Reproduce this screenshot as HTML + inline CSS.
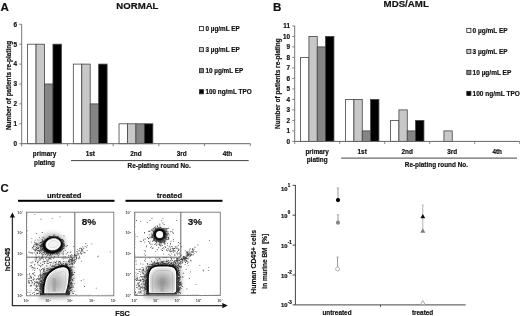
<!DOCTYPE html><html><head><meta charset="utf-8"><style>html,body{margin:0;padding:0;background:#fff;width:520px;height:316px;overflow:hidden;}svg{display:block;will-change:transform;}</style></head><body>
<svg width="520" height="316" viewBox="0 0 520 316" font-family='"Liberation Sans", sans-serif'>
<rect width="520" height="316" fill="#fff"/>
<text x="0.50" y="10.60" font-size="11.6" text-anchor="start" font-weight="bold" fill="#111" stroke="#111" stroke-width="0.18" >A</text>
<text x="137.40" y="9.40" font-size="9.6" text-anchor="middle" font-weight="bold" fill="#111" stroke="#111" stroke-width="0.18" >NORMAL</text>
<rect x="27.60" y="44.20" width="8.45" height="99.50" fill="#ffffff" stroke="#444" stroke-width="0.8"/>
<rect x="36.05" y="44.20" width="8.45" height="99.50" fill="#c8c8c8" stroke="#444" stroke-width="0.8"/>
<rect x="44.50" y="84.00" width="8.45" height="59.70" fill="#858585" stroke="#444" stroke-width="0.8"/>
<rect x="52.95" y="44.20" width="8.45" height="99.50" fill="#000000" stroke="#444" stroke-width="0.8"/>
<rect x="73.32" y="64.10" width="8.45" height="79.60" fill="#ffffff" stroke="#444" stroke-width="0.8"/>
<rect x="81.77" y="64.10" width="8.45" height="79.60" fill="#c8c8c8" stroke="#444" stroke-width="0.8"/>
<rect x="90.22" y="103.90" width="8.45" height="39.80" fill="#858585" stroke="#444" stroke-width="0.8"/>
<rect x="98.67" y="64.10" width="8.45" height="79.60" fill="#000000" stroke="#444" stroke-width="0.8"/>
<rect x="119.04" y="123.80" width="8.45" height="19.90" fill="#ffffff" stroke="#444" stroke-width="0.8"/>
<rect x="127.49" y="123.80" width="8.45" height="19.90" fill="#c8c8c8" stroke="#444" stroke-width="0.8"/>
<rect x="135.94" y="123.80" width="8.45" height="19.90" fill="#858585" stroke="#444" stroke-width="0.8"/>
<rect x="144.39" y="123.80" width="8.45" height="19.90" fill="#000000" stroke="#444" stroke-width="0.8"/>
<line x1="21.70" y1="24.30" x2="21.70" y2="146.20" stroke="#777" stroke-width="1"/>
<line x1="19.20" y1="143.70" x2="21.70" y2="143.70" stroke="#777" stroke-width="0.9"/>
<text x="17.00" y="146.00" font-size="6.4" text-anchor="end" font-weight="bold" fill="#111" stroke="#111" stroke-width="0.18" >0</text>
<line x1="19.20" y1="123.80" x2="21.70" y2="123.80" stroke="#777" stroke-width="0.9"/>
<text x="17.00" y="126.10" font-size="6.4" text-anchor="end" font-weight="bold" fill="#111" stroke="#111" stroke-width="0.18" >1</text>
<line x1="19.20" y1="103.90" x2="21.70" y2="103.90" stroke="#777" stroke-width="0.9"/>
<text x="17.00" y="106.20" font-size="6.4" text-anchor="end" font-weight="bold" fill="#111" stroke="#111" stroke-width="0.18" >2</text>
<line x1="19.20" y1="84.00" x2="21.70" y2="84.00" stroke="#777" stroke-width="0.9"/>
<text x="17.00" y="86.30" font-size="6.4" text-anchor="end" font-weight="bold" fill="#111" stroke="#111" stroke-width="0.18" >3</text>
<line x1="19.20" y1="64.10" x2="21.70" y2="64.10" stroke="#777" stroke-width="0.9"/>
<text x="17.00" y="66.40" font-size="6.4" text-anchor="end" font-weight="bold" fill="#111" stroke="#111" stroke-width="0.18" >4</text>
<line x1="19.20" y1="44.20" x2="21.70" y2="44.20" stroke="#777" stroke-width="0.9"/>
<text x="17.00" y="46.50" font-size="6.4" text-anchor="end" font-weight="bold" fill="#111" stroke="#111" stroke-width="0.18" >5</text>
<line x1="19.20" y1="24.30" x2="21.70" y2="24.30" stroke="#777" stroke-width="0.9"/>
<text x="17.00" y="26.60" font-size="6.4" text-anchor="end" font-weight="bold" fill="#111" stroke="#111" stroke-width="0.18" >6</text>
<line x1="21.70" y1="143.70" x2="250.30" y2="143.70" stroke="#666" stroke-width="1"/>
<line x1="67.42" y1="143.70" x2="67.42" y2="146.20" stroke="#777" stroke-width="0.9"/>
<line x1="113.14" y1="143.70" x2="113.14" y2="146.20" stroke="#777" stroke-width="0.9"/>
<line x1="158.86" y1="143.70" x2="158.86" y2="146.20" stroke="#777" stroke-width="0.9"/>
<line x1="204.58" y1="143.70" x2="204.58" y2="146.20" stroke="#777" stroke-width="0.9"/>
<line x1="250.30" y1="143.70" x2="250.30" y2="146.20" stroke="#777" stroke-width="0.9"/>
<text x="0.00" y="0.00" font-size="6.4" text-anchor="middle" font-weight="bold" fill="#111" stroke="#111" stroke-width="0.18" transform="translate(10.6,85.5) rotate(-90)">Number of patients re-plating</text>
<text x="44.56" y="155.90" font-size="6.4" text-anchor="middle" font-weight="bold" fill="#111" stroke="#111" stroke-width="0.18" >primary</text>
<text x="90.28" y="155.90" font-size="6.4" text-anchor="middle" font-weight="bold" fill="#111" stroke="#111" stroke-width="0.18" >1st</text>
<text x="136.00" y="155.90" font-size="6.4" text-anchor="middle" font-weight="bold" fill="#111" stroke="#111" stroke-width="0.18" >2nd</text>
<text x="181.72" y="155.90" font-size="6.4" text-anchor="middle" font-weight="bold" fill="#111" stroke="#111" stroke-width="0.18" >3rd</text>
<text x="227.44" y="155.90" font-size="6.4" text-anchor="middle" font-weight="bold" fill="#111" stroke="#111" stroke-width="0.18" >4th</text>
<text x="44.56" y="164.80" font-size="6.4" text-anchor="middle" font-weight="bold" fill="#111" stroke="#111" stroke-width="0.18" >plating</text>
<line x1="71.00" y1="160.60" x2="248.70" y2="160.60" stroke="#444" stroke-width="1"/>
<text x="127.60" y="168.10" font-size="6.4" text-anchor="start" font-weight="bold" fill="#111" stroke="#111" stroke-width="0.18" >Re-plating round No.</text>
<rect x="199.40" y="26.55" width="4.10" height="4.10" fill="#ffffff" stroke="#222" stroke-width="0.8"/>
<text x="205.50" y="30.90" font-size="6.35" text-anchor="start" font-weight="bold" fill="#111" stroke="#111" stroke-width="0.18" >0 µg/mL EP</text>
<rect x="199.40" y="47.60" width="4.10" height="4.10" fill="#c8c8c8" stroke="#222" stroke-width="0.8"/>
<text x="205.50" y="51.95" font-size="6.35" text-anchor="start" font-weight="bold" fill="#111" stroke="#111" stroke-width="0.18" >3 µg/mL EP</text>
<rect x="199.40" y="68.65" width="4.10" height="4.10" fill="#858585" stroke="#222" stroke-width="0.8"/>
<text x="205.50" y="73.00" font-size="6.35" text-anchor="start" font-weight="bold" fill="#111" stroke="#111" stroke-width="0.18" >10 µg/mL EP</text>
<rect x="199.40" y="89.70" width="4.10" height="4.10" fill="#000000" stroke="#222" stroke-width="0.8"/>
<text x="205.50" y="94.05" font-size="6.35" text-anchor="start" font-weight="bold" fill="#111" stroke="#111" stroke-width="0.18" >100 ng/mL TPO</text>
<text x="272.90" y="10.60" font-size="11.6" text-anchor="start" font-weight="bold" fill="#111" stroke="#111" stroke-width="0.18" >B</text>
<text x="406.20" y="7.20" font-size="9.7" text-anchor="middle" font-weight="bold" fill="#111" stroke="#111" stroke-width="0.18" >MDS/AML</text>
<rect x="300.60" y="57.40" width="8.33" height="84.00" fill="#ffffff" stroke="#444" stroke-width="0.8"/>
<rect x="308.93" y="36.40" width="8.33" height="105.00" fill="#c8c8c8" stroke="#444" stroke-width="0.8"/>
<rect x="317.26" y="46.90" width="8.33" height="94.50" fill="#858585" stroke="#444" stroke-width="0.8"/>
<rect x="325.59" y="36.40" width="8.33" height="105.00" fill="#000000" stroke="#444" stroke-width="0.8"/>
<rect x="345.60" y="99.40" width="8.33" height="42.00" fill="#ffffff" stroke="#444" stroke-width="0.8"/>
<rect x="353.93" y="99.40" width="8.33" height="42.00" fill="#c8c8c8" stroke="#444" stroke-width="0.8"/>
<rect x="362.26" y="130.90" width="8.33" height="10.50" fill="#858585" stroke="#444" stroke-width="0.8"/>
<rect x="370.59" y="99.40" width="8.33" height="42.00" fill="#000000" stroke="#444" stroke-width="0.8"/>
<rect x="390.60" y="120.40" width="8.33" height="21.00" fill="#ffffff" stroke="#444" stroke-width="0.8"/>
<rect x="398.93" y="109.90" width="8.33" height="31.50" fill="#c8c8c8" stroke="#444" stroke-width="0.8"/>
<rect x="407.26" y="130.90" width="8.33" height="10.50" fill="#858585" stroke="#444" stroke-width="0.8"/>
<rect x="415.59" y="120.40" width="8.33" height="21.00" fill="#000000" stroke="#444" stroke-width="0.8"/>
<rect x="443.93" y="130.90" width="8.33" height="10.50" fill="#c8c8c8" stroke="#444" stroke-width="0.8"/>
<line x1="294.70" y1="25.90" x2="294.70" y2="143.90" stroke="#777" stroke-width="1"/>
<line x1="292.20" y1="141.40" x2="294.70" y2="141.40" stroke="#777" stroke-width="0.9"/>
<text x="290.00" y="143.70" font-size="6.4" text-anchor="end" font-weight="bold" fill="#111" stroke="#111" stroke-width="0.18" >0</text>
<line x1="292.20" y1="130.90" x2="294.70" y2="130.90" stroke="#777" stroke-width="0.9"/>
<text x="290.00" y="133.20" font-size="6.4" text-anchor="end" font-weight="bold" fill="#111" stroke="#111" stroke-width="0.18" >1</text>
<line x1="292.20" y1="120.40" x2="294.70" y2="120.40" stroke="#777" stroke-width="0.9"/>
<text x="290.00" y="122.70" font-size="6.4" text-anchor="end" font-weight="bold" fill="#111" stroke="#111" stroke-width="0.18" >2</text>
<line x1="292.20" y1="109.90" x2="294.70" y2="109.90" stroke="#777" stroke-width="0.9"/>
<text x="290.00" y="112.20" font-size="6.4" text-anchor="end" font-weight="bold" fill="#111" stroke="#111" stroke-width="0.18" >3</text>
<line x1="292.20" y1="99.40" x2="294.70" y2="99.40" stroke="#777" stroke-width="0.9"/>
<text x="290.00" y="101.70" font-size="6.4" text-anchor="end" font-weight="bold" fill="#111" stroke="#111" stroke-width="0.18" >4</text>
<line x1="292.20" y1="88.90" x2="294.70" y2="88.90" stroke="#777" stroke-width="0.9"/>
<text x="290.00" y="91.20" font-size="6.4" text-anchor="end" font-weight="bold" fill="#111" stroke="#111" stroke-width="0.18" >5</text>
<line x1="292.20" y1="78.40" x2="294.70" y2="78.40" stroke="#777" stroke-width="0.9"/>
<text x="290.00" y="80.70" font-size="6.4" text-anchor="end" font-weight="bold" fill="#111" stroke="#111" stroke-width="0.18" >6</text>
<line x1="292.20" y1="67.90" x2="294.70" y2="67.90" stroke="#777" stroke-width="0.9"/>
<text x="290.00" y="70.20" font-size="6.4" text-anchor="end" font-weight="bold" fill="#111" stroke="#111" stroke-width="0.18" >7</text>
<line x1="292.20" y1="57.40" x2="294.70" y2="57.40" stroke="#777" stroke-width="0.9"/>
<text x="290.00" y="59.70" font-size="6.4" text-anchor="end" font-weight="bold" fill="#111" stroke="#111" stroke-width="0.18" >8</text>
<line x1="292.20" y1="46.90" x2="294.70" y2="46.90" stroke="#777" stroke-width="0.9"/>
<text x="290.00" y="49.20" font-size="6.4" text-anchor="end" font-weight="bold" fill="#111" stroke="#111" stroke-width="0.18" >9</text>
<line x1="292.20" y1="36.40" x2="294.70" y2="36.40" stroke="#777" stroke-width="0.9"/>
<text x="290.00" y="38.70" font-size="6.4" text-anchor="end" font-weight="bold" fill="#111" stroke="#111" stroke-width="0.18" >10</text>
<line x1="292.20" y1="25.90" x2="294.70" y2="25.90" stroke="#777" stroke-width="0.9"/>
<text x="290.00" y="28.20" font-size="6.4" text-anchor="end" font-weight="bold" fill="#111" stroke="#111" stroke-width="0.18" >11</text>
<line x1="294.70" y1="141.40" x2="519.70" y2="141.40" stroke="#666" stroke-width="1"/>
<line x1="339.70" y1="141.40" x2="339.70" y2="143.90" stroke="#777" stroke-width="0.9"/>
<line x1="384.70" y1="141.40" x2="384.70" y2="143.90" stroke="#777" stroke-width="0.9"/>
<line x1="429.70" y1="141.40" x2="429.70" y2="143.90" stroke="#777" stroke-width="0.9"/>
<line x1="474.70" y1="141.40" x2="474.70" y2="143.90" stroke="#777" stroke-width="0.9"/>
<line x1="519.70" y1="141.40" x2="519.70" y2="143.90" stroke="#777" stroke-width="0.9"/>
<text x="0.00" y="0.00" font-size="6.5" text-anchor="middle" font-weight="bold" fill="#111" stroke="#111" stroke-width="0.18" transform="translate(279.8,83.6) rotate(-90)">Number of patients re-plating</text>
<text x="317.20" y="154.30" font-size="6.4" text-anchor="middle" font-weight="bold" fill="#111" stroke="#111" stroke-width="0.18" >primary</text>
<text x="362.20" y="154.30" font-size="6.4" text-anchor="middle" font-weight="bold" fill="#111" stroke="#111" stroke-width="0.18" >1st</text>
<text x="407.20" y="154.30" font-size="6.4" text-anchor="middle" font-weight="bold" fill="#111" stroke="#111" stroke-width="0.18" >2nd</text>
<text x="452.20" y="154.30" font-size="6.4" text-anchor="middle" font-weight="bold" fill="#111" stroke="#111" stroke-width="0.18" >3rd</text>
<text x="497.20" y="154.30" font-size="6.4" text-anchor="middle" font-weight="bold" fill="#111" stroke="#111" stroke-width="0.18" >4th</text>
<text x="317.20" y="162.40" font-size="6.4" text-anchor="middle" font-weight="bold" fill="#111" stroke="#111" stroke-width="0.18" >plating</text>
<line x1="341.20" y1="158.10" x2="517.00" y2="158.10" stroke="#444" stroke-width="1"/>
<text x="468.00" y="167.00" font-size="6.4" text-anchor="end" font-weight="bold" fill="#111" stroke="#111" stroke-width="0.18" >Re-plating round No.</text>
<rect x="466.80" y="28.35" width="4.10" height="4.10" fill="#ffffff" stroke="#222" stroke-width="0.8"/>
<text x="472.60" y="32.75" font-size="6.5" text-anchor="start" font-weight="bold" fill="#111" stroke="#111" stroke-width="0.18" >0 µg/mL EP</text>
<rect x="466.80" y="49.35" width="4.10" height="4.10" fill="#c8c8c8" stroke="#222" stroke-width="0.8"/>
<text x="472.60" y="53.75" font-size="6.5" text-anchor="start" font-weight="bold" fill="#111" stroke="#111" stroke-width="0.18" >3 µg/mL EP</text>
<rect x="466.80" y="70.35" width="4.10" height="4.10" fill="#858585" stroke="#222" stroke-width="0.8"/>
<text x="472.60" y="74.75" font-size="6.5" text-anchor="start" font-weight="bold" fill="#111" stroke="#111" stroke-width="0.18" >10 µg/mL EP</text>
<rect x="466.80" y="91.35" width="4.10" height="4.10" fill="#000000" stroke="#222" stroke-width="0.8"/>
<text x="472.60" y="95.75" font-size="6.5" text-anchor="start" font-weight="bold" fill="#111" stroke="#111" stroke-width="0.18" >100 ng/mL TPO</text>
<defs><filter id="b1" x="-30%" y="-30%" width="160%" height="160%"><feGaussianBlur stdDeviation="0.7"/></filter><filter id="b2" x="-50%" y="-50%" width="200%" height="200%"><feGaussianBlur stdDeviation="2.2"/></filter><radialGradient id="g1" cx="0.45" cy="0.62" r="0.6"><stop offset="0" stop-color="#a8a8a8"/><stop offset="0.55" stop-color="#cdcdcd"/><stop offset="1" stop-color="#ececec"/></radialGradient><radialGradient id="g2" cx="0.5" cy="0.6" r="0.6"><stop offset="0" stop-color="#8e8e8e"/><stop offset="0.5" stop-color="#bcbcbc"/><stop offset="0.85" stop-color="#dcdcdc"/><stop offset="1" stop-color="#eaeaea"/></radialGradient></defs>
<text x="0.60" y="191.50" font-size="11.3" text-anchor="start" font-weight="bold" fill="#111" stroke="#111" stroke-width="0.18" >C</text>
<text x="64.20" y="197.50" font-size="7.6" text-anchor="middle" font-weight="bold" fill="#111" stroke="#111" stroke-width="0.18" >untreated</text>
<text x="169.50" y="198.30" font-size="7.6" text-anchor="middle" font-weight="bold" fill="#111" stroke="#111" stroke-width="0.18" >treated</text>
<rect x="18.00" y="199.80" width="96.50" height="2.00" fill="#000" stroke="none" stroke-width="0.8"/>
<rect x="125.50" y="199.80" width="97.00" height="2.00" fill="#000" stroke="none" stroke-width="0.8"/>
<line x1="12.40" y1="217.00" x2="12.40" y2="305.60" stroke="#333" stroke-width="1.3"/>
<line x1="11.80" y1="305.60" x2="222.50" y2="305.60" stroke="#333" stroke-width="1.3"/>
<path d="M12.4 212.6 L15 217.6 L9.8 217.6 Z" fill="#111"/>
<path d="M227.8 305.6 L222.3 303 L222.3 308.2 Z" fill="#111"/>
<text x="0.00" y="0.00" font-size="7.4" text-anchor="middle" font-weight="bold" fill="#111" stroke="#111" stroke-width="0.18" transform="translate(9.8,259.5) rotate(-90)">hCD45</text>
<text x="122.60" y="316.40" font-size="7.3" text-anchor="middle" font-weight="bold" fill="#111" stroke="#111" stroke-width="0.18" >FSC</text>
<path d="M44.8 293.3 C44.8 286 46.5 277.5 50 274 C53 271 58 268 63 267.7 C66.5 267.5 68.4 270 68.2 274 C68 279 67.4 286 64.8 292.8 Z" fill="none" stroke="#555" stroke-width="11" stroke-opacity="0.45" filter="url(#b2)"/>
<ellipse cx="52" cy="245" rx="11" ry="9" fill="none" stroke="#555" stroke-width="6" stroke-opacity="0.35" filter="url(#b2)" transform="rotate(-12 52 245)"/>
<path d="M48.3 259.5h0.85v0.85h-0.85zM70.4 251.6h0.85v0.85h-0.85zM50.9 261.8h0.85v0.85h-0.85zM35.7 255.5h0.85v0.85h-0.85zM56.6 278.8h0.85v0.85h-0.85zM31.4 238.2h0.85v0.85h-0.85zM31.3 280.2h0.85v0.85h-0.85zM59.6 216.5h0.85v0.85h-0.85zM73.2 293.1h0.85v0.85h-0.85zM57.7 264.1h0.85v0.85h-0.85zM34.4 214.2h0.85v0.85h-0.85zM51.8 217.9h0.85v0.85h-0.85zM35.9 233.1h0.85v0.85h-0.85zM28.4 251.5h0.85v0.85h-0.85zM47.7 282.9h0.85v0.85h-0.85zM51.4 266.1h0.85v0.85h-0.85zM50.5 268.0h0.85v0.85h-0.85zM48.5 236.1h0.85v0.85h-0.85zM66.5 271.7h0.85v0.85h-0.85zM41.8 232.1h0.85v0.85h-0.85zM40.6 218.8h0.85v0.85h-0.85zM63.0 246.2h0.85v0.85h-0.85zM66.8 245.1h0.85v0.85h-0.85zM72.0 283.3h0.85v0.85h-0.85zM27.0 230.4h0.85v0.85h-0.85zM69.8 252.0h0.85v0.85h-0.85zM73.1 246.0h0.85v0.85h-0.85zM30.4 265.2h0.85v0.85h-0.85zM63.6 235.4h0.85v0.85h-0.85zM31.1 265.3h0.85v0.85h-0.85zM72.3 284.9h0.85v0.85h-0.85zM32.5 261.3h0.85v0.85h-0.85zM31.7 252.8h0.85v0.85h-0.85zM64.5 258.2h0.85v0.85h-0.85zM53.3 270.6h0.85v0.85h-0.85zM36.0 283.7h0.85v0.85h-0.85zM33.2 279.6h0.85v0.85h-0.85zM32.5 269.4h0.85v0.85h-0.85zM37.0 262.4h0.85v0.85h-0.85zM72.6 287.0h0.85v0.85h-0.85zM41.3 290.7h0.85v0.85h-0.85zM36.9 268.1h0.85v0.85h-0.85zM67.2 279.5h0.85v0.85h-0.85zM37.0 261.9h0.85v0.85h-0.85zM63.3 265.1h0.85v0.85h-0.85zM40.9 253.4h0.85v0.85h-0.85zM31.2 276.8h0.85v0.85h-0.85zM38.4 277.7h0.85v0.85h-0.85zM44.5 270.8h0.85v0.85h-0.85zM72.1 272.3h0.85v0.85h-0.85zM54.0 289.9h0.85v0.85h-0.85zM35.6 257.1h0.85v0.85h-0.85zM69.7 287.6h0.85v0.85h-0.85zM38.7 258.7h0.85v0.85h-0.85zM61.8 293.3h0.85v0.85h-0.85zM36.2 293.7h0.85v0.85h-0.85zM68.5 277.8h0.85v0.85h-0.85zM46.8 254.8h0.85v0.85h-0.85zM75.5 293.9h0.85v0.85h-0.85zM83.3 279.5h0.85v0.85h-0.85zM84.0 286.1h0.85v0.85h-0.85zM97.3 256.4h0.85v0.85h-0.85zM80.8 280.3h0.85v0.85h-0.85zM76.7 252.8h0.85v0.85h-0.85zM95.8 287.7h0.85v0.85h-0.85zM98.0 255.7h0.85v0.85h-0.85zM109.8 251.4h0.85v0.85h-0.85zM74.6 255.1h0.85v0.85h-0.85zM91.4 243.4h0.85v0.85h-0.85zM80.9 260.7h0.85v0.85h-0.85zM32.1 281.9h0.85v0.85h-0.85zM43.7 282.4h0.85v0.85h-0.85zM32.1 272.9h0.85v0.85h-0.85zM36.0 285.9h0.85v0.85h-0.85zM48.1 286.2h0.85v0.85h-0.85zM30.3 262.0h0.85v0.85h-0.85zM43.5 285.7h0.85v0.85h-0.85zM41.7 289.2h0.85v0.85h-0.85zM33.9 264.7h0.85v0.85h-0.85zM34.2 270.0h0.85v0.85h-0.85zM38.6 264.8h0.85v0.85h-0.85zM44.9 273.4h0.85v0.85h-0.85zM40.1 275.1h0.85v0.85h-0.85zM30.8 277.8h0.85v0.85h-0.85zM27.9 277.9h0.85v0.85h-0.85zM42.5 290.2h0.85v0.85h-0.85zM47.3 283.2h0.85v0.85h-0.85zM34.2 275.2h0.85v0.85h-0.85zM34.3 272.2h0.85v0.85h-0.85zM43.6 291.5h0.85v0.85h-0.85zM43.0 286.3h0.85v0.85h-0.85zM30.7 284.8h0.85v0.85h-0.85zM32.8 274.0h0.85v0.85h-0.85zM35.0 285.4h0.85v0.85h-0.85zM36.1 289.2h0.85v0.85h-0.85zM42.3 276.6h0.85v0.85h-0.85zM37.0 293.1h0.85v0.85h-0.85zM39.6 265.3h0.85v0.85h-0.85zM39.3 277.9h0.85v0.85h-0.85zM30.5 280.1h0.85v0.85h-0.85zM39.6 292.0h0.85v0.85h-0.85zM41.1 269.1h0.85v0.85h-0.85zM31.5 262.6h0.85v0.85h-0.85zM34.4 289.4h0.85v0.85h-0.85zM30.4 286.2h0.85v0.85h-0.85zM36.4 293.1h0.85v0.85h-0.85zM30.1 276.5h0.85v0.85h-0.85zM41.5 282.9h0.85v0.85h-0.85zM36.4 285.0h0.85v0.85h-0.85zM36.2 282.1h0.85v0.85h-0.85zM33.0 272.7h0.85v0.85h-0.85zM38.2 284.6h0.85v0.85h-0.85zM33.7 284.6h0.85v0.85h-0.85zM37.1 278.2h0.85v0.85h-0.85zM36.2 286.2h0.85v0.85h-0.85zM30.5 276.9h0.85v0.85h-0.85zM29.0 274.4h0.85v0.85h-0.85zM40.3 262.8h0.85v0.85h-0.85zM33.4 278.5h0.85v0.85h-0.85zM31.3 284.9h0.85v0.85h-0.85zM41.8 284.7h0.85v0.85h-0.85zM34.2 278.5h0.85v0.85h-0.85zM34.2 292.2h0.85v0.85h-0.85zM32.6 273.7h0.85v0.85h-0.85zM27.4 274.0h0.85v0.85h-0.85zM37.1 281.9h0.85v0.85h-0.85zM43.8 278.1h0.85v0.85h-0.85zM39.5 291.2h0.85v0.85h-0.85zM29.4 292.2h0.85v0.85h-0.85zM42.8 273.0h0.85v0.85h-0.85zM41.3 280.6h0.85v0.85h-0.85zM32.6 279.0h0.85v0.85h-0.85zM33.1 267.6h0.85v0.85h-0.85zM29.0 272.9h0.85v0.85h-0.85zM51.4 281.0h0.85v0.85h-0.85zM38.4 277.4h0.85v0.85h-0.85zM40.6 288.8h0.85v0.85h-0.85zM33.6 284.2h0.85v0.85h-0.85zM35.8 280.9h0.85v0.85h-0.85zM36.1 278.7h0.85v0.85h-0.85zM37.2 287.9h0.85v0.85h-0.85zM39.9 272.4h0.85v0.85h-0.85zM41.6 280.5h0.85v0.85h-0.85zM37.4 282.8h0.85v0.85h-0.85zM30.3 275.6h0.85v0.85h-0.85zM39.3 274.4h0.85v0.85h-0.85zM32.8 292.2h0.85v0.85h-0.85zM42.3 268.0h0.85v0.85h-0.85zM42.2 281.8h0.85v0.85h-0.85zM31.4 281.3h0.85v0.85h-0.85zM28.1 281.6h0.85v0.85h-0.85zM33.9 282.7h0.85v0.85h-0.85zM42.1 281.9h0.85v0.85h-0.85zM28.6 280.0h0.85v0.85h-0.85zM34.2 280.9h0.85v0.85h-0.85zM29.0 281.8h0.85v0.85h-0.85zM48.1 278.5h0.85v0.85h-0.85zM34.2 294.1h0.85v0.85h-0.85zM39.5 290.9h0.85v0.85h-0.85zM40.2 266.3h0.85v0.85h-0.85zM29.8 285.2h0.85v0.85h-0.85zM37.8 281.9h0.85v0.85h-0.85zM35.2 282.1h0.85v0.85h-0.85zM36.5 290.1h0.85v0.85h-0.85zM33.0 276.7h0.85v0.85h-0.85zM29.9 293.9h0.85v0.85h-0.85zM42.7 292.9h0.85v0.85h-0.85zM40.1 291.5h0.85v0.85h-0.85zM35.0 290.0h0.85v0.85h-0.85zM28.7 282.2h0.85v0.85h-0.85zM30.6 290.5h0.85v0.85h-0.85zM31.5 283.0h0.85v0.85h-0.85zM30.2 275.6h0.85v0.85h-0.85zM39.9 274.0h0.85v0.85h-0.85zM37.7 278.9h0.85v0.85h-0.85zM34.4 267.6h0.85v0.85h-0.85zM39.3 279.5h0.85v0.85h-0.85zM37.4 280.9h0.85v0.85h-0.85zM34.8 288.1h0.85v0.85h-0.85zM38.1 275.8h0.85v0.85h-0.85zM35.8 279.5h0.85v0.85h-0.85zM27.5 291.8h0.85v0.85h-0.85zM39.0 284.7h0.85v0.85h-0.85zM29.6 265.9h0.85v0.85h-0.85zM37.9 283.1h0.85v0.85h-0.85zM35.9 287.2h0.85v0.85h-0.85zM36.3 285.5h0.85v0.85h-0.85zM28.2 280.5h0.85v0.85h-0.85zM31.9 281.9h0.85v0.85h-0.85zM36.6 289.6h0.85v0.85h-0.85zM44.8 260.9h0.85v0.85h-0.85zM37.4 282.2h0.85v0.85h-0.85zM48.7 292.4h0.85v0.85h-0.85zM31.9 292.9h0.85v0.85h-0.85zM28.7 283.1h0.85v0.85h-0.85zM34.2 283.1h0.85v0.85h-0.85zM31.5 267.5h0.85v0.85h-0.85zM37.8 293.0h0.85v0.85h-0.85zM34.6 274.8h0.85v0.85h-0.85zM36.2 289.1h0.85v0.85h-0.85zM33.9 283.9h0.85v0.85h-0.85zM43.5 273.9h0.85v0.85h-0.85zM31.7 266.8h0.85v0.85h-0.85zM30.8 277.3h0.85v0.85h-0.85zM29.2 277.8h0.85v0.85h-0.85zM45.8 282.2h0.85v0.85h-0.85zM34.6 268.4h0.85v0.85h-0.85zM50.6 258.7h0.85v0.85h-0.85zM61.7 257.6h0.85v0.85h-0.85zM41.8 256.4h0.85v0.85h-0.85zM47.9 258.4h0.85v0.85h-0.85zM46.4 260.7h0.85v0.85h-0.85zM41.5 265.3h0.85v0.85h-0.85zM55.4 262.2h0.85v0.85h-0.85zM38.9 258.3h0.85v0.85h-0.85zM49.4 270.4h0.85v0.85h-0.85zM42.9 259.3h0.85v0.85h-0.85zM40.7 258.2h0.85v0.85h-0.85zM38.2 261.3h0.85v0.85h-0.85zM59.9 262.0h0.85v0.85h-0.85zM42.4 256.3h0.85v0.85h-0.85zM48.9 261.9h0.85v0.85h-0.85zM36.0 258.2h0.85v0.85h-0.85zM46.6 265.5h0.85v0.85h-0.85zM52.6 262.7h0.85v0.85h-0.85zM44.1 263.1h0.85v0.85h-0.85zM46.9 269.6h0.85v0.85h-0.85zM36.8 260.7h0.85v0.85h-0.85zM58.4 261.1h0.85v0.85h-0.85zM59.8 261.8h0.85v0.85h-0.85zM48.3 260.7h0.85v0.85h-0.85zM34.6 258.6h0.85v0.85h-0.85zM66.9 264.3h0.85v0.85h-0.85zM52.5 265.3h0.85v0.85h-0.85zM52.1 265.6h0.85v0.85h-0.85zM44.6 261.2h0.85v0.85h-0.85zM55.9 260.8h0.85v0.85h-0.85zM35.0 261.2h0.85v0.85h-0.85zM42.1 264.1h0.85v0.85h-0.85zM40.5 258.3h0.85v0.85h-0.85zM44.0 267.4h0.85v0.85h-0.85zM46.6 262.6h0.85v0.85h-0.85zM47.1 263.0h0.85v0.85h-0.85zM55.4 266.9h0.85v0.85h-0.85zM32.2 266.8h0.85v0.85h-0.85zM47.0 260.9h0.85v0.85h-0.85zM68.6 261.4h0.85v0.85h-0.85zM64.5 265.4h0.85v0.85h-0.85zM37.7 263.7h0.85v0.85h-0.85zM53.6 261.6h0.85v0.85h-0.85zM45.3 258.1h0.85v0.85h-0.85zM63.4 261.1h0.85v0.85h-0.85zM43.5 261.0h0.85v0.85h-0.85zM39.9 259.3h0.85v0.85h-0.85zM47.8 263.1h0.85v0.85h-0.85zM42.4 261.7h0.85v0.85h-0.85zM34.5 263.8h0.85v0.85h-0.85zM40.3 262.8h0.85v0.85h-0.85zM38.8 260.2h0.85v0.85h-0.85zM48.9 257.8h0.85v0.85h-0.85zM69.2 261.9h0.85v0.85h-0.85zM46.3 259.4h0.85v0.85h-0.85zM61.4 266.9h0.85v0.85h-0.85zM49.7 257.2h0.85v0.85h-0.85zM42.5 264.2h0.85v0.85h-0.85zM42.4 257.9h0.85v0.85h-0.85zM36.3 259.3h0.85v0.85h-0.85zM47.1 259.7h0.85v0.85h-0.85zM47.2 271.8h0.85v0.85h-0.85zM63.0 258.4h0.85v0.85h-0.85zM50.1 262.3h0.85v0.85h-0.85zM45.8 265.7h0.85v0.85h-0.85zM44.0 260.9h0.85v0.85h-0.85zM43.6 261.6h0.85v0.85h-0.85zM58.6 264.7h0.85v0.85h-0.85zM34.9 260.5h0.85v0.85h-0.85zM52.1 270.6h0.85v0.85h-0.85zM70.7 276.0h0.85v0.85h-0.85zM43.5 289.7h0.85v0.85h-0.85zM71.5 277.7h0.85v0.85h-0.85zM55.3 268.5h0.85v0.85h-0.85zM70.0 269.4h0.85v0.85h-0.85zM49.7 273.0h0.85v0.85h-0.85zM55.3 264.2h0.85v0.85h-0.85zM43.8 287.9h0.85v0.85h-0.85zM64.5 266.6h0.85v0.85h-0.85zM69.0 272.6h0.85v0.85h-0.85zM45.1 279.7h0.85v0.85h-0.85zM44.0 288.8h0.85v0.85h-0.85zM45.2 273.5h0.85v0.85h-0.85zM51.1 271.0h0.85v0.85h-0.85zM69.6 273.9h0.85v0.85h-0.85zM68.7 289.4h0.85v0.85h-0.85zM69.7 280.5h0.85v0.85h-0.85zM46.6 270.3h0.85v0.85h-0.85zM45.1 276.9h0.85v0.85h-0.85zM51.2 269.8h0.85v0.85h-0.85zM44.3 281.0h0.85v0.85h-0.85zM70.0 280.1h0.85v0.85h-0.85zM42.9 282.5h0.85v0.85h-0.85zM70.1 286.8h0.85v0.85h-0.85zM63.1 266.7h0.85v0.85h-0.85zM66.3 291.5h0.85v0.85h-0.85zM63.4 266.3h0.85v0.85h-0.85zM44.1 288.6h0.85v0.85h-0.85zM40.5 290.9h0.85v0.85h-0.85zM44.0 284.7h0.85v0.85h-0.85zM44.8 279.1h0.85v0.85h-0.85zM62.0 265.7h0.85v0.85h-0.85zM66.9 292.4h0.85v0.85h-0.85zM59.8 267.0h0.85v0.85h-0.85zM70.0 289.9h0.85v0.85h-0.85zM70.7 282.4h0.85v0.85h-0.85zM71.4 283.1h0.85v0.85h-0.85zM68.7 293.2h0.85v0.85h-0.85zM69.0 280.5h0.85v0.85h-0.85zM55.0 269.0h0.85v0.85h-0.85zM50.2 264.6h0.85v0.85h-0.85zM44.3 280.3h0.85v0.85h-0.85zM39.9 293.4h0.85v0.85h-0.85zM44.4 286.4h0.85v0.85h-0.85zM43.2 290.6h0.85v0.85h-0.85zM66.1 266.5h0.85v0.85h-0.85zM45.2 281.7h0.85v0.85h-0.85zM45.2 278.0h0.85v0.85h-0.85zM44.6 281.7h0.85v0.85h-0.85zM44.2 282.7h0.85v0.85h-0.85zM70.9 281.6h0.85v0.85h-0.85zM45.6 276.0h0.85v0.85h-0.85zM63.6 266.1h0.85v0.85h-0.85zM60.0 262.8h0.85v0.85h-0.85zM70.1 280.4h0.85v0.85h-0.85zM62.2 266.2h0.85v0.85h-0.85zM73.8 266.7h0.85v0.85h-0.85zM71.4 273.3h0.85v0.85h-0.85zM44.3 283.7h0.85v0.85h-0.85zM69.2 285.5h0.85v0.85h-0.85zM68.3 269.4h0.85v0.85h-0.85zM42.4 284.7h0.85v0.85h-0.85zM41.6 290.3h0.85v0.85h-0.85zM71.1 273.7h0.85v0.85h-0.85zM66.5 290.9h0.85v0.85h-0.85zM68.5 284.4h0.85v0.85h-0.85zM68.9 289.4h0.85v0.85h-0.85zM70.9 282.4h0.85v0.85h-0.85zM44.4 283.7h0.85v0.85h-0.85zM47.9 272.6h0.85v0.85h-0.85zM58.1 267.3h0.85v0.85h-0.85zM50.8 270.0h0.85v0.85h-0.85zM57.8 266.9h0.85v0.85h-0.85zM70.4 282.6h0.85v0.85h-0.85zM69.0 274.3h0.85v0.85h-0.85zM67.7 261.2h0.85v0.85h-0.85zM69.0 280.3h0.85v0.85h-0.85zM68.6 267.0h0.85v0.85h-0.85zM47.1 273.3h0.85v0.85h-0.85zM53.4 270.3h0.85v0.85h-0.85zM70.2 275.2h0.85v0.85h-0.85zM66.8 290.2h0.85v0.85h-0.85zM70.2 282.4h0.85v0.85h-0.85zM43.4 285.1h0.85v0.85h-0.85zM42.3 282.3h0.85v0.85h-0.85zM69.5 283.1h0.85v0.85h-0.85zM44.2 283.7h0.85v0.85h-0.85zM53.9 267.8h0.85v0.85h-0.85zM61.2 266.3h0.85v0.85h-0.85zM70.2 277.8h0.85v0.85h-0.85zM54.4 268.4h0.85v0.85h-0.85zM53.2 266.2h0.85v0.85h-0.85zM69.0 270.8h0.85v0.85h-0.85zM43.0 293.9h0.85v0.85h-0.85zM42.2 288.1h0.85v0.85h-0.85zM61.1 266.0h0.85v0.85h-0.85zM42.4 284.0h0.85v0.85h-0.85zM68.6 288.0h0.85v0.85h-0.85zM42.9 285.2h0.85v0.85h-0.85zM66.2 293.3h0.85v0.85h-0.85zM41.6 280.8h0.85v0.85h-0.85zM68.8 268.0h0.85v0.85h-0.85zM65.5 266.5h0.85v0.85h-0.85zM49.0 271.7h0.85v0.85h-0.85zM43.0 286.5h0.85v0.85h-0.85zM42.3 285.9h0.85v0.85h-0.85zM64.4 266.3h0.85v0.85h-0.85zM68.2 288.3h0.85v0.85h-0.85zM42.2 286.9h0.85v0.85h-0.85zM48.0 275.0h0.85v0.85h-0.85zM71.1 282.8h0.85v0.85h-0.85zM63.8 265.8h0.85v0.85h-0.85zM65.8 292.9h0.85v0.85h-0.85zM70.0 269.9h0.85v0.85h-0.85zM51.9 267.7h0.85v0.85h-0.85zM69.3 280.6h0.85v0.85h-0.85zM42.6 285.2h0.85v0.85h-0.85zM65.5 265.6h0.85v0.85h-0.85zM64.6 266.9h0.85v0.85h-0.85zM68.7 269.5h0.85v0.85h-0.85zM67.0 291.7h0.85v0.85h-0.85zM58.5 265.7h0.85v0.85h-0.85zM71.0 276.9h0.85v0.85h-0.85zM59.6 265.5h0.85v0.85h-0.85zM53.9 266.1h0.85v0.85h-0.85zM65.7 264.8h0.85v0.85h-0.85zM55.8 268.6h0.85v0.85h-0.85zM49.1 272.8h0.85v0.85h-0.85zM73.2 274.1h0.85v0.85h-0.85zM69.4 276.9h0.85v0.85h-0.85zM44.3 285.9h0.85v0.85h-0.85zM61.2 264.4h0.85v0.85h-0.85zM62.2 266.1h0.85v0.85h-0.85zM48.8 274.0h0.85v0.85h-0.85zM67.9 288.2h0.85v0.85h-0.85zM71.5 269.3h0.85v0.85h-0.85zM44.3 278.9h0.85v0.85h-0.85zM66.1 264.3h0.85v0.85h-0.85zM42.6 286.6h0.85v0.85h-0.85zM66.4 290.4h0.85v0.85h-0.85zM48.6 271.7h0.85v0.85h-0.85zM68.9 287.5h0.85v0.85h-0.85zM66.4 266.3h0.85v0.85h-0.85zM43.6 292.5h0.85v0.85h-0.85zM68.6 290.8h0.85v0.85h-0.85zM58.5 266.6h0.85v0.85h-0.85zM71.6 289.1h0.85v0.85h-0.85zM69.5 283.2h0.85v0.85h-0.85zM67.9 285.8h0.85v0.85h-0.85zM44.1 280.5h0.85v0.85h-0.85zM41.0 293.3h0.85v0.85h-0.85zM72.1 273.9h0.85v0.85h-0.85zM71.2 273.4h0.85v0.85h-0.85zM69.6 273.0h0.85v0.85h-0.85zM45.9 279.1h0.85v0.85h-0.85zM69.5 274.1h0.85v0.85h-0.85zM69.9 270.4h0.85v0.85h-0.85zM51.5 269.0h0.85v0.85h-0.85zM44.4 278.3h0.85v0.85h-0.85zM67.3 289.1h0.85v0.85h-0.85zM41.8 289.6h0.85v0.85h-0.85zM56.3 268.1h0.85v0.85h-0.85zM66.6 267.7h0.85v0.85h-0.85zM45.5 276.8h0.85v0.85h-0.85zM69.7 277.1h0.85v0.85h-0.85zM46.2 274.6h0.85v0.85h-0.85zM58.1 264.5h0.85v0.85h-0.85zM61.0 264.3h0.85v0.85h-0.85zM64.7 265.2h0.85v0.85h-0.85zM71.1 278.9h0.85v0.85h-0.85zM60.7 266.4h0.85v0.85h-0.85zM68.2 292.1h0.85v0.85h-0.85zM69.9 278.8h0.85v0.85h-0.85zM56.3 267.8h0.85v0.85h-0.85zM68.8 279.4h0.85v0.85h-0.85zM43.6 278.8h0.85v0.85h-0.85zM60.8 264.8h0.85v0.85h-0.85zM65.9 265.4h0.85v0.85h-0.85zM42.8 282.3h0.85v0.85h-0.85zM55.9 268.7h0.85v0.85h-0.85zM43.4 274.7h0.85v0.85h-0.85zM65.7 265.3h0.85v0.85h-0.85zM69.7 279.7h0.85v0.85h-0.85zM43.1 292.1h0.85v0.85h-0.85zM67.7 268.5h0.85v0.85h-0.85zM42.0 289.6h0.85v0.85h-0.85zM43.5 282.8h0.85v0.85h-0.85zM71.1 282.8h0.85v0.85h-0.85zM43.5 290.5h0.85v0.85h-0.85zM66.8 292.5h0.85v0.85h-0.85zM59.7 266.5h0.85v0.85h-0.85zM57.2 268.3h0.85v0.85h-0.85zM43.6 291.9h0.85v0.85h-0.85zM53.3 269.5h0.85v0.85h-0.85zM54.9 262.1h0.85v0.85h-0.85zM70.2 277.5h0.85v0.85h-0.85zM44.8 278.4h0.85v0.85h-0.85zM57.7 267.7h0.85v0.85h-0.85zM50.6 268.7h0.85v0.85h-0.85zM44.0 291.5h0.85v0.85h-0.85zM69.9 269.2h0.85v0.85h-0.85zM70.6 285.6h0.85v0.85h-0.85zM70.6 287.5h0.85v0.85h-0.85zM52.0 268.2h0.85v0.85h-0.85zM44.9 279.5h0.85v0.85h-0.85zM42.6 283.6h0.85v0.85h-0.85zM45.1 279.6h0.85v0.85h-0.85zM66.8 294.8h0.85v0.85h-0.85zM68.5 284.8h0.85v0.85h-0.85zM69.4 272.8h0.85v0.85h-0.85zM47.0 275.5h0.85v0.85h-0.85zM53.1 268.8h0.85v0.85h-0.85zM69.6 274.3h0.85v0.85h-0.85zM67.4 290.1h0.85v0.85h-0.85zM69.1 278.0h0.85v0.85h-0.85zM49.4 273.1h0.85v0.85h-0.85zM43.0 289.4h0.85v0.85h-0.85zM62.5 264.1h0.85v0.85h-0.85zM53.2 269.1h0.85v0.85h-0.85zM66.4 267.4h0.85v0.85h-0.85zM48.4 273.0h0.85v0.85h-0.85zM69.2 274.0h0.85v0.85h-0.85zM69.7 275.0h0.85v0.85h-0.85zM46.8 274.9h0.85v0.85h-0.85zM54.0 268.8h0.85v0.85h-0.85zM47.4 274.1h0.85v0.85h-0.85zM43.0 279.2h0.85v0.85h-0.85zM64.6 266.6h0.85v0.85h-0.85zM67.4 293.7h0.85v0.85h-0.85zM41.7 279.0h0.85v0.85h-0.85zM69.6 270.8h0.85v0.85h-0.85zM68.8 268.5h0.85v0.85h-0.85zM55.4 267.1h0.85v0.85h-0.85zM49.4 272.4h0.85v0.85h-0.85zM46.1 274.5h0.85v0.85h-0.85zM43.8 283.1h0.85v0.85h-0.85zM45.4 277.7h0.85v0.85h-0.85zM43.1 284.5h0.85v0.85h-0.85zM69.0 273.7h0.85v0.85h-0.85zM53.2 269.9h0.85v0.85h-0.85zM42.4 291.2h0.85v0.85h-0.85zM66.2 266.6h0.85v0.85h-0.85zM48.5 271.5h0.85v0.85h-0.85zM67.7 286.7h0.85v0.85h-0.85zM46.3 276.3h0.85v0.85h-0.85zM68.8 266.7h0.85v0.85h-0.85zM50.3 268.2h0.85v0.85h-0.85zM68.7 268.1h0.85v0.85h-0.85zM54.4 269.0h0.85v0.85h-0.85zM71.4 287.3h0.85v0.85h-0.85zM68.7 288.6h0.85v0.85h-0.85zM47.6 272.6h0.85v0.85h-0.85zM66.2 292.4h0.85v0.85h-0.85zM70.1 271.5h0.85v0.85h-0.85zM43.4 294.8h0.85v0.85h-0.85zM59.9 266.6h0.85v0.85h-0.85zM65.0 263.6h0.85v0.85h-0.85zM67.1 292.6h0.85v0.85h-0.85zM50.2 271.0h0.85v0.85h-0.85zM71.7 271.7h0.85v0.85h-0.85zM67.3 292.4h0.85v0.85h-0.85zM60.1 265.1h0.85v0.85h-0.85zM52.1 271.2h0.85v0.85h-0.85zM43.9 277.5h0.85v0.85h-0.85zM49.0 272.3h0.85v0.85h-0.85zM44.3 289.8h0.85v0.85h-0.85zM42.9 288.1h0.85v0.85h-0.85zM70.2 278.2h0.85v0.85h-0.85zM44.6 283.3h0.85v0.85h-0.85zM46.5 277.0h0.85v0.85h-0.85zM68.9 280.1h0.85v0.85h-0.85zM70.3 274.0h0.85v0.85h-0.85zM48.9 270.9h0.85v0.85h-0.85zM66.3 264.1h0.85v0.85h-0.85zM70.6 273.2h0.85v0.85h-0.85zM41.5 287.0h0.85v0.85h-0.85zM68.9 271.6h0.85v0.85h-0.85zM65.8 267.1h0.85v0.85h-0.85zM66.6 292.2h0.85v0.85h-0.85zM69.5 267.8h0.85v0.85h-0.85zM69.4 291.3h0.85v0.85h-0.85zM43.7 286.5h0.85v0.85h-0.85zM47.1 274.6h0.85v0.85h-0.85zM50.0 272.9h0.85v0.85h-0.85zM63.4 265.8h0.85v0.85h-0.85zM69.9 280.3h0.85v0.85h-0.85zM45.7 273.8h0.85v0.85h-0.85zM67.4 294.2h0.85v0.85h-0.85zM69.2 273.1h0.85v0.85h-0.85zM44.1 282.5h0.85v0.85h-0.85zM67.6 289.9h0.85v0.85h-0.85zM49.6 273.1h0.85v0.85h-0.85zM65.0 266.0h0.85v0.85h-0.85zM45.1 278.6h0.85v0.85h-0.85zM51.6 270.6h0.85v0.85h-0.85zM67.7 286.7h0.85v0.85h-0.85zM38.2 292.9h0.85v0.85h-0.85zM45.0 280.5h0.85v0.85h-0.85zM59.2 267.0h0.85v0.85h-0.85zM42.7 291.4h0.85v0.85h-0.85zM69.3 270.3h0.85v0.85h-0.85zM72.7 286.3h0.85v0.85h-0.85zM56.5 268.5h0.85v0.85h-0.85zM43.3 293.1h0.85v0.85h-0.85zM42.5 287.0h0.85v0.85h-0.85zM47.0 271.9h0.85v0.85h-0.85zM44.0 293.4h0.85v0.85h-0.85zM61.8 267.1h0.85v0.85h-0.85zM71.7 279.6h0.85v0.85h-0.85zM70.6 282.5h0.85v0.85h-0.85zM67.0 294.2h0.85v0.85h-0.85zM69.5 273.7h0.85v0.85h-0.85zM68.4 288.4h0.85v0.85h-0.85zM53.0 269.8h0.85v0.85h-0.85zM70.2 269.5h0.85v0.85h-0.85zM50.2 269.7h0.85v0.85h-0.85zM68.7 288.2h0.85v0.85h-0.85zM69.9 276.1h0.85v0.85h-0.85zM69.4 276.4h0.85v0.85h-0.85zM43.5 287.5h0.85v0.85h-0.85zM49.8 269.7h0.85v0.85h-0.85zM54.0 269.8h0.85v0.85h-0.85zM63.0 265.9h0.85v0.85h-0.85zM46.7 270.0h0.85v0.85h-0.85zM40.0 289.1h0.85v0.85h-0.85zM43.7 279.0h0.85v0.85h-0.85zM69.3 273.8h0.85v0.85h-0.85zM68.9 292.3h0.85v0.85h-0.85zM44.2 281.9h0.85v0.85h-0.85zM68.1 269.4h0.85v0.85h-0.85zM70.9 267.7h0.85v0.85h-0.85zM70.9 285.0h0.85v0.85h-0.85zM61.3 264.4h0.85v0.85h-0.85zM71.2 271.5h0.85v0.85h-0.85zM69.7 270.7h0.85v0.85h-0.85zM67.2 267.0h0.85v0.85h-0.85zM61.6 265.7h0.85v0.85h-0.85zM67.1 266.2h0.85v0.85h-0.85zM72.2 293.2h0.85v0.85h-0.85zM70.1 275.7h0.85v0.85h-0.85zM72.2 274.8h0.85v0.85h-0.85zM42.4 286.5h0.85v0.85h-0.85zM59.9 266.0h0.85v0.85h-0.85zM68.8 291.2h0.85v0.85h-0.85zM69.3 280.2h0.85v0.85h-0.85zM67.8 285.1h0.85v0.85h-0.85zM44.4 276.4h0.85v0.85h-0.85zM68.6 285.0h0.85v0.85h-0.85zM45.7 274.2h0.85v0.85h-0.85zM69.8 279.4h0.85v0.85h-0.85zM44.4 277.2h0.85v0.85h-0.85zM64.6 264.4h0.85v0.85h-0.85zM69.2 280.1h0.85v0.85h-0.85zM43.7 292.0h0.85v0.85h-0.85zM68.8 285.1h0.85v0.85h-0.85zM53.0 269.6h0.85v0.85h-0.85zM71.3 264.2h0.85v0.85h-0.85zM43.0 280.0h0.85v0.85h-0.85zM68.7 285.9h0.85v0.85h-0.85zM55.6 266.0h0.85v0.85h-0.85zM49.8 271.4h0.85v0.85h-0.85zM67.5 266.9h0.85v0.85h-0.85zM44.5 282.0h0.85v0.85h-0.85zM42.6 286.2h0.85v0.85h-0.85zM67.3 290.3h0.85v0.85h-0.85zM66.1 294.0h0.85v0.85h-0.85zM69.6 275.8h0.85v0.85h-0.85zM42.9 284.8h0.85v0.85h-0.85zM55.2 267.2h0.85v0.85h-0.85zM60.9 266.1h0.85v0.85h-0.85zM50.7 271.9h0.85v0.85h-0.85zM45.7 273.6h0.85v0.85h-0.85zM47.2 274.6h0.85v0.85h-0.85zM68.5 290.6h0.85v0.85h-0.85zM69.5 276.3h0.85v0.85h-0.85zM55.0 269.2h0.85v0.85h-0.85zM56.3 267.9h0.85v0.85h-0.85zM71.4 269.9h0.85v0.85h-0.85zM54.4 268.3h0.85v0.85h-0.85zM55.0 268.4h0.85v0.85h-0.85zM70.7 281.9h0.85v0.85h-0.85zM43.2 288.1h0.85v0.85h-0.85zM42.3 289.4h0.85v0.85h-0.85zM70.8 270.2h0.85v0.85h-0.85zM70.1 288.4h0.85v0.85h-0.85zM58.1 267.6h0.85v0.85h-0.85zM58.0 266.8h0.85v0.85h-0.85zM67.8 293.5h0.85v0.85h-0.85zM66.4 294.2h0.85v0.85h-0.85zM71.3 272.4h0.85v0.85h-0.85zM42.2 291.1h0.85v0.85h-0.85zM44.2 279.2h0.85v0.85h-0.85zM44.5 279.9h0.85v0.85h-0.85zM70.4 275.9h0.85v0.85h-0.85zM42.6 283.3h0.85v0.85h-0.85zM44.6 276.2h0.85v0.85h-0.85zM70.5 275.0h0.85v0.85h-0.85zM43.1 294.1h0.85v0.85h-0.85zM68.1 291.3h0.85v0.85h-0.85zM62.5 266.8h0.85v0.85h-0.85zM43.8 287.0h0.85v0.85h-0.85zM42.4 286.7h0.85v0.85h-0.85zM43.1 286.0h0.85v0.85h-0.85zM68.8 278.8h0.85v0.85h-0.85zM54.6 269.1h0.85v0.85h-0.85zM65.0 264.9h0.85v0.85h-0.85zM68.8 284.0h0.85v0.85h-0.85zM66.7 292.4h0.85v0.85h-0.85zM53.7 266.2h0.85v0.85h-0.85zM54.1 265.4h0.85v0.85h-0.85zM44.7 283.8h0.85v0.85h-0.85zM41.7 284.4h0.85v0.85h-0.85zM42.9 293.3h0.85v0.85h-0.85zM72.3 266.3h0.85v0.85h-0.85zM43.1 291.9h0.85v0.85h-0.85zM43.9 286.9h0.85v0.85h-0.85zM48.4 270.9h0.85v0.85h-0.85zM69.4 292.6h0.85v0.85h-0.85zM60.5 266.1h0.85v0.85h-0.85zM69.9 275.9h0.85v0.85h-0.85zM51.2 269.4h0.85v0.85h-0.85zM55.7 268.8h0.85v0.85h-0.85zM42.4 292.2h0.85v0.85h-0.85zM63.6 266.1h0.85v0.85h-0.85zM44.9 279.0h0.85v0.85h-0.85zM59.3 266.4h0.85v0.85h-0.85zM70.9 276.3h0.85v0.85h-0.85zM66.2 291.4h0.85v0.85h-0.85zM67.3 266.0h0.85v0.85h-0.85zM51.3 269.2h0.85v0.85h-0.85zM67.7 267.4h0.85v0.85h-0.85zM61.9 265.0h0.85v0.85h-0.85zM44.3 290.4h0.85v0.85h-0.85zM70.3 280.0h0.85v0.85h-0.85zM68.6 284.6h0.85v0.85h-0.85zM41.7 290.0h0.85v0.85h-0.85zM69.9 282.7h0.85v0.85h-0.85zM72.3 279.2h0.85v0.85h-0.85zM42.0 292.0h0.85v0.85h-0.85zM63.9 266.2h0.85v0.85h-0.85zM70.6 267.4h0.85v0.85h-0.85zM66.1 266.0h0.85v0.85h-0.85zM71.3 275.2h0.85v0.85h-0.85zM71.8 291.3h0.85v0.85h-0.85zM68.7 279.1h0.85v0.85h-0.85zM56.9 266.5h0.85v0.85h-0.85zM44.6 286.2h0.85v0.85h-0.85zM43.9 286.6h0.85v0.85h-0.85zM69.4 270.9h0.85v0.85h-0.85zM48.5 273.4h0.85v0.85h-0.85zM64.3 266.5h0.85v0.85h-0.85zM63.3 265.1h0.85v0.85h-0.85zM44.2 286.0h0.85v0.85h-0.85zM55.8 268.9h0.85v0.85h-0.85zM71.6 270.0h0.85v0.85h-0.85zM53.1 270.4h0.85v0.85h-0.85zM43.3 287.7h0.85v0.85h-0.85zM43.2 280.4h0.85v0.85h-0.85zM42.9 283.5h0.85v0.85h-0.85zM52.8 269.1h0.85v0.85h-0.85zM70.3 283.6h0.85v0.85h-0.85zM66.6 293.2h0.85v0.85h-0.85zM69.1 273.4h0.85v0.85h-0.85zM66.9 264.2h0.85v0.85h-0.85zM42.3 291.2h0.85v0.85h-0.85zM55.8 266.6h0.85v0.85h-0.85zM65.0 265.2h0.85v0.85h-0.85zM59.5 266.4h0.85v0.85h-0.85zM70.2 276.8h0.85v0.85h-0.85zM41.3 294.3h0.85v0.85h-0.85zM64.8 266.5h0.85v0.85h-0.85zM67.2 291.1h0.85v0.85h-0.85zM68.8 280.8h0.85v0.85h-0.85zM44.2 280.7h0.85v0.85h-0.85zM67.2 268.0h0.85v0.85h-0.85zM69.9 288.4h0.85v0.85h-0.85zM71.7 271.2h0.85v0.85h-0.85zM47.4 274.3h0.85v0.85h-0.85zM68.8 275.5h0.85v0.85h-0.85zM62.7 266.7h0.85v0.85h-0.85zM47.0 273.7h0.85v0.85h-0.85zM46.0 275.1h0.85v0.85h-0.85zM47.0 275.2h0.85v0.85h-0.85zM68.8 284.7h0.85v0.85h-0.85zM67.2 267.9h0.85v0.85h-0.85zM70.8 269.4h0.85v0.85h-0.85zM73.5 277.8h0.85v0.85h-0.85zM51.0 269.9h0.85v0.85h-0.85zM44.1 277.9h0.85v0.85h-0.85zM68.5 291.6h0.85v0.85h-0.85zM64.7 266.5h0.85v0.85h-0.85zM39.8 289.0h0.85v0.85h-0.85zM69.2 270.3h0.85v0.85h-0.85zM64.6 266.5h0.85v0.85h-0.85zM65.9 293.2h0.85v0.85h-0.85zM69.2 271.1h0.85v0.85h-0.85zM41.8 294.2h0.85v0.85h-0.85zM68.3 284.2h0.85v0.85h-0.85zM61.9 265.9h0.85v0.85h-0.85zM61.9 266.9h0.85v0.85h-0.85zM60.2 266.9h0.85v0.85h-0.85zM59.6 265.6h0.85v0.85h-0.85zM59.8 265.0h0.85v0.85h-0.85zM44.4 285.2h0.85v0.85h-0.85zM47.1 268.0h0.85v0.85h-0.85zM68.1 291.8h0.85v0.85h-0.85zM70.4 285.0h0.85v0.85h-0.85zM66.1 267.2h0.85v0.85h-0.85zM67.7 267.7h0.85v0.85h-0.85zM61.4 266.9h0.85v0.85h-0.85zM41.5 294.4h0.85v0.85h-0.85zM71.1 282.7h0.85v0.85h-0.85zM69.1 277.4h0.85v0.85h-0.85zM73.9 283.4h0.85v0.85h-0.85zM48.2 269.5h0.85v0.85h-0.85zM46.9 276.5h0.85v0.85h-0.85zM62.2 266.1h0.85v0.85h-0.85zM44.4 277.9h0.85v0.85h-0.85zM45.2 282.3h0.85v0.85h-0.85zM71.1 278.9h0.85v0.85h-0.85zM46.4 278.1h0.85v0.85h-0.85zM44.5 276.1h0.85v0.85h-0.85zM44.8 281.8h0.85v0.85h-0.85zM70.6 274.7h0.85v0.85h-0.85zM71.9 279.4h0.85v0.85h-0.85zM45.0 277.2h0.85v0.85h-0.85zM54.5 268.2h0.85v0.85h-0.85zM68.4 288.6h0.85v0.85h-0.85zM52.9 269.6h0.85v0.85h-0.85zM48.4 269.4h0.85v0.85h-0.85zM51.7 267.9h0.85v0.85h-0.85zM58.9 266.0h0.85v0.85h-0.85zM43.8 293.4h0.85v0.85h-0.85zM67.6 288.3h0.85v0.85h-0.85zM40.9 280.0h0.85v0.85h-0.85zM50.0 271.3h0.85v0.85h-0.85zM43.6 285.0h0.85v0.85h-0.85zM44.4 285.1h0.85v0.85h-0.85zM69.7 286.8h0.85v0.85h-0.85zM52.0 270.4h0.85v0.85h-0.85zM46.5 275.4h0.85v0.85h-0.85zM50.6 271.6h0.85v0.85h-0.85zM47.5 272.7h0.85v0.85h-0.85zM63.5 265.4h0.85v0.85h-0.85zM69.6 277.6h0.85v0.85h-0.85zM45.9 279.1h0.85v0.85h-0.85zM47.4 272.3h0.85v0.85h-0.85zM43.9 283.6h0.85v0.85h-0.85zM65.4 265.7h0.85v0.85h-0.85zM58.1 262.6h0.85v0.85h-0.85zM70.0 283.9h0.85v0.85h-0.85zM69.9 277.6h0.85v0.85h-0.85zM44.8 282.5h0.85v0.85h-0.85zM45.2 279.8h0.85v0.85h-0.85zM61.1 263.8h0.85v0.85h-0.85zM58.1 266.3h0.85v0.85h-0.85zM44.1 291.3h0.85v0.85h-0.85zM69.5 266.4h0.85v0.85h-0.85zM49.0 273.1h0.85v0.85h-0.85zM69.8 287.0h0.85v0.85h-0.85zM57.7 266.9h0.85v0.85h-0.85zM70.5 290.1h0.85v0.85h-0.85zM69.2 286.5h0.85v0.85h-0.85zM60.7 267.0h0.85v0.85h-0.85zM70.0 274.7h0.85v0.85h-0.85zM66.5 265.9h0.85v0.85h-0.85zM44.0 287.8h0.85v0.85h-0.85zM48.4 267.8h0.85v0.85h-0.85zM61.0 267.2h0.85v0.85h-0.85zM44.0 294.0h0.85v0.85h-0.85zM70.0 267.3h0.85v0.85h-0.85zM41.8 289.6h0.85v0.85h-0.85zM66.2 291.8h0.85v0.85h-0.85zM56.4 268.2h0.85v0.85h-0.85zM69.8 282.5h0.85v0.85h-0.85zM44.9 276.2h0.85v0.85h-0.85zM63.7 266.9h0.85v0.85h-0.85zM59.6 266.6h0.85v0.85h-0.85zM61.5 263.5h0.85v0.85h-0.85zM43.6 280.9h0.85v0.85h-0.85zM68.1 294.7h0.85v0.85h-0.85zM69.7 272.2h0.85v0.85h-0.85zM72.4 280.3h0.85v0.85h-0.85zM68.6 281.4h0.85v0.85h-0.85zM48.7 269.1h0.85v0.85h-0.85zM69.2 291.1h0.85v0.85h-0.85zM40.5 292.6h0.85v0.85h-0.85zM71.5 286.5h0.85v0.85h-0.85zM45.1 281.6h0.85v0.85h-0.85zM72.0 264.2h0.85v0.85h-0.85zM71.2 274.4h0.85v0.85h-0.85zM71.4 279.0h0.85v0.85h-0.85zM65.4 265.7h0.85v0.85h-0.85zM52.4 268.7h0.85v0.85h-0.85zM43.9 292.7h0.85v0.85h-0.85zM69.7 269.7h0.85v0.85h-0.85zM69.5 272.9h0.85v0.85h-0.85zM43.9 281.6h0.85v0.85h-0.85zM70.9 271.4h0.85v0.85h-0.85zM70.9 290.1h0.85v0.85h-0.85zM69.1 292.9h0.85v0.85h-0.85zM49.7 272.0h0.85v0.85h-0.85zM63.1 263.2h0.85v0.85h-0.85zM62.8 266.2h0.85v0.85h-0.85zM69.7 276.4h0.85v0.85h-0.85zM44.0 277.1h0.85v0.85h-0.85zM43.0 290.3h0.85v0.85h-0.85zM68.0 291.7h0.85v0.85h-0.85zM54.7 269.3h0.85v0.85h-0.85zM68.0 292.6h0.85v0.85h-0.85zM55.8 268.8h0.85v0.85h-0.85zM70.3 268.0h0.85v0.85h-0.85zM73.7 290.8h0.85v0.85h-0.85zM62.6 265.3h0.85v0.85h-0.85zM70.3 277.7h0.85v0.85h-0.85zM45.6 274.9h0.85v0.85h-0.85zM69.2 275.3h0.85v0.85h-0.85zM71.7 272.6h0.85v0.85h-0.85zM55.7 263.6h0.85v0.85h-0.85zM68.3 286.7h0.85v0.85h-0.85zM43.7 289.7h0.85v0.85h-0.85zM42.7 286.3h0.85v0.85h-0.85zM66.2 264.9h0.85v0.85h-0.85zM70.4 271.4h0.85v0.85h-0.85zM43.9 291.2h0.85v0.85h-0.85zM58.4 267.4h0.85v0.85h-0.85zM43.5 289.7h0.85v0.85h-0.85zM66.5 290.7h0.85v0.85h-0.85zM59.8 265.3h0.85v0.85h-0.85zM39.4 288.3h0.85v0.85h-0.85zM43.9 278.9h0.85v0.85h-0.85zM53.8 270.0h0.85v0.85h-0.85zM46.5 276.7h0.85v0.85h-0.85zM51.0 269.2h0.85v0.85h-0.85zM57.2 266.8h0.85v0.85h-0.85zM47.6 273.1h0.85v0.85h-0.85zM57.4 266.6h0.85v0.85h-0.85zM51.9 269.4h0.85v0.85h-0.85zM67.6 294.0h0.85v0.85h-0.85zM70.6 275.8h0.85v0.85h-0.85zM70.5 274.5h0.85v0.85h-0.85zM55.9 266.2h0.85v0.85h-0.85zM40.4 277.8h0.85v0.85h-0.85zM49.8 271.1h0.85v0.85h-0.85zM44.1 292.9h0.85v0.85h-0.85zM68.3 267.1h0.85v0.85h-0.85zM53.4 268.5h0.85v0.85h-0.85zM40.7 292.8h0.85v0.85h-0.85zM70.6 282.0h0.85v0.85h-0.85zM70.5 273.6h0.85v0.85h-0.85zM68.8 276.8h0.85v0.85h-0.85zM65.8 264.0h0.85v0.85h-0.85zM65.8 292.9h0.85v0.85h-0.85zM70.6 274.7h0.85v0.85h-0.85zM45.5 274.6h0.85v0.85h-0.85zM44.7 283.0h0.85v0.85h-0.85zM68.3 287.1h0.85v0.85h-0.85zM54.7 265.5h0.85v0.85h-0.85zM71.1 262.9h0.85v0.85h-0.85zM65.3 266.0h0.85v0.85h-0.85zM50.4 270.4h0.85v0.85h-0.85zM69.6 272.7h0.85v0.85h-0.85zM68.6 282.3h0.85v0.85h-0.85zM63.3 265.2h0.85v0.85h-0.85zM52.0 269.9h0.85v0.85h-0.85zM69.2 285.8h0.85v0.85h-0.85zM46.2 277.2h0.85v0.85h-0.85zM69.2 279.9h0.85v0.85h-0.85zM47.1 276.4h0.85v0.85h-0.85zM68.9 281.7h0.85v0.85h-0.85zM45.3 279.9h0.85v0.85h-0.85zM69.4 286.4h0.85v0.85h-0.85zM59.0 264.3h0.85v0.85h-0.85zM65.4 265.9h0.85v0.85h-0.85zM65.9 293.0h0.85v0.85h-0.85zM42.1 284.8h0.85v0.85h-0.85zM48.6 269.2h0.85v0.85h-0.85zM68.5 289.0h0.85v0.85h-0.85zM44.8 282.6h0.85v0.85h-0.85zM69.0 286.5h0.85v0.85h-0.85zM45.8 278.8h0.85v0.85h-0.85zM41.6 293.0h0.85v0.85h-0.85zM42.1 291.5h0.85v0.85h-0.85zM43.8 288.0h0.85v0.85h-0.85zM49.6 268.7h0.85v0.85h-0.85zM42.3 291.3h0.85v0.85h-0.85zM43.7 293.1h0.85v0.85h-0.85zM70.0 270.6h0.85v0.85h-0.85zM49.2 272.7h0.85v0.85h-0.85zM50.1 269.3h0.85v0.85h-0.85zM46.8 277.5h0.85v0.85h-0.85zM48.8 273.6h0.85v0.85h-0.85zM46.2 275.6h0.85v0.85h-0.85zM61.5 265.4h0.85v0.85h-0.85zM69.7 287.2h0.85v0.85h-0.85zM70.8 272.0h0.85v0.85h-0.85zM54.3 267.2h0.85v0.85h-0.85zM61.9 267.1h0.85v0.85h-0.85zM68.7 279.6h0.85v0.85h-0.85zM48.3 274.1h0.85v0.85h-0.85zM68.9 280.1h0.85v0.85h-0.85zM69.1 285.4h0.85v0.85h-0.85zM68.9 272.5h0.85v0.85h-0.85zM53.2 267.8h0.85v0.85h-0.85zM71.0 287.2h0.85v0.85h-0.85zM42.7 290.2h0.85v0.85h-0.85zM67.3 293.0h0.85v0.85h-0.85zM68.1 284.6h0.85v0.85h-0.85zM65.7 293.1h0.85v0.85h-0.85zM44.9 284.1h0.85v0.85h-0.85zM71.7 266.5h0.85v0.85h-0.85zM56.0 266.9h0.85v0.85h-0.85zM66.7 266.6h0.85v0.85h-0.85zM69.2 288.1h0.85v0.85h-0.85zM44.1 279.3h0.85v0.85h-0.85zM65.4 266.7h0.85v0.85h-0.85zM43.7 293.3h0.85v0.85h-0.85zM43.3 289.9h0.85v0.85h-0.85zM49.7 271.9h0.85v0.85h-0.85zM68.4 269.3h0.85v0.85h-0.85zM68.4 281.4h0.85v0.85h-0.85zM43.7 292.2h0.85v0.85h-0.85zM43.6 285.0h0.85v0.85h-0.85zM58.4 267.7h0.85v0.85h-0.85zM49.1 272.8h0.85v0.85h-0.85zM69.0 268.6h0.85v0.85h-0.85zM68.3 290.6h0.85v0.85h-0.85zM69.1 282.0h0.85v0.85h-0.85zM74.1 272.1h0.85v0.85h-0.85zM46.4 278.0h0.85v0.85h-0.85zM68.1 288.9h0.85v0.85h-0.85zM46.0 278.1h0.85v0.85h-0.85zM71.3 284.0h0.85v0.85h-0.85zM68.1 268.8h0.85v0.85h-0.85zM71.0 273.8h0.85v0.85h-0.85zM52.7 269.7h0.85v0.85h-0.85zM42.7 292.0h0.85v0.85h-0.85zM49.9 272.7h0.85v0.85h-0.85zM66.7 266.6h0.85v0.85h-0.85zM60.7 265.2h0.85v0.85h-0.85zM65.0 265.9h0.85v0.85h-0.85zM41.7 290.6h0.85v0.85h-0.85zM61.4 245.2h0.85v0.85h-0.85zM57.0 237.5h0.85v0.85h-0.85zM45.6 241.4h0.85v0.85h-0.85zM49.2 236.6h0.85v0.85h-0.85zM61.0 246.0h0.85v0.85h-0.85zM58.1 250.5h0.85v0.85h-0.85zM64.1 245.5h0.85v0.85h-0.85zM46.6 250.8h0.85v0.85h-0.85zM62.9 248.2h0.85v0.85h-0.85zM44.3 241.7h0.85v0.85h-0.85zM59.7 240.2h0.85v0.85h-0.85zM51.5 251.9h0.85v0.85h-0.85zM56.7 251.3h0.85v0.85h-0.85zM45.8 240.3h0.85v0.85h-0.85zM58.0 250.8h0.85v0.85h-0.85zM46.1 251.8h0.85v0.85h-0.85zM59.3 250.6h0.85v0.85h-0.85zM46.2 250.8h0.85v0.85h-0.85zM42.2 247.9h0.85v0.85h-0.85zM56.5 251.2h0.85v0.85h-0.85zM47.6 254.0h0.85v0.85h-0.85zM44.6 242.5h0.85v0.85h-0.85zM43.9 252.5h0.85v0.85h-0.85zM59.5 249.5h0.85v0.85h-0.85zM46.6 250.6h0.85v0.85h-0.85zM48.6 237.8h0.85v0.85h-0.85zM59.8 239.6h0.85v0.85h-0.85zM51.1 252.0h0.85v0.85h-0.85zM51.3 237.9h0.85v0.85h-0.85zM61.4 239.6h0.85v0.85h-0.85zM57.9 252.3h0.85v0.85h-0.85zM52.2 236.7h0.85v0.85h-0.85zM61.6 249.4h0.85v0.85h-0.85zM57.4 239.0h0.85v0.85h-0.85zM45.9 253.2h0.85v0.85h-0.85zM60.3 238.5h0.85v0.85h-0.85zM40.1 241.9h0.85v0.85h-0.85zM57.7 235.7h0.85v0.85h-0.85zM46.3 239.7h0.85v0.85h-0.85zM46.0 249.9h0.85v0.85h-0.85zM42.5 243.2h0.85v0.85h-0.85zM62.5 246.7h0.85v0.85h-0.85zM45.7 240.9h0.85v0.85h-0.85zM44.0 241.3h0.85v0.85h-0.85zM57.8 252.9h0.85v0.85h-0.85zM61.6 243.0h0.85v0.85h-0.85zM52.8 253.1h0.85v0.85h-0.85zM57.3 252.0h0.85v0.85h-0.85zM56.8 238.4h0.85v0.85h-0.85zM48.0 252.8h0.85v0.85h-0.85zM60.8 243.8h0.85v0.85h-0.85zM49.4 251.4h0.85v0.85h-0.85zM52.0 253.7h0.85v0.85h-0.85zM60.5 246.5h0.85v0.85h-0.85zM49.6 238.6h0.85v0.85h-0.85zM49.4 237.2h0.85v0.85h-0.85zM57.6 237.9h0.85v0.85h-0.85zM49.7 252.1h0.85v0.85h-0.85zM45.6 250.6h0.85v0.85h-0.85zM42.2 248.6h0.85v0.85h-0.85zM47.4 238.3h0.85v0.85h-0.85zM62.6 241.7h0.85v0.85h-0.85zM56.1 251.5h0.85v0.85h-0.85zM61.4 245.3h0.85v0.85h-0.85zM44.9 250.1h0.85v0.85h-0.85zM42.2 242.7h0.85v0.85h-0.85zM47.4 239.3h0.85v0.85h-0.85zM59.9 247.9h0.85v0.85h-0.85zM63.7 245.3h0.85v0.85h-0.85zM47.7 238.9h0.85v0.85h-0.85zM43.2 244.1h0.85v0.85h-0.85zM60.4 248.9h0.85v0.85h-0.85zM45.5 240.0h0.85v0.85h-0.85zM60.9 245.0h0.85v0.85h-0.85zM58.8 251.1h0.85v0.85h-0.85zM59.5 249.3h0.85v0.85h-0.85zM44.6 241.7h0.85v0.85h-0.85zM60.2 249.2h0.85v0.85h-0.85zM47.3 239.5h0.85v0.85h-0.85zM40.9 243.6h0.85v0.85h-0.85zM43.2 242.4h0.85v0.85h-0.85zM62.3 242.2h0.85v0.85h-0.85zM51.4 252.0h0.85v0.85h-0.85zM42.2 248.2h0.85v0.85h-0.85zM62.0 244.1h0.85v0.85h-0.85zM45.0 242.0h0.85v0.85h-0.85zM43.5 245.9h0.85v0.85h-0.85zM58.8 249.0h0.85v0.85h-0.85zM43.5 241.1h0.85v0.85h-0.85zM54.3 234.5h0.85v0.85h-0.85zM51.0 253.3h0.85v0.85h-0.85zM54.3 237.9h0.85v0.85h-0.85zM45.3 251.1h0.85v0.85h-0.85zM45.7 250.5h0.85v0.85h-0.85zM40.3 248.1h0.85v0.85h-0.85zM65.8 246.1h0.85v0.85h-0.85zM44.7 251.2h0.85v0.85h-0.85zM58.9 250.3h0.85v0.85h-0.85zM59.5 250.7h0.85v0.85h-0.85zM52.1 237.4h0.85v0.85h-0.85zM44.5 248.6h0.85v0.85h-0.85zM59.1 238.8h0.85v0.85h-0.85zM56.5 253.7h0.85v0.85h-0.85zM44.0 247.0h0.85v0.85h-0.85zM60.5 250.2h0.85v0.85h-0.85zM51.0 236.3h0.85v0.85h-0.85zM60.9 246.5h0.85v0.85h-0.85zM44.0 248.8h0.85v0.85h-0.85zM42.0 240.6h0.85v0.85h-0.85zM48.5 252.3h0.85v0.85h-0.85zM58.4 249.5h0.85v0.85h-0.85zM61.5 245.3h0.85v0.85h-0.85zM44.4 238.3h0.85v0.85h-0.85zM53.6 237.7h0.85v0.85h-0.85zM56.4 252.6h0.85v0.85h-0.85zM43.8 247.6h0.85v0.85h-0.85zM50.5 252.5h0.85v0.85h-0.85zM46.0 240.3h0.85v0.85h-0.85zM63.7 247.6h0.85v0.85h-0.85zM44.1 240.7h0.85v0.85h-0.85zM49.6 252.0h0.85v0.85h-0.85zM54.3 235.4h0.85v0.85h-0.85zM61.6 245.5h0.85v0.85h-0.85zM44.1 244.3h0.85v0.85h-0.85zM60.7 241.4h0.85v0.85h-0.85zM43.3 244.0h0.85v0.85h-0.85zM49.5 252.6h0.85v0.85h-0.85zM51.7 236.4h0.85v0.85h-0.85zM48.0 253.0h0.85v0.85h-0.85zM49.9 237.7h0.85v0.85h-0.85zM44.0 247.9h0.85v0.85h-0.85zM57.6 250.5h0.85v0.85h-0.85zM56.2 236.7h0.85v0.85h-0.85zM47.6 250.8h0.85v0.85h-0.85zM46.3 252.1h0.85v0.85h-0.85zM41.8 240.4h0.85v0.85h-0.85zM59.4 249.2h0.85v0.85h-0.85zM43.7 240.8h0.85v0.85h-0.85zM52.5 236.1h0.85v0.85h-0.85zM62.4 241.9h0.85v0.85h-0.85zM45.3 250.3h0.85v0.85h-0.85zM44.9 250.3h0.85v0.85h-0.85zM47.1 251.4h0.85v0.85h-0.85zM47.6 252.0h0.85v0.85h-0.85zM56.7 238.3h0.85v0.85h-0.85zM57.3 237.0h0.85v0.85h-0.85zM46.3 250.8h0.85v0.85h-0.85zM49.7 252.4h0.85v0.85h-0.85zM60.7 248.3h0.85v0.85h-0.85zM49.9 254.5h0.85v0.85h-0.85zM46.7 250.9h0.85v0.85h-0.85zM45.8 240.4h0.85v0.85h-0.85zM59.0 239.2h0.85v0.85h-0.85zM51.8 237.8h0.85v0.85h-0.85zM54.9 252.2h0.85v0.85h-0.85zM43.3 247.6h0.85v0.85h-0.85zM56.0 251.3h0.85v0.85h-0.85zM51.8 253.1h0.85v0.85h-0.85zM49.7 236.8h0.85v0.85h-0.85zM54.2 238.0h0.85v0.85h-0.85zM49.4 251.7h0.85v0.85h-0.85zM60.9 247.2h0.85v0.85h-0.85zM53.6 238.1h0.85v0.85h-0.85zM44.6 248.2h0.85v0.85h-0.85zM44.9 242.1h0.85v0.85h-0.85zM45.2 249.5h0.85v0.85h-0.85zM47.4 252.2h0.85v0.85h-0.85zM59.5 240.7h0.85v0.85h-0.85zM57.7 238.7h0.85v0.85h-0.85zM54.5 238.1h0.85v0.85h-0.85zM60.6 247.7h0.85v0.85h-0.85zM60.1 247.7h0.85v0.85h-0.85zM43.7 251.2h0.85v0.85h-0.85zM40.6 242.0h0.85v0.85h-0.85zM60.4 238.4h0.85v0.85h-0.85zM46.0 240.1h0.85v0.85h-0.85zM44.0 247.5h0.85v0.85h-0.85zM59.4 251.3h0.85v0.85h-0.85zM42.3 245.0h0.85v0.85h-0.85zM49.2 238.1h0.85v0.85h-0.85zM47.1 237.5h0.85v0.85h-0.85zM55.7 237.6h0.85v0.85h-0.85zM60.2 247.7h0.85v0.85h-0.85zM57.9 250.2h0.85v0.85h-0.85zM60.8 241.9h0.85v0.85h-0.85zM42.9 248.2h0.85v0.85h-0.85zM43.9 243.5h0.85v0.85h-0.85zM48.1 253.6h0.85v0.85h-0.85zM56.3 238.8h0.85v0.85h-0.85zM44.1 244.2h0.85v0.85h-0.85zM60.3 247.8h0.85v0.85h-0.85zM52.5 252.1h0.85v0.85h-0.85zM52.4 236.6h0.85v0.85h-0.85zM44.8 250.2h0.85v0.85h-0.85zM43.5 245.4h0.85v0.85h-0.85zM53.2 253.1h0.85v0.85h-0.85zM47.4 239.2h0.85v0.85h-0.85zM56.3 251.3h0.85v0.85h-0.85zM44.0 244.9h0.85v0.85h-0.85zM60.7 243.2h0.85v0.85h-0.85zM56.1 238.1h0.85v0.85h-0.85zM55.6 238.0h0.85v0.85h-0.85zM61.7 242.5h0.85v0.85h-0.85zM55.7 236.5h0.85v0.85h-0.85zM59.9 241.2h0.85v0.85h-0.85zM58.0 250.5h0.85v0.85h-0.85zM55.1 253.7h0.85v0.85h-0.85zM42.3 247.9h0.85v0.85h-0.85zM59.5 249.2h0.85v0.85h-0.85zM46.0 239.9h0.85v0.85h-0.85zM49.8 238.5h0.85v0.85h-0.85zM43.0 248.6h0.85v0.85h-0.85zM43.3 247.9h0.85v0.85h-0.85zM47.5 238.5h0.85v0.85h-0.85zM49.1 238.1h0.85v0.85h-0.85zM59.6 250.5h0.85v0.85h-0.85zM61.8 245.7h0.85v0.85h-0.85zM61.8 245.1h0.85v0.85h-0.85zM63.5 248.0h0.85v0.85h-0.85zM56.6 237.3h0.85v0.85h-0.85zM61.4 245.0h0.85v0.85h-0.85zM49.8 252.8h0.85v0.85h-0.85zM60.6 250.6h0.85v0.85h-0.85zM45.8 251.5h0.85v0.85h-0.85zM57.1 250.5h0.85v0.85h-0.85zM52.2 238.1h0.85v0.85h-0.85zM54.5 251.8h0.85v0.85h-0.85zM62.8 248.0h0.85v0.85h-0.85zM57.0 251.4h0.85v0.85h-0.85zM50.2 236.5h0.85v0.85h-0.85zM50.3 252.9h0.85v0.85h-0.85zM44.0 247.5h0.85v0.85h-0.85zM53.7 238.1h0.85v0.85h-0.85zM61.7 239.1h0.85v0.85h-0.85zM41.8 240.8h0.85v0.85h-0.85zM57.8 250.9h0.85v0.85h-0.85zM61.6 243.2h0.85v0.85h-0.85zM61.4 249.9h0.85v0.85h-0.85zM50.0 254.1h0.85v0.85h-0.85zM47.4 238.8h0.85v0.85h-0.85zM56.8 252.9h0.85v0.85h-0.85zM42.0 246.0h0.85v0.85h-0.85zM60.9 245.9h0.85v0.85h-0.85zM44.5 250.0h0.85v0.85h-0.85zM62.1 240.4h0.85v0.85h-0.85zM62.0 247.1h0.85v0.85h-0.85zM53.7 251.7h0.85v0.85h-0.85zM55.0 252.5h0.85v0.85h-0.85zM62.0 246.7h0.85v0.85h-0.85zM43.6 244.3h0.85v0.85h-0.85zM45.3 250.7h0.85v0.85h-0.85zM61.3 244.4h0.85v0.85h-0.85zM47.2 239.0h0.85v0.85h-0.85zM46.1 251.6h0.85v0.85h-0.85zM52.3 252.8h0.85v0.85h-0.85zM50.8 252.1h0.85v0.85h-0.85zM60.8 249.2h0.85v0.85h-0.85zM61.1 244.5h0.85v0.85h-0.85zM58.5 238.8h0.85v0.85h-0.85zM42.6 245.2h0.85v0.85h-0.85zM63.1 244.7h0.85v0.85h-0.85zM42.6 243.6h0.85v0.85h-0.85zM42.6 246.8h0.85v0.85h-0.85zM41.8 246.4h0.85v0.85h-0.85zM53.9 236.8h0.85v0.85h-0.85zM49.3 236.3h0.85v0.85h-0.85zM46.6 238.4h0.85v0.85h-0.85zM44.2 242.8h0.85v0.85h-0.85zM42.7 245.2h0.85v0.85h-0.85zM63.5 246.3h0.85v0.85h-0.85zM51.3 237.0h0.85v0.85h-0.85zM60.0 239.5h0.85v0.85h-0.85zM62.2 246.0h0.85v0.85h-0.85zM60.2 241.6h0.85v0.85h-0.85zM58.0 250.6h0.85v0.85h-0.85zM51.6 238.1h0.85v0.85h-0.85zM44.1 246.7h0.85v0.85h-0.85zM58.8 238.7h0.85v0.85h-0.85zM61.2 244.0h0.85v0.85h-0.85zM59.4 237.8h0.85v0.85h-0.85zM52.8 238.2h0.85v0.85h-0.85zM49.1 238.4h0.85v0.85h-0.85zM49.6 235.8h0.85v0.85h-0.85zM42.6 245.1h0.85v0.85h-0.85zM62.2 245.2h0.85v0.85h-0.85zM59.8 248.1h0.85v0.85h-0.85zM58.5 239.2h0.85v0.85h-0.85zM44.6 248.5h0.85v0.85h-0.85zM52.2 252.0h0.85v0.85h-0.85zM48.8 251.9h0.85v0.85h-0.85zM44.5 250.6h0.85v0.85h-0.85zM44.7 242.2h0.85v0.85h-0.85zM62.7 240.0h0.85v0.85h-0.85zM56.0 237.4h0.85v0.85h-0.85zM54.5 251.4h0.85v0.85h-0.85zM45.1 239.6h0.85v0.85h-0.85zM42.7 240.8h0.85v0.85h-0.85zM49.0 254.9h0.85v0.85h-0.85zM61.7 244.5h0.85v0.85h-0.85zM50.3 238.1h0.85v0.85h-0.85zM56.6 237.9h0.85v0.85h-0.85zM53.9 251.8h0.85v0.85h-0.85zM53.4 237.4h0.85v0.85h-0.85zM60.3 248.2h0.85v0.85h-0.85zM62.8 241.6h0.85v0.85h-0.85zM43.9 247.5h0.85v0.85h-0.85zM51.2 238.2h0.85v0.85h-0.85zM52.3 253.3h0.85v0.85h-0.85zM43.3 245.2h0.85v0.85h-0.85zM45.4 240.1h0.85v0.85h-0.85zM59.0 250.1h0.85v0.85h-0.85zM54.7 251.5h0.85v0.85h-0.85zM63.6 240.9h0.85v0.85h-0.85zM56.6 237.9h0.85v0.85h-0.85zM56.9 238.2h0.85v0.85h-0.85zM62.1 247.3h0.85v0.85h-0.85zM50.1 237.3h0.85v0.85h-0.85zM63.4 245.8h0.85v0.85h-0.85zM60.7 246.4h0.85v0.85h-0.85zM59.7 238.7h0.85v0.85h-0.85zM63.0 242.9h0.85v0.85h-0.85zM46.8 239.4h0.85v0.85h-0.85zM47.8 238.1h0.85v0.85h-0.85zM62.1 246.9h0.85v0.85h-0.85zM58.9 239.8h0.85v0.85h-0.85zM41.8 248.8h0.85v0.85h-0.85zM56.6 252.7h0.85v0.85h-0.85zM43.4 244.2h0.85v0.85h-0.85zM60.9 248.9h0.85v0.85h-0.85zM53.7 251.6h0.85v0.85h-0.85zM54.7 251.6h0.85v0.85h-0.85zM47.9 238.0h0.85v0.85h-0.85zM59.1 240.4h0.85v0.85h-0.85zM57.4 239.0h0.85v0.85h-0.85zM45.1 241.7h0.85v0.85h-0.85zM47.0 252.7h0.85v0.85h-0.85zM47.9 252.9h0.85v0.85h-0.85zM61.6 246.2h0.85v0.85h-0.85zM46.9 238.1h0.85v0.85h-0.85zM44.1 241.4h0.85v0.85h-0.85zM55.1 236.0h0.85v0.85h-0.85zM61.4 243.2h0.85v0.85h-0.85zM42.5 248.7h0.85v0.85h-0.85zM46.1 240.6h0.85v0.85h-0.85zM57.7 238.3h0.85v0.85h-0.85zM61.8 243.8h0.85v0.85h-0.85zM56.9 236.0h0.85v0.85h-0.85zM41.9 241.3h0.85v0.85h-0.85zM57.0 238.4h0.85v0.85h-0.85zM39.8 249.5h0.85v0.85h-0.85zM58.6 239.9h0.85v0.85h-0.85zM49.4 251.6h0.85v0.85h-0.85zM47.4 252.3h0.85v0.85h-0.85zM52.1 251.8h0.85v0.85h-0.85zM47.9 238.5h0.85v0.85h-0.85zM45.9 250.5h0.85v0.85h-0.85zM60.1 249.4h0.85v0.85h-0.85zM54.3 237.5h0.85v0.85h-0.85zM48.4 252.1h0.85v0.85h-0.85zM43.9 245.0h0.85v0.85h-0.85zM55.0 252.4h0.85v0.85h-0.85zM58.5 239.9h0.85v0.85h-0.85zM50.9 253.4h0.85v0.85h-0.85zM52.6 251.8h0.85v0.85h-0.85zM42.7 244.8h0.85v0.85h-0.85zM51.5 252.2h0.85v0.85h-0.85zM54.9 238.2h0.85v0.85h-0.85zM42.7 241.5h0.85v0.85h-0.85zM57.2 239.2h0.85v0.85h-0.85zM59.2 249.3h0.85v0.85h-0.85zM50.9 236.3h0.85v0.85h-0.85zM52.9 234.8h0.85v0.85h-0.85zM59.2 251.1h0.85v0.85h-0.85zM44.4 241.6h0.85v0.85h-0.85zM60.1 250.1h0.85v0.85h-0.85zM52.4 252.0h0.85v0.85h-0.85zM61.0 242.8h0.85v0.85h-0.85zM47.2 239.6h0.85v0.85h-0.85zM52.9 251.9h0.85v0.85h-0.85zM44.1 241.3h0.85v0.85h-0.85zM49.2 253.0h0.85v0.85h-0.85zM63.7 242.8h0.85v0.85h-0.85zM58.9 239.1h0.85v0.85h-0.85zM55.4 238.0h0.85v0.85h-0.85zM60.5 247.7h0.85v0.85h-0.85zM60.0 248.0h0.85v0.85h-0.85zM61.6 241.0h0.85v0.85h-0.85zM42.1 245.1h0.85v0.85h-0.85zM60.9 243.8h0.85v0.85h-0.85zM58.4 239.4h0.85v0.85h-0.85zM55.5 237.0h0.85v0.85h-0.85zM60.8 244.9h0.85v0.85h-0.85zM48.0 237.7h0.85v0.85h-0.85zM59.8 240.6h0.85v0.85h-0.85zM46.8 238.3h0.85v0.85h-0.85zM48.2 237.8h0.85v0.85h-0.85zM49.2 251.6h0.85v0.85h-0.85zM44.1 250.7h0.85v0.85h-0.85zM43.8 245.2h0.85v0.85h-0.85zM59.0 238.9h0.85v0.85h-0.85zM48.2 251.3h0.85v0.85h-0.85zM57.1 251.8h0.85v0.85h-0.85zM63.4 243.4h0.85v0.85h-0.85zM61.2 242.8h0.85v0.85h-0.85zM44.0 242.3h0.85v0.85h-0.85zM61.0 245.9h0.85v0.85h-0.85zM42.9 240.5h0.85v0.85h-0.85zM50.5 254.0h0.85v0.85h-0.85zM54.3 251.6h0.85v0.85h-0.85zM61.7 244.9h0.85v0.85h-0.85zM42.8 246.8h0.85v0.85h-0.85zM60.7 241.5h0.85v0.85h-0.85zM49.8 252.3h0.85v0.85h-0.85zM61.2 248.6h0.85v0.85h-0.85zM63.4 245.0h0.85v0.85h-0.85zM62.7 246.1h0.85v0.85h-0.85zM48.9 238.8h0.85v0.85h-0.85zM56.7 236.7h0.85v0.85h-0.85zM50.2 238.6h0.85v0.85h-0.85zM61.2 242.1h0.85v0.85h-0.85zM60.5 239.6h0.85v0.85h-0.85zM61.5 246.0h0.85v0.85h-0.85zM47.2 251.1h0.85v0.85h-0.85zM51.0 252.0h0.85v0.85h-0.85zM61.8 245.6h0.85v0.85h-0.85zM61.1 247.5h0.85v0.85h-0.85zM47.8 251.3h0.85v0.85h-0.85zM44.1 240.8h0.85v0.85h-0.85zM45.9 239.1h0.85v0.85h-0.85zM61.7 246.3h0.85v0.85h-0.85zM44.6 248.7h0.85v0.85h-0.85zM55.6 237.6h0.85v0.85h-0.85zM54.1 253.4h0.85v0.85h-0.85zM62.6 243.7h0.85v0.85h-0.85zM41.7 243.7h0.85v0.85h-0.85zM60.5 241.4h0.85v0.85h-0.85zM48.5 239.1h0.85v0.85h-0.85zM43.2 247.3h0.85v0.85h-0.85zM51.7 252.3h0.85v0.85h-0.85zM48.5 239.1h0.85v0.85h-0.85zM45.1 249.8h0.85v0.85h-0.85zM59.9 241.1h0.85v0.85h-0.85zM57.0 238.0h0.85v0.85h-0.85zM61.7 242.8h0.85v0.85h-0.85zM57.6 250.6h0.85v0.85h-0.85zM57.0 253.9h0.85v0.85h-0.85zM61.2 243.9h0.85v0.85h-0.85zM54.3 237.9h0.85v0.85h-0.85zM44.6 241.6h0.85v0.85h-0.85zM46.3 240.6h0.85v0.85h-0.85zM59.7 250.0h0.85v0.85h-0.85zM45.3 239.7h0.85v0.85h-0.85zM54.1 238.0h0.85v0.85h-0.85zM50.4 252.3h0.85v0.85h-0.85zM58.6 249.6h0.85v0.85h-0.85zM57.3 239.2h0.85v0.85h-0.85zM47.7 239.0h0.85v0.85h-0.85zM60.4 239.5h0.85v0.85h-0.85zM56.3 237.6h0.85v0.85h-0.85zM56.0 253.2h0.85v0.85h-0.85zM47.3 253.1h0.85v0.85h-0.85zM43.4 247.6h0.85v0.85h-0.85zM61.0 243.1h0.85v0.85h-0.85zM58.2 238.0h0.85v0.85h-0.85zM60.5 242.4h0.85v0.85h-0.85zM62.2 239.1h0.85v0.85h-0.85zM52.3 252.1h0.85v0.85h-0.85zM47.6 239.4h0.85v0.85h-0.85zM60.9 241.5h0.85v0.85h-0.85zM44.4 243.3h0.85v0.85h-0.85zM61.0 246.6h0.85v0.85h-0.85zM45.6 249.5h0.85v0.85h-0.85zM55.0 238.3h0.85v0.85h-0.85zM41.6 249.1h0.85v0.85h-0.85zM42.6 249.8h0.85v0.85h-0.85zM43.5 243.1h0.85v0.85h-0.85zM45.1 250.3h0.85v0.85h-0.85zM61.9 246.6h0.85v0.85h-0.85zM60.4 249.3h0.85v0.85h-0.85zM59.2 249.6h0.85v0.85h-0.85zM56.3 236.6h0.85v0.85h-0.85zM42.1 243.7h0.85v0.85h-0.85zM58.0 250.2h0.85v0.85h-0.85zM41.8 241.8h0.85v0.85h-0.85zM46.3 240.3h0.85v0.85h-0.85zM56.1 251.2h0.85v0.85h-0.85zM43.4 249.9h0.85v0.85h-0.85zM41.9 241.5h0.85v0.85h-0.85zM53.0 253.3h0.85v0.85h-0.85zM45.5 250.0h0.85v0.85h-0.85zM59.8 240.9h0.85v0.85h-0.85zM61.9 244.3h0.85v0.85h-0.85zM61.9 244.9h0.85v0.85h-0.85zM60.0 251.5h0.85v0.85h-0.85zM61.9 244.3h0.85v0.85h-0.85zM45.0 241.3h0.85v0.85h-0.85zM59.0 240.4h0.85v0.85h-0.85zM44.1 241.4h0.85v0.85h-0.85zM51.3 251.8h0.85v0.85h-0.85zM58.1 238.4h0.85v0.85h-0.85zM47.2 238.8h0.85v0.85h-0.85zM61.0 241.6h0.85v0.85h-0.85zM44.6 242.8h0.85v0.85h-0.85zM49.6 253.5h0.85v0.85h-0.85zM61.2 249.3h0.85v0.85h-0.85zM53.9 252.0h0.85v0.85h-0.85zM59.8 247.9h0.85v0.85h-0.85zM51.6 237.6h0.85v0.85h-0.85zM52.1 253.8h0.85v0.85h-0.85zM56.5 236.3h0.85v0.85h-0.85zM56.7 236.9h0.85v0.85h-0.85zM59.9 241.1h0.85v0.85h-0.85zM44.7 240.7h0.85v0.85h-0.85zM46.6 250.9h0.85v0.85h-0.85zM44.4 243.3h0.85v0.85h-0.85zM58.4 237.5h0.85v0.85h-0.85zM49.9 238.7h0.85v0.85h-0.85zM47.3 251.0h0.85v0.85h-0.85zM44.2 249.4h0.85v0.85h-0.85zM42.3 245.6h0.85v0.85h-0.85zM43.2 241.0h0.85v0.85h-0.85zM43.5 243.7h0.85v0.85h-0.85zM44.1 244.0h0.85v0.85h-0.85zM44.3 249.0h0.85v0.85h-0.85zM58.9 238.9h0.85v0.85h-0.85zM44.1 243.0h0.85v0.85h-0.85zM43.0 245.5h0.85v0.85h-0.85zM53.5 238.0h0.85v0.85h-0.85zM60.2 247.4h0.85v0.85h-0.85zM56.3 251.9h0.85v0.85h-0.85zM57.0 252.0h0.85v0.85h-0.85zM57.8 250.9h0.85v0.85h-0.85zM45.1 239.6h0.85v0.85h-0.85zM42.9 247.4h0.85v0.85h-0.85zM45.0 241.4h0.85v0.85h-0.85zM47.5 238.1h0.85v0.85h-0.85zM55.2 251.4h0.85v0.85h-0.85zM62.6 242.1h0.85v0.85h-0.85zM43.3 240.4h0.85v0.85h-0.85zM51.3 252.4h0.85v0.85h-0.85zM45.8 252.3h0.85v0.85h-0.85zM49.5 237.9h0.85v0.85h-0.85zM58.9 253.6h0.85v0.85h-0.85zM42.8 246.7h0.85v0.85h-0.85zM61.9 243.4h0.85v0.85h-0.85zM61.1 247.7h0.85v0.85h-0.85zM63.0 244.3h0.85v0.85h-0.85zM44.3 240.9h0.85v0.85h-0.85zM53.3 236.2h0.85v0.85h-0.85zM44.3 241.6h0.85v0.85h-0.85zM44.4 239.7h0.85v0.85h-0.85zM43.6 243.6h0.85v0.85h-0.85zM61.0 247.9h0.85v0.85h-0.85zM43.4 250.1h0.85v0.85h-0.85zM61.3 242.2h0.85v0.85h-0.85zM43.9 245.8h0.85v0.85h-0.85zM47.0 252.2h0.85v0.85h-0.85zM58.6 252.3h0.85v0.85h-0.85zM49.1 238.1h0.85v0.85h-0.85zM62.4 243.3h0.85v0.85h-0.85zM60.1 247.5h0.85v0.85h-0.85zM60.6 242.8h0.85v0.85h-0.85zM60.6 239.1h0.85v0.85h-0.85zM43.9 248.1h0.85v0.85h-0.85zM58.2 250.7h0.85v0.85h-0.85zM58.2 238.3h0.85v0.85h-0.85zM60.8 249.2h0.85v0.85h-0.85zM43.8 244.0h0.85v0.85h-0.85zM53.8 237.3h0.85v0.85h-0.85zM60.9 241.6h0.85v0.85h-0.85zM44.8 242.1h0.85v0.85h-0.85zM58.5 237.8h0.85v0.85h-0.85zM61.8 245.8h0.85v0.85h-0.85zM51.2 253.0h0.85v0.85h-0.85zM57.9 250.0h0.85v0.85h-0.85zM44.1 250.1h0.85v0.85h-0.85zM44.9 242.0h0.85v0.85h-0.85zM42.2 248.0h0.85v0.85h-0.85zM53.9 238.0h0.85v0.85h-0.85zM61.6 242.5h0.85v0.85h-0.85zM43.5 244.2h0.85v0.85h-0.85zM49.1 238.0h0.85v0.85h-0.85zM44.7 249.0h0.85v0.85h-0.85zM57.6 238.3h0.85v0.85h-0.85zM52.7 252.7h0.85v0.85h-0.85zM45.3 250.6h0.85v0.85h-0.85zM42.6 242.5h0.85v0.85h-0.85zM44.0 243.7h0.85v0.85h-0.85zM60.0 241.7h0.85v0.85h-0.85zM61.3 243.1h0.85v0.85h-0.85zM63.7 244.2h0.85v0.85h-0.85zM52.0 252.6h0.85v0.85h-0.85zM61.6 245.0h0.85v0.85h-0.85zM57.0 237.5h0.85v0.85h-0.85zM60.9 244.6h0.85v0.85h-0.85zM60.8 246.0h0.85v0.85h-0.85zM48.8 255.0h0.85v0.85h-0.85zM46.5 240.3h0.85v0.85h-0.85zM58.3 236.8h0.85v0.85h-0.85zM46.5 238.5h0.85v0.85h-0.85zM54.2 252.6h0.85v0.85h-0.85zM60.6 248.8h0.85v0.85h-0.85zM60.2 240.3h0.85v0.85h-0.85zM44.0 246.6h0.85v0.85h-0.85zM54.4 238.1h0.85v0.85h-0.85zM61.9 248.2h0.85v0.85h-0.85zM54.0 252.1h0.85v0.85h-0.85zM47.4 238.1h0.85v0.85h-0.85zM54.8 252.0h0.85v0.85h-0.85zM51.2 236.7h0.85v0.85h-0.85zM63.5 243.1h0.85v0.85h-0.85zM40.2 249.8h0.85v0.85h-0.85zM43.7 245.9h0.85v0.85h-0.85zM46.1 240.2h0.85v0.85h-0.85zM60.2 248.2h0.85v0.85h-0.85zM44.0 244.5h0.85v0.85h-0.85zM56.2 251.0h0.85v0.85h-0.85zM42.3 249.5h0.85v0.85h-0.85zM59.8 250.8h0.85v0.85h-0.85zM41.8 239.1h0.85v0.85h-0.85zM42.7 249.5h0.85v0.85h-0.85zM56.2 238.2h0.85v0.85h-0.85zM53.3 238.2h0.85v0.85h-0.85zM62.1 249.1h0.85v0.85h-0.85zM59.7 249.4h0.85v0.85h-0.85zM44.3 243.7h0.85v0.85h-0.85zM51.5 253.1h0.85v0.85h-0.85zM55.0 237.9h0.85v0.85h-0.85zM62.3 240.4h0.85v0.85h-0.85zM43.3 246.7h0.85v0.85h-0.85zM45.0 251.0h0.85v0.85h-0.85zM60.7 239.9h0.85v0.85h-0.85zM47.9 238.8h0.85v0.85h-0.85zM47.1 252.3h0.85v0.85h-0.85zM46.6 250.2h0.85v0.85h-0.85zM44.1 247.1h0.85v0.85h-0.85zM42.4 245.9h0.85v0.85h-0.85zM53.4 253.4h0.85v0.85h-0.85zM46.1 249.8h0.85v0.85h-0.85zM43.4 250.0h0.85v0.85h-0.85zM46.8 237.7h0.85v0.85h-0.85zM42.9 244.0h0.85v0.85h-0.85zM60.7 248.5h0.85v0.85h-0.85zM50.9 251.7h0.85v0.85h-0.85zM62.4 240.6h0.85v0.85h-0.85zM58.1 250.0h0.85v0.85h-0.85zM45.3 240.6h0.85v0.85h-0.85zM59.5 249.3h0.85v0.85h-0.85zM64.4 244.7h0.85v0.85h-0.85zM46.2 252.4h0.85v0.85h-0.85zM49.1 248.0h0.85v0.85h-0.85zM40.2 246.5h0.85v0.85h-0.85zM41.2 246.0h0.85v0.85h-0.85zM41.9 254.4h0.85v0.85h-0.85zM41.4 244.6h0.85v0.85h-0.85zM32.0 247.1h0.85v0.85h-0.85zM36.1 244.5h0.85v0.85h-0.85zM41.7 248.9h0.85v0.85h-0.85zM43.3 252.0h0.85v0.85h-0.85zM36.4 245.0h0.85v0.85h-0.85zM36.8 243.6h0.85v0.85h-0.85zM37.9 244.2h0.85v0.85h-0.85zM44.4 243.4h0.85v0.85h-0.85zM51.7 239.5h0.85v0.85h-0.85zM45.0 241.4h0.85v0.85h-0.85zM38.7 242.8h0.85v0.85h-0.85zM41.0 249.4h0.85v0.85h-0.85zM39.0 244.9h0.85v0.85h-0.85zM36.2 244.2h0.85v0.85h-0.85zM36.9 244.9h0.85v0.85h-0.85zM41.3 250.9h0.85v0.85h-0.85zM37.6 239.6h0.85v0.85h-0.85zM39.2 250.7h0.85v0.85h-0.85zM36.0 248.9h0.85v0.85h-0.85zM35.3 242.5h0.85v0.85h-0.85zM42.0 240.3h0.85v0.85h-0.85zM38.9 236.9h0.85v0.85h-0.85zM35.8 248.9h0.85v0.85h-0.85zM38.5 244.7h0.85v0.85h-0.85zM43.5 243.8h0.85v0.85h-0.85zM35.3 245.8h0.85v0.85h-0.85zM40.5 247.9h0.85v0.85h-0.85zM40.0 252.0h0.85v0.85h-0.85zM43.6 246.8h0.85v0.85h-0.85zM52.0 241.3h0.85v0.85h-0.85zM42.0 244.4h0.85v0.85h-0.85zM51.2 248.5h0.85v0.85h-0.85zM44.8 248.9h0.85v0.85h-0.85zM47.9 245.3h0.85v0.85h-0.85zM45.2 240.7h0.85v0.85h-0.85zM43.6 251.8h0.85v0.85h-0.85zM45.0 249.7h0.85v0.85h-0.85zM31.8 247.7h0.85v0.85h-0.85zM39.2 253.2h0.85v0.85h-0.85zM43.4 249.9h0.85v0.85h-0.85zM47.2 249.4h0.85v0.85h-0.85zM34.2 244.2h0.85v0.85h-0.85zM30.7 252.0h0.85v0.85h-0.85zM39.9 242.4h0.85v0.85h-0.85zM43.2 245.7h0.85v0.85h-0.85zM39.3 252.4h0.85v0.85h-0.85zM30.9 241.7h0.85v0.85h-0.85zM40.3 246.4h0.85v0.85h-0.85zM46.3 246.0h0.85v0.85h-0.85zM43.3 254.0h0.85v0.85h-0.85zM34.2 241.8h0.85v0.85h-0.85zM37.4 246.5h0.85v0.85h-0.85zM35.5 248.3h0.85v0.85h-0.85zM37.1 251.7h0.85v0.85h-0.85zM43.3 250.0h0.85v0.85h-0.85zM41.9 248.1h0.85v0.85h-0.85zM32.9 246.5h0.85v0.85h-0.85zM32.2 252.5h0.85v0.85h-0.85zM35.3 243.8h0.85v0.85h-0.85zM38.6 255.8h0.85v0.85h-0.85zM35.4 253.8h0.85v0.85h-0.85zM41.5 257.3h0.85v0.85h-0.85zM39.7 245.2h0.85v0.85h-0.85zM40.7 245.2h0.85v0.85h-0.85zM37.3 250.1h0.85v0.85h-0.85zM38.6 250.8h0.85v0.85h-0.85zM43.7 250.9h0.85v0.85h-0.85zM48.4 251.4h0.85v0.85h-0.85zM36.2 252.5h0.85v0.85h-0.85zM28.8 252.2h0.85v0.85h-0.85zM46.7 243.2h0.85v0.85h-0.85zM47.0 240.1h0.85v0.85h-0.85zM45.7 245.7h0.85v0.85h-0.85zM39.4 246.7h0.85v0.85h-0.85zM38.1 250.2h0.85v0.85h-0.85zM40.6 247.2h0.85v0.85h-0.85zM41.1 245.9h0.85v0.85h-0.85zM35.9 249.6h0.85v0.85h-0.85zM44.9 242.8h0.85v0.85h-0.85zM45.4 252.2h0.85v0.85h-0.85zM41.6 253.0h0.85v0.85h-0.85zM30.3 252.7h0.85v0.85h-0.85zM37.2 248.5h0.85v0.85h-0.85zM36.4 256.8h0.85v0.85h-0.85zM38.8 249.9h0.85v0.85h-0.85zM33.7 246.2h0.85v0.85h-0.85zM42.9 246.9h0.85v0.85h-0.85zM37.2 253.1h0.85v0.85h-0.85zM33.3 247.7h0.85v0.85h-0.85zM40.0 245.9h0.85v0.85h-0.85zM44.0 248.3h0.85v0.85h-0.85zM39.9 249.9h0.85v0.85h-0.85zM40.4 249.4h0.85v0.85h-0.85zM47.0 248.3h0.85v0.85h-0.85zM41.1 245.1h0.85v0.85h-0.85zM47.7 251.1h0.85v0.85h-0.85zM43.4 248.6h0.85v0.85h-0.85zM36.8 247.7h0.85v0.85h-0.85zM42.3 242.9h0.85v0.85h-0.85zM36.2 246.9h0.85v0.85h-0.85zM50.1 248.8h0.85v0.85h-0.85zM33.8 252.3h0.85v0.85h-0.85zM45.2 250.1h0.85v0.85h-0.85zM38.2 246.9h0.85v0.85h-0.85zM51.5 251.7h0.85v0.85h-0.85zM63.1 240.3h0.85v0.85h-0.85zM33.2 245.7h0.85v0.85h-0.85zM36.4 244.8h0.85v0.85h-0.85zM44.4 252.6h0.85v0.85h-0.85zM33.9 249.6h0.85v0.85h-0.85zM45.0 248.4h0.85v0.85h-0.85zM47.4 251.9h0.85v0.85h-0.85zM36.9 247.9h0.85v0.85h-0.85zM42.2 242.7h0.85v0.85h-0.85zM39.7 251.4h0.85v0.85h-0.85zM42.8 247.5h0.85v0.85h-0.85zM53.4 249.8h0.85v0.85h-0.85zM45.5 244.0h0.85v0.85h-0.85zM46.8 245.7h0.85v0.85h-0.85zM40.0 245.8h0.85v0.85h-0.85zM34.7 249.6h0.85v0.85h-0.85zM34.9 250.6h0.85v0.85h-0.85zM37.0 252.4h0.85v0.85h-0.85zM42.5 252.0h0.85v0.85h-0.85zM35.5 249.6h0.85v0.85h-0.85zM44.5 248.5h0.85v0.85h-0.85zM40.4 245.1h0.85v0.85h-0.85zM34.7 243.4h0.85v0.85h-0.85zM42.7 237.1h0.85v0.85h-0.85zM37.2 250.1h0.85v0.85h-0.85zM41.0 246.6h0.85v0.85h-0.85zM37.1 248.1h0.85v0.85h-0.85zM33.4 245.2h0.85v0.85h-0.85zM44.8 243.9h0.85v0.85h-0.85zM40.3 246.0h0.85v0.85h-0.85zM34.8 239.7h0.85v0.85h-0.85zM36.7 244.4h0.85v0.85h-0.85zM35.9 247.2h0.85v0.85h-0.85zM42.4 249.9h0.85v0.85h-0.85zM42.7 242.9h0.85v0.85h-0.85zM47.7 248.8h0.85v0.85h-0.85zM44.5 242.4h0.85v0.85h-0.85zM46.2 256.4h0.85v0.85h-0.85zM43.5 251.8h0.85v0.85h-0.85zM38.1 248.1h0.85v0.85h-0.85zM40.7 250.1h0.85v0.85h-0.85zM41.7 248.5h0.85v0.85h-0.85zM36.5 242.8h0.85v0.85h-0.85zM40.9 257.3h0.85v0.85h-0.85zM36.1 249.5h0.85v0.85h-0.85zM47.5 244.9h0.85v0.85h-0.85zM32.9 248.9h0.85v0.85h-0.85zM40.7 244.1h0.85v0.85h-0.85zM48.3 250.3h0.85v0.85h-0.85zM40.9 242.1h0.85v0.85h-0.85zM47.1 251.9h0.85v0.85h-0.85zM45.0 253.9h0.85v0.85h-0.85zM35.9 243.6h0.85v0.85h-0.85zM45.2 249.2h0.85v0.85h-0.85zM40.7 245.6h0.85v0.85h-0.85zM46.0 248.5h0.85v0.85h-0.85zM45.2 243.0h0.85v0.85h-0.85zM41.3 249.1h0.85v0.85h-0.85zM46.0 240.9h0.85v0.85h-0.85zM41.2 282.1h0.85v0.85h-0.85zM41.5 285.2h0.85v0.85h-0.85zM42.2 290.7h0.85v0.85h-0.85zM41.9 285.6h0.85v0.85h-0.85zM42.9 294.3h0.85v0.85h-0.85zM41.6 281.3h0.85v0.85h-0.85zM44.3 291.4h0.85v0.85h-0.85zM44.9 283.6h0.85v0.85h-0.85zM40.9 285.0h0.85v0.85h-0.85zM41.4 277.3h0.85v0.85h-0.85zM42.8 277.2h0.85v0.85h-0.85zM37.1 285.7h0.85v0.85h-0.85zM39.8 287.5h0.85v0.85h-0.85zM39.7 278.0h0.85v0.85h-0.85zM38.3 278.5h0.85v0.85h-0.85zM42.6 282.2h0.85v0.85h-0.85zM43.6 287.5h0.85v0.85h-0.85zM38.5 275.6h0.85v0.85h-0.85zM39.1 282.6h0.85v0.85h-0.85zM41.6 282.4h0.85v0.85h-0.85zM40.6 280.4h0.85v0.85h-0.85zM41.8 290.7h0.85v0.85h-0.85zM39.8 293.4h0.85v0.85h-0.85zM40.2 284.3h0.85v0.85h-0.85zM44.1 289.6h0.85v0.85h-0.85zM41.6 274.6h0.85v0.85h-0.85zM41.6 283.9h0.85v0.85h-0.85zM41.2 292.6h0.85v0.85h-0.85zM41.6 287.0h0.85v0.85h-0.85zM41.0 286.6h0.85v0.85h-0.85zM43.6 287.5h0.85v0.85h-0.85zM39.9 281.4h0.85v0.85h-0.85zM43.4 289.3h0.85v0.85h-0.85zM40.2 285.3h0.85v0.85h-0.85zM41.7 289.4h0.85v0.85h-0.85zM40.0 286.6h0.85v0.85h-0.85zM39.4 281.4h0.85v0.85h-0.85zM41.1 294.1h0.85v0.85h-0.85zM42.1 293.7h0.85v0.85h-0.85zM41.3 275.3h0.85v0.85h-0.85zM38.0 283.5h0.85v0.85h-0.85zM44.3 285.1h0.85v0.85h-0.85zM40.7 289.7h0.85v0.85h-0.85zM40.9 283.8h0.85v0.85h-0.85zM41.8 288.4h0.85v0.85h-0.85zM40.6 281.2h0.85v0.85h-0.85zM44.1 280.9h0.85v0.85h-0.85zM40.1 284.9h0.85v0.85h-0.85zM41.3 287.8h0.85v0.85h-0.85zM44.0 293.8h0.85v0.85h-0.85zM41.4 286.7h0.85v0.85h-0.85zM43.1 285.3h0.85v0.85h-0.85zM41.8 279.5h0.85v0.85h-0.85zM42.1 285.5h0.85v0.85h-0.85zM39.2 287.4h0.85v0.85h-0.85zM45.0 288.0h0.85v0.85h-0.85zM40.2 293.7h0.85v0.85h-0.85zM42.1 287.2h0.85v0.85h-0.85zM43.9 291.5h0.85v0.85h-0.85zM44.8 281.3h0.85v0.85h-0.85zM40.8 285.5h0.85v0.85h-0.85zM41.8 279.0h0.85v0.85h-0.85zM42.0 277.7h0.85v0.85h-0.85zM40.6 284.5h0.85v0.85h-0.85zM41.9 287.9h0.85v0.85h-0.85zM40.3 288.0h0.85v0.85h-0.85zM42.0 285.5h0.85v0.85h-0.85zM41.5 283.0h0.85v0.85h-0.85zM44.4 294.2h0.85v0.85h-0.85zM41.9 293.9h0.85v0.85h-0.85zM40.1 282.9h0.85v0.85h-0.85zM41.0 288.7h0.85v0.85h-0.85zM41.0 280.5h0.85v0.85h-0.85zM39.1 279.4h0.85v0.85h-0.85zM43.0 288.9h0.85v0.85h-0.85zM40.7 283.3h0.85v0.85h-0.85zM41.2 286.3h0.85v0.85h-0.85zM40.9 285.8h0.85v0.85h-0.85zM42.7 291.5h0.85v0.85h-0.85zM40.4 285.0h0.85v0.85h-0.85zM40.3 283.4h0.85v0.85h-0.85zM41.3 284.1h0.85v0.85h-0.85zM42.4 280.5h0.85v0.85h-0.85zM42.1 290.4h0.85v0.85h-0.85zM41.0 284.1h0.85v0.85h-0.85zM42.5 283.8h0.85v0.85h-0.85zM41.0 287.2h0.85v0.85h-0.85zM37.6 290.2h0.85v0.85h-0.85zM41.9 289.5h0.85v0.85h-0.85zM39.3 283.5h0.85v0.85h-0.85zM42.2 289.3h0.85v0.85h-0.85zM40.6 283.3h0.85v0.85h-0.85zM43.9 287.6h0.85v0.85h-0.85zM43.5 278.0h0.85v0.85h-0.85zM42.2 282.7h0.85v0.85h-0.85zM40.7 293.6h0.85v0.85h-0.85zM39.8 280.4h0.85v0.85h-0.85zM40.4 284.6h0.85v0.85h-0.85zM41.5 288.5h0.85v0.85h-0.85zM43.5 288.8h0.85v0.85h-0.85zM44.3 292.3h0.85v0.85h-0.85zM42.4 285.1h0.85v0.85h-0.85zM43.7 284.2h0.85v0.85h-0.85zM43.1 286.2h0.85v0.85h-0.85zM40.6 290.0h0.85v0.85h-0.85zM42.6 287.8h0.85v0.85h-0.85zM43.2 286.7h0.85v0.85h-0.85zM40.3 286.5h0.85v0.85h-0.85zM44.5 280.3h0.85v0.85h-0.85zM38.6 286.0h0.85v0.85h-0.85zM39.9 294.0h0.85v0.85h-0.85zM41.8 280.5h0.85v0.85h-0.85zM41.4 280.4h0.85v0.85h-0.85zM42.3 291.5h0.85v0.85h-0.85zM43.4 292.3h0.85v0.85h-0.85zM41.5 293.0h0.85v0.85h-0.85zM42.3 278.4h0.85v0.85h-0.85zM43.7 280.8h0.85v0.85h-0.85zM40.6 276.8h0.85v0.85h-0.85zM40.2 273.5h0.85v0.85h-0.85zM39.6 281.1h0.85v0.85h-0.85zM39.6 283.7h0.85v0.85h-0.85zM42.8 284.2h0.85v0.85h-0.85zM42.2 292.6h0.85v0.85h-0.85zM40.5 294.8h0.85v0.85h-0.85zM41.4 285.7h0.85v0.85h-0.85zM42.1 294.1h0.85v0.85h-0.85zM39.6 291.5h0.85v0.85h-0.85zM40.7 286.6h0.85v0.85h-0.85zM39.9 271.0h0.85v0.85h-0.85zM43.4 290.5h0.85v0.85h-0.85zM39.8 280.6h0.85v0.85h-0.85zM39.6 285.8h0.85v0.85h-0.85zM44.7 285.2h0.85v0.85h-0.85zM38.8 290.4h0.85v0.85h-0.85zM40.1 276.6h0.85v0.85h-0.85zM42.1 286.0h0.85v0.85h-0.85zM41.8 290.2h0.85v0.85h-0.85zM43.0 273.6h0.85v0.85h-0.85zM41.8 292.8h0.85v0.85h-0.85zM43.5 279.9h0.85v0.85h-0.85zM38.6 279.4h0.85v0.85h-0.85zM42.1 284.8h0.85v0.85h-0.85zM42.8 284.9h0.85v0.85h-0.85zM39.5 279.4h0.85v0.85h-0.85zM41.1 290.9h0.85v0.85h-0.85zM43.8 280.1h0.85v0.85h-0.85zM42.2 285.6h0.85v0.85h-0.85zM39.7 279.0h0.85v0.85h-0.85zM44.0 283.4h0.85v0.85h-0.85zM41.4 288.7h0.85v0.85h-0.85zM42.1 290.1h0.85v0.85h-0.85zM40.2 283.7h0.85v0.85h-0.85zM41.9 288.1h0.85v0.85h-0.85zM40.3 275.9h0.85v0.85h-0.85zM42.9 291.0h0.85v0.85h-0.85zM46.3 272.8h0.85v0.85h-0.85zM41.5 274.3h0.85v0.85h-0.85zM48.7 273.2h0.85v0.85h-0.85zM42.7 268.8h0.85v0.85h-0.85zM45.6 277.5h0.85v0.85h-0.85zM45.3 273.3h0.85v0.85h-0.85zM48.1 275.1h0.85v0.85h-0.85zM45.6 273.0h0.85v0.85h-0.85zM47.4 276.8h0.85v0.85h-0.85zM43.4 269.9h0.85v0.85h-0.85zM44.3 273.3h0.85v0.85h-0.85zM47.8 277.5h0.85v0.85h-0.85zM44.2 272.7h0.85v0.85h-0.85zM46.9 274.8h0.85v0.85h-0.85zM44.6 276.1h0.85v0.85h-0.85zM45.9 274.9h0.85v0.85h-0.85zM39.3 269.3h0.85v0.85h-0.85zM39.8 270.1h0.85v0.85h-0.85zM48.2 276.2h0.85v0.85h-0.85zM45.4 279.6h0.85v0.85h-0.85zM41.9 272.5h0.85v0.85h-0.85zM46.2 268.2h0.85v0.85h-0.85zM47.5 275.9h0.85v0.85h-0.85zM47.8 275.1h0.85v0.85h-0.85zM48.0 278.5h0.85v0.85h-0.85zM45.0 274.4h0.85v0.85h-0.85zM45.1 272.6h0.85v0.85h-0.85zM46.8 277.8h0.85v0.85h-0.85zM48.6 274.5h0.85v0.85h-0.85zM44.0 272.6h0.85v0.85h-0.85zM43.8 273.2h0.85v0.85h-0.85zM44.2 274.1h0.85v0.85h-0.85zM46.5 277.5h0.85v0.85h-0.85zM42.1 274.0h0.85v0.85h-0.85zM45.6 272.1h0.85v0.85h-0.85zM45.3 276.0h0.85v0.85h-0.85zM43.3 271.1h0.85v0.85h-0.85zM46.3 275.8h0.85v0.85h-0.85zM43.9 278.2h0.85v0.85h-0.85zM43.5 277.6h0.85v0.85h-0.85zM43.3 275.8h0.85v0.85h-0.85zM46.7 277.2h0.85v0.85h-0.85zM44.2 272.8h0.85v0.85h-0.85zM44.2 275.3h0.85v0.85h-0.85zM46.1 276.9h0.85v0.85h-0.85zM47.7 277.5h0.85v0.85h-0.85zM46.4 274.0h0.85v0.85h-0.85zM46.0 276.0h0.85v0.85h-0.85zM44.0 269.3h0.85v0.85h-0.85zM45.1 272.6h0.85v0.85h-0.85zM46.9 276.2h0.85v0.85h-0.85zM41.8 275.3h0.85v0.85h-0.85zM43.7 267.9h0.85v0.85h-0.85zM45.4 273.9h0.85v0.85h-0.85zM45.7 277.3h0.85v0.85h-0.85zM46.5 273.3h0.85v0.85h-0.85zM49.7 277.3h0.85v0.85h-0.85zM46.8 276.4h0.85v0.85h-0.85zM49.3 278.6h0.85v0.85h-0.85zM47.5 275.4h0.85v0.85h-0.85zM46.5 276.2h0.85v0.85h-0.85zM47.4 272.5h0.85v0.85h-0.85zM43.3 271.2h0.85v0.85h-0.85zM48.4 270.7h0.85v0.85h-0.85zM43.3 272.7h0.85v0.85h-0.85zM47.5 274.1h0.85v0.85h-0.85zM42.1 276.2h0.85v0.85h-0.85zM47.9 272.4h0.85v0.85h-0.85zM50.1 282.7h0.85v0.85h-0.85zM44.4 273.6h0.85v0.85h-0.85zM50.1 280.9h0.85v0.85h-0.85zM43.1 268.8h0.85v0.85h-0.85zM44.5 273.5h0.85v0.85h-0.85zM45.7 272.3h0.85v0.85h-0.85zM43.2 270.1h0.85v0.85h-0.85zM43.2 275.3h0.85v0.85h-0.85zM46.1 269.7h0.85v0.85h-0.85zM44.6 279.0h0.85v0.85h-0.85zM47.1 276.2h0.85v0.85h-0.85zM45.3 275.0h0.85v0.85h-0.85zM71.9 260.2h0.85v0.85h-0.85zM76.8 254.5h0.85v0.85h-0.85zM71.0 261.0h0.85v0.85h-0.85zM73.9 262.9h0.85v0.85h-0.85zM72.2 261.0h0.85v0.85h-0.85zM69.3 264.1h0.85v0.85h-0.85zM74.9 259.2h0.85v0.85h-0.85zM66.7 263.4h0.85v0.85h-0.85zM66.8 269.5h0.85v0.85h-0.85zM74.1 262.6h0.85v0.85h-0.85zM79.2 256.2h0.85v0.85h-0.85zM70.0 261.4h0.85v0.85h-0.85zM71.8 255.0h0.85v0.85h-0.85zM78.2 258.3h0.85v0.85h-0.85zM74.3 257.2h0.85v0.85h-0.85zM71.1 256.6h0.85v0.85h-0.85zM68.8 261.9h0.85v0.85h-0.85zM72.2 264.4h0.85v0.85h-0.85zM70.2 255.2h0.85v0.85h-0.85zM76.2 257.6h0.85v0.85h-0.85zM70.5 259.5h0.85v0.85h-0.85zM78.5 254.7h0.85v0.85h-0.85zM70.8 256.9h0.85v0.85h-0.85zM71.7 262.8h0.85v0.85h-0.85zM71.9 258.9h0.85v0.85h-0.85zM69.1 258.5h0.85v0.85h-0.85zM65.7 267.4h0.85v0.85h-0.85zM65.8 261.6h0.85v0.85h-0.85zM74.3 260.4h0.85v0.85h-0.85zM72.6 262.5h0.85v0.85h-0.85zM68.0 255.3h0.85v0.85h-0.85zM75.4 254.0h0.85v0.85h-0.85zM76.4 255.3h0.85v0.85h-0.85zM71.3 259.5h0.85v0.85h-0.85zM70.0 263.6h0.85v0.85h-0.85zM78.8 257.3h0.85v0.85h-0.85zM71.2 262.2h0.85v0.85h-0.85zM76.0 257.9h0.85v0.85h-0.85zM71.1 266.5h0.85v0.85h-0.85zM68.9 260.8h0.85v0.85h-0.85zM72.9 259.9h0.85v0.85h-0.85zM68.7 259.6h0.85v0.85h-0.85zM68.6 263.3h0.85v0.85h-0.85zM68.2 266.7h0.85v0.85h-0.85zM74.3 258.5h0.85v0.85h-0.85zM71.6 258.1h0.85v0.85h-0.85zM71.7 262.8h0.85v0.85h-0.85zM72.8 263.7h0.85v0.85h-0.85zM76.1 258.2h0.85v0.85h-0.85zM70.2 259.2h0.85v0.85h-0.85zM70.4 259.0h0.85v0.85h-0.85zM70.6 260.4h0.85v0.85h-0.85zM72.0 263.1h0.85v0.85h-0.85zM68.5 261.3h0.85v0.85h-0.85zM75.9 257.1h0.85v0.85h-0.85zM72.7 257.7h0.85v0.85h-0.85zM74.9 261.0h0.85v0.85h-0.85zM72.8 260.5h0.85v0.85h-0.85zM76.5 257.5h0.85v0.85h-0.85zM74.1 254.8h0.85v0.85h-0.85zM65.5 263.1h0.85v0.85h-0.85zM72.5 257.8h0.85v0.85h-0.85zM68.7 268.1h0.85v0.85h-0.85zM75.2 255.6h0.85v0.85h-0.85zM69.3 260.7h0.85v0.85h-0.85zM74.9 258.7h0.85v0.85h-0.85zM74.4 261.6h0.85v0.85h-0.85zM68.1 260.4h0.85v0.85h-0.85zM72.1 259.9h0.85v0.85h-0.85zM73.0 260.3h0.85v0.85h-0.85zM69.8 266.5h0.85v0.85h-0.85zM67.4 265.3h0.85v0.85h-0.85zM74.3 260.2h0.85v0.85h-0.85zM71.7 258.2h0.85v0.85h-0.85zM69.7 258.5h0.85v0.85h-0.85zM71.3 260.1h0.85v0.85h-0.85zM69.6 268.3h0.85v0.85h-0.85zM71.1 262.4h0.85v0.85h-0.85zM75.9 256.4h0.85v0.85h-0.85zM69.4 259.5h0.85v0.85h-0.85zM69.0 260.9h0.85v0.85h-0.85zM72.7 261.6h0.85v0.85h-0.85zM74.7 261.6h0.85v0.85h-0.85zM73.6 259.2h0.85v0.85h-0.85zM63.0 268.1h0.85v0.85h-0.85zM70.9 257.1h0.85v0.85h-0.85zM71.0 259.1h0.85v0.85h-0.85zM71.4 260.5h0.85v0.85h-0.85zM71.2 260.6h0.85v0.85h-0.85zM73.6 259.5h0.85v0.85h-0.85zM71.4 263.1h0.85v0.85h-0.85zM72.8 260.4h0.85v0.85h-0.85zM79.5 257.7h0.85v0.85h-0.85zM78.2 253.7h0.85v0.85h-0.85zM74.0 259.5h0.85v0.85h-0.85zM72.2 259.5h0.85v0.85h-0.85zM76.1 259.4h0.85v0.85h-0.85zM77.8 253.2h0.85v0.85h-0.85zM72.4 257.6h0.85v0.85h-0.85zM68.1 257.2h0.85v0.85h-0.85zM85.4 243.1h0.85v0.85h-0.85zM79.2 248.3h0.85v0.85h-0.85zM78.9 250.5h0.85v0.85h-0.85zM73.7 255.3h0.85v0.85h-0.85zM80.3 251.4h0.85v0.85h-0.85zM76.2 257.1h0.85v0.85h-0.85zM78.8 250.3h0.85v0.85h-0.85zM84.7 245.9h0.85v0.85h-0.85zM83.6 252.3h0.85v0.85h-0.85zM81.1 250.7h0.85v0.85h-0.85zM83.4 247.8h0.85v0.85h-0.85zM81.1 250.6h0.85v0.85h-0.85zM80.9 253.0h0.85v0.85h-0.85zM83.6 252.1h0.85v0.85h-0.85zM80.5 248.0h0.85v0.85h-0.85zM81.9 249.5h0.85v0.85h-0.85zM81.5 252.9h0.85v0.85h-0.85zM80.3 247.7h0.85v0.85h-0.85zM86.8 245.3h0.85v0.85h-0.85zM75.9 255.0h0.85v0.85h-0.85zM81.1 248.2h0.85v0.85h-0.85zM76.4 251.0h0.85v0.85h-0.85zM81.2 249.5h0.85v0.85h-0.85zM85.9 247.2h0.85v0.85h-0.85zM81.0 249.5h0.85v0.85h-0.85zM82.3 246.5h0.85v0.85h-0.85zM82.5 250.8h0.85v0.85h-0.85zM77.3 251.5h0.85v0.85h-0.85zM86.7 250.2h0.85v0.85h-0.85zM84.5 252.3h0.85v0.85h-0.85zM82.2 249.5h0.85v0.85h-0.85zM78.4 250.5h0.85v0.85h-0.85zM83.1 247.7h0.85v0.85h-0.85zM79.7 253.2h0.85v0.85h-0.85zM81.6 248.7h0.85v0.85h-0.85zM81.5 250.2h0.85v0.85h-0.85zM81.3 250.4h0.85v0.85h-0.85zM76.9 248.9h0.85v0.85h-0.85zM80.8 254.2h0.85v0.85h-0.85zM80.3 252.1h0.85v0.85h-0.85zM67.0 252.5h0.85v0.85h-0.85zM62.7 254.4h0.85v0.85h-0.85zM65.0 256.5h0.85v0.85h-0.85zM62.7 254.5h0.85v0.85h-0.85zM69.7 255.3h0.85v0.85h-0.85zM50.3 258.2h0.85v0.85h-0.85zM65.7 253.6h0.85v0.85h-0.85zM61.6 252.7h0.85v0.85h-0.85zM63.2 251.3h0.85v0.85h-0.85zM70.1 256.2h0.85v0.85h-0.85zM54.1 256.3h0.85v0.85h-0.85zM50.5 253.7h0.85v0.85h-0.85zM54.1 256.7h0.85v0.85h-0.85zM67.6 251.7h0.85v0.85h-0.85zM63.5 256.3h0.85v0.85h-0.85zM59.3 261.1h0.85v0.85h-0.85zM49.5 258.3h0.85v0.85h-0.85zM74.1 254.1h0.85v0.85h-0.85zM53.0 258.0h0.85v0.85h-0.85zM42.3 254.9h0.85v0.85h-0.85zM50.6 255.0h0.85v0.85h-0.85zM57.5 251.8h0.85v0.85h-0.85zM66.5 257.9h0.85v0.85h-0.85zM51.1 256.6h0.85v0.85h-0.85zM62.8 253.3h0.85v0.85h-0.85zM57.8 256.4h0.85v0.85h-0.85zM71.0 254.3h0.85v0.85h-0.85zM42.3 257.0h0.85v0.85h-0.85zM65.2 250.2h0.85v0.85h-0.85zM57.8 255.0h0.85v0.85h-0.85z" fill="#000" fill-opacity="0.72"/>
<path d="M44.8 293.3 C44.8 286 46.5 277.5 50 274 C53 271 58 268 63 267.7 C66.5 267.5 68.4 270 68.2 274" fill="none" stroke="#000" stroke-width="4.8" stroke-opacity="0.88" filter="url(#b1)"/>
<path d="M68.2 274 C68 279 67.4 286 64.8 292.8" fill="none" stroke="#000" stroke-width="3.8" stroke-opacity="0.75" filter="url(#b1)"/>
<ellipse cx="52.6" cy="244.8" rx="8.3" ry="6.6" fill="none" stroke="#000" stroke-width="3.6" stroke-opacity="0.9" filter="url(#b1)" transform="rotate(-10 53 244.4)"/>
<path d="M44.8 293.3 C44.8 286 46.5 277.5 50 274 C53 271 58 268 63 267.7 C66.5 267.5 68.4 270 68.2 274 C68 279 67.4 286 64.8 292.8 Z" fill="url(#g1)" stroke="#fff" stroke-width="1.1"/>
<path d="M48.5 292.5 C48.5 286 50 279 53 276.5 C56 274 60 271.5 63.5 271.5 C65.5 271.5 66 274 65.8 277 C65.5 282 65 288 63 292.5" fill="none" stroke="#bbb" stroke-width="0.5"/>
<rect x="52.6" y="278" width="3.2" height="13.5" fill="#9a9a9a" opacity="0.6"/>
<ellipse cx="53.2" cy="244.3" rx="7.4" ry="5.7" fill="#fff" stroke="#eee" stroke-width="0.6" transform="rotate(-10 53 244.4)"/>
<ellipse cx="53.4" cy="244.2" rx="5.0" ry="3.6" fill="#f2f2f2" stroke="#c8c8c8" stroke-width="0.5" transform="rotate(-10 53 244.4)"/>
<rect x="40" y="293.2" width="30" height="1.8" fill="#222" opacity="0.8" filter="url(#b1)"/>
<rect x="26.50" y="212.20" width="87.30" height="83.60" fill="none" stroke="#777" stroke-width="0.9"/>
<line x1="74.80" y1="212.20" x2="74.80" y2="257.20" stroke="#555" stroke-width="0.9"/>
<line x1="26.50" y1="257.20" x2="74.80" y2="257.20" stroke="#555" stroke-width="0.9"/>
<text x="81.70" y="225.30" font-size="9.9" text-anchor="start" font-weight="bold" fill="#111" stroke="#111" stroke-width="0.18" >8%</text>
<text x="22.90" y="297.10" font-size="3.8" text-anchor="end" font-weight="bold" fill="#444">10<tspan font-size="2.36" dy="-1.60">0</tspan></text>
<text x="26.20" y="302.20" font-size="3.8" text-anchor="middle" font-weight="bold" fill="#444">10<tspan font-size="2.36" dy="-1.60">0</tspan></text>
<text x="22.90" y="276.20" font-size="3.8" text-anchor="end" font-weight="bold" fill="#444">10<tspan font-size="2.36" dy="-1.60">1</tspan></text>
<text x="48.03" y="302.20" font-size="3.8" text-anchor="middle" font-weight="bold" fill="#444">10<tspan font-size="2.36" dy="-1.60">1</tspan></text>
<text x="22.90" y="255.30" font-size="3.8" text-anchor="end" font-weight="bold" fill="#444">10<tspan font-size="2.36" dy="-1.60">2</tspan></text>
<text x="69.85" y="302.20" font-size="3.8" text-anchor="middle" font-weight="bold" fill="#444">10<tspan font-size="2.36" dy="-1.60">2</tspan></text>
<text x="22.90" y="234.40" font-size="3.8" text-anchor="end" font-weight="bold" fill="#444">10<tspan font-size="2.36" dy="-1.60">3</tspan></text>
<text x="91.67" y="302.20" font-size="3.8" text-anchor="middle" font-weight="bold" fill="#444">10<tspan font-size="2.36" dy="-1.60">3</tspan></text>
<text x="22.90" y="213.50" font-size="3.8" text-anchor="end" font-weight="bold" fill="#444">10<tspan font-size="2.36" dy="-1.60">4</tspan></text>
<text x="113.50" y="302.20" font-size="3.8" text-anchor="middle" font-weight="bold" fill="#444">10<tspan font-size="2.36" dy="-1.60">4</tspan></text>
<path d="M26.5 289.5h1.2M33.1 295.8v-1.2M26.5 285.8h1.2M36.9 295.8v-1.2M26.5 283.2h1.2M39.6 295.8v-1.2M26.5 281.2h1.2M41.8 295.8v-1.2M26.5 279.5h1.2M43.5 295.8v-1.2M26.5 278.1h1.2M44.9 295.8v-1.2M26.5 276.9h1.2M46.2 295.8v-1.2M26.5 275.9h1.2M47.3 295.8v-1.2M26.5 268.6h1.2M54.9 295.8v-1.2M26.5 264.9h1.2M58.7 295.8v-1.2M26.5 262.3h1.2M61.5 295.8v-1.2M26.5 260.3h1.2M63.6 295.8v-1.2M26.5 258.6h1.2M65.3 295.8v-1.2M26.5 257.2h1.2M66.8 295.8v-1.2M26.5 256.0h1.2M68.0 295.8v-1.2M26.5 255.0h1.2M69.2 295.8v-1.2M26.5 247.7h1.2M76.7 295.8v-1.2M26.5 244.0h1.2M80.6 295.8v-1.2M26.5 241.4h1.2M83.3 295.8v-1.2M26.5 239.4h1.2M85.4 295.8v-1.2M26.5 237.7h1.2M87.1 295.8v-1.2M26.5 236.3h1.2M88.6 295.8v-1.2M26.5 235.1h1.2M89.9 295.8v-1.2M26.5 234.1h1.2M91.0 295.8v-1.2M26.5 226.8h1.2M98.5 295.8v-1.2M26.5 223.1h1.2M102.4 295.8v-1.2M26.5 220.5h1.2M105.1 295.8v-1.2M26.5 218.5h1.2M107.2 295.8v-1.2M26.5 216.8h1.2M109.0 295.8v-1.2M26.5 215.4h1.2M110.4 295.8v-1.2M26.5 214.2h1.2M111.7 295.8v-1.2M26.5 213.2h1.2M112.8 295.8v-1.2" stroke="#999" stroke-width="0.5" fill="none"/>
<path d="M149.4 292.5 L149.4 278 C149.4 271 152.5 267.1 159 267.1 L168 267.1 C173 267.1 175.6 269.5 175.6 274 L175.6 291 L174 292.5 Z" fill="none" stroke="#555" stroke-width="11" stroke-opacity="0.45" filter="url(#b2)"/>
<circle cx="159.6" cy="234.6" r="7" fill="none" stroke="#555" stroke-width="3" stroke-opacity="0.2" filter="url(#b2)"/>
<path d="M177.5 291.7h0.85v0.85h-0.85zM176.1 219.9h0.85v0.85h-0.85zM162.2 248.2h0.85v0.85h-0.85zM159.4 223.8h0.85v0.85h-0.85zM143.8 249.9h0.85v0.85h-0.85zM145.2 250.8h0.85v0.85h-0.85zM136.1 220.1h0.85v0.85h-0.85zM167.7 248.0h0.85v0.85h-0.85zM158.6 273.9h0.85v0.85h-0.85zM151.5 217.8h0.85v0.85h-0.85zM171.0 261.9h0.85v0.85h-0.85zM165.3 264.5h0.85v0.85h-0.85zM179.7 243.1h0.85v0.85h-0.85zM170.0 243.6h0.85v0.85h-0.85zM161.3 267.8h0.85v0.85h-0.85zM149.5 220.1h0.85v0.85h-0.85zM156.8 272.6h0.85v0.85h-0.85zM162.2 250.1h0.85v0.85h-0.85zM164.5 228.1h0.85v0.85h-0.85zM143.2 239.8h0.85v0.85h-0.85zM172.5 229.2h0.85v0.85h-0.85zM140.3 221.2h0.85v0.85h-0.85zM136.8 235.9h0.85v0.85h-0.85zM161.3 281.1h0.85v0.85h-0.85zM150.2 243.7h0.85v0.85h-0.85zM148.3 238.3h0.85v0.85h-0.85zM170.8 258.6h0.85v0.85h-0.85zM146.9 221.9h0.85v0.85h-0.85zM171.1 271.7h0.85v0.85h-0.85zM173.1 232.8h0.85v0.85h-0.85zM160.1 292.3h0.85v0.85h-0.85zM162.3 293.5h0.85v0.85h-0.85zM137.6 269.1h0.85v0.85h-0.85zM136.1 287.2h0.85v0.85h-0.85zM172.0 293.6h0.85v0.85h-0.85zM169.5 265.9h0.85v0.85h-0.85zM179.8 267.3h0.85v0.85h-0.85zM143.9 253.5h0.85v0.85h-0.85zM156.4 259.0h0.85v0.85h-0.85zM177.9 293.7h0.85v0.85h-0.85zM144.9 254.8h0.85v0.85h-0.85zM159.3 257.8h0.85v0.85h-0.85zM160.0 287.4h0.85v0.85h-0.85zM146.6 269.4h0.85v0.85h-0.85zM176.4 270.5h0.85v0.85h-0.85zM150.8 291.0h0.85v0.85h-0.85zM172.4 291.2h0.85v0.85h-0.85zM166.6 269.0h0.85v0.85h-0.85zM166.9 288.2h0.85v0.85h-0.85zM164.4 261.0h0.85v0.85h-0.85zM148.6 268.8h0.85v0.85h-0.85zM170.5 275.6h0.85v0.85h-0.85zM160.3 288.0h0.85v0.85h-0.85zM140.0 279.0h0.85v0.85h-0.85zM150.3 275.7h0.85v0.85h-0.85zM173.4 261.4h0.85v0.85h-0.85zM178.8 253.6h0.85v0.85h-0.85zM202.9 270.3h0.85v0.85h-0.85zM190.2 271.4h0.85v0.85h-0.85zM199.4 265.2h0.85v0.85h-0.85zM209.0 240.2h0.85v0.85h-0.85zM195.7 284.0h0.85v0.85h-0.85zM186.5 288.6h0.85v0.85h-0.85zM188.9 278.1h0.85v0.85h-0.85zM187.8 265.2h0.85v0.85h-0.85zM197.5 244.6h0.85v0.85h-0.85zM208.3 266.9h0.85v0.85h-0.85zM207.9 270.2h0.85v0.85h-0.85zM202.7 269.5h0.85v0.85h-0.85zM148.4 293.5h0.85v0.85h-0.85zM144.0 276.0h0.85v0.85h-0.85zM141.6 270.7h0.85v0.85h-0.85zM137.5 279.4h0.85v0.85h-0.85zM138.7 291.6h0.85v0.85h-0.85zM138.1 291.5h0.85v0.85h-0.85zM140.4 291.3h0.85v0.85h-0.85zM143.2 287.3h0.85v0.85h-0.85zM138.3 283.9h0.85v0.85h-0.85zM138.3 285.1h0.85v0.85h-0.85zM136.1 280.1h0.85v0.85h-0.85zM142.7 278.6h0.85v0.85h-0.85zM142.5 278.5h0.85v0.85h-0.85zM146.8 282.6h0.85v0.85h-0.85zM148.4 288.3h0.85v0.85h-0.85zM139.8 292.4h0.85v0.85h-0.85zM146.7 291.9h0.85v0.85h-0.85zM135.1 292.3h0.85v0.85h-0.85zM140.0 287.5h0.85v0.85h-0.85zM146.2 277.3h0.85v0.85h-0.85zM142.9 281.0h0.85v0.85h-0.85zM146.6 285.5h0.85v0.85h-0.85zM143.2 273.0h0.85v0.85h-0.85zM137.1 279.7h0.85v0.85h-0.85zM141.8 287.0h0.85v0.85h-0.85zM142.4 279.2h0.85v0.85h-0.85zM137.0 287.5h0.85v0.85h-0.85zM136.4 276.4h0.85v0.85h-0.85zM143.5 276.5h0.85v0.85h-0.85zM136.3 294.0h0.85v0.85h-0.85zM140.2 263.5h0.85v0.85h-0.85zM153.2 281.0h0.85v0.85h-0.85zM143.5 290.4h0.85v0.85h-0.85zM141.8 267.2h0.85v0.85h-0.85zM144.9 286.2h0.85v0.85h-0.85zM139.3 269.0h0.85v0.85h-0.85zM137.5 282.6h0.85v0.85h-0.85zM139.2 285.7h0.85v0.85h-0.85zM138.6 292.7h0.85v0.85h-0.85zM143.2 273.2h0.85v0.85h-0.85zM137.6 287.5h0.85v0.85h-0.85zM137.9 285.9h0.85v0.85h-0.85zM143.1 273.4h0.85v0.85h-0.85zM146.0 281.7h0.85v0.85h-0.85zM137.1 277.4h0.85v0.85h-0.85zM147.1 282.4h0.85v0.85h-0.85zM139.0 285.4h0.85v0.85h-0.85zM142.9 276.4h0.85v0.85h-0.85zM139.4 286.1h0.85v0.85h-0.85zM144.9 285.9h0.85v0.85h-0.85zM147.8 281.7h0.85v0.85h-0.85zM138.8 271.1h0.85v0.85h-0.85zM140.1 289.4h0.85v0.85h-0.85zM139.2 282.0h0.85v0.85h-0.85zM135.9 278.3h0.85v0.85h-0.85zM138.3 282.8h0.85v0.85h-0.85zM145.1 288.2h0.85v0.85h-0.85zM144.4 294.2h0.85v0.85h-0.85zM140.5 271.7h0.85v0.85h-0.85zM137.6 282.8h0.85v0.85h-0.85zM140.1 291.3h0.85v0.85h-0.85zM141.5 276.7h0.85v0.85h-0.85zM141.4 283.6h0.85v0.85h-0.85zM142.0 272.7h0.85v0.85h-0.85zM142.6 281.0h0.85v0.85h-0.85zM136.4 263.7h0.85v0.85h-0.85zM139.4 280.2h0.85v0.85h-0.85zM151.0 272.7h0.85v0.85h-0.85zM142.1 285.8h0.85v0.85h-0.85zM142.5 270.2h0.85v0.85h-0.85zM146.6 280.6h0.85v0.85h-0.85zM136.9 283.5h0.85v0.85h-0.85zM140.3 280.6h0.85v0.85h-0.85zM141.7 278.9h0.85v0.85h-0.85zM140.8 287.1h0.85v0.85h-0.85zM139.2 279.7h0.85v0.85h-0.85zM140.5 284.0h0.85v0.85h-0.85zM143.3 269.9h0.85v0.85h-0.85zM135.2 279.1h0.85v0.85h-0.85zM142.4 271.8h0.85v0.85h-0.85zM136.9 293.5h0.85v0.85h-0.85zM144.0 287.9h0.85v0.85h-0.85zM137.5 273.1h0.85v0.85h-0.85zM142.0 278.7h0.85v0.85h-0.85zM143.2 268.9h0.85v0.85h-0.85zM142.0 287.9h0.85v0.85h-0.85zM136.9 277.8h0.85v0.85h-0.85zM143.2 267.7h0.85v0.85h-0.85zM143.7 271.2h0.85v0.85h-0.85zM150.0 278.0h0.85v0.85h-0.85zM144.2 291.7h0.85v0.85h-0.85zM138.6 288.8h0.85v0.85h-0.85zM140.7 279.9h0.85v0.85h-0.85zM140.6 292.6h0.85v0.85h-0.85zM144.2 277.4h0.85v0.85h-0.85zM143.6 293.6h0.85v0.85h-0.85zM140.5 286.5h0.85v0.85h-0.85zM141.7 269.5h0.85v0.85h-0.85zM143.8 293.5h0.85v0.85h-0.85zM135.5 272.5h0.85v0.85h-0.85zM139.1 285.0h0.85v0.85h-0.85zM143.7 280.9h0.85v0.85h-0.85zM140.1 274.0h0.85v0.85h-0.85zM141.2 276.0h0.85v0.85h-0.85zM144.5 289.2h0.85v0.85h-0.85zM135.0 291.6h0.85v0.85h-0.85zM135.3 294.3h0.85v0.85h-0.85zM141.4 283.3h0.85v0.85h-0.85zM145.4 271.9h0.85v0.85h-0.85zM139.8 280.0h0.85v0.85h-0.85zM139.7 268.6h0.85v0.85h-0.85zM146.5 279.8h0.85v0.85h-0.85zM142.7 281.7h0.85v0.85h-0.85zM136.4 274.5h0.85v0.85h-0.85zM136.8 278.6h0.85v0.85h-0.85zM139.1 288.4h0.85v0.85h-0.85zM144.6 284.6h0.85v0.85h-0.85zM139.9 287.5h0.85v0.85h-0.85zM136.3 284.8h0.85v0.85h-0.85zM147.5 277.0h0.85v0.85h-0.85zM136.1 269.0h0.85v0.85h-0.85zM140.2 288.4h0.85v0.85h-0.85zM138.0 279.9h0.85v0.85h-0.85zM145.2 283.1h0.85v0.85h-0.85zM143.1 279.6h0.85v0.85h-0.85zM145.8 291.0h0.85v0.85h-0.85zM139.3 277.5h0.85v0.85h-0.85zM151.3 273.3h0.85v0.85h-0.85zM135.6 260.6h0.85v0.85h-0.85zM143.0 283.5h0.85v0.85h-0.85zM139.6 269.2h0.85v0.85h-0.85zM140.0 275.9h0.85v0.85h-0.85zM162.1 262.2h0.85v0.85h-0.85zM153.2 265.0h0.85v0.85h-0.85zM161.4 261.5h0.85v0.85h-0.85zM165.0 263.6h0.85v0.85h-0.85zM168.8 265.3h0.85v0.85h-0.85zM166.8 260.8h0.85v0.85h-0.85zM173.2 265.8h0.85v0.85h-0.85zM152.9 266.6h0.85v0.85h-0.85zM159.8 259.5h0.85v0.85h-0.85zM158.4 258.6h0.85v0.85h-0.85zM171.1 258.6h0.85v0.85h-0.85zM174.8 259.9h0.85v0.85h-0.85zM157.4 266.7h0.85v0.85h-0.85zM162.7 257.4h0.85v0.85h-0.85zM157.4 256.9h0.85v0.85h-0.85zM166.2 259.4h0.85v0.85h-0.85zM157.9 262.3h0.85v0.85h-0.85zM142.5 263.7h0.85v0.85h-0.85zM178.3 259.8h0.85v0.85h-0.85zM152.6 263.9h0.85v0.85h-0.85zM172.1 259.9h0.85v0.85h-0.85zM161.1 263.8h0.85v0.85h-0.85zM170.4 260.1h0.85v0.85h-0.85zM185.8 269.2h0.85v0.85h-0.85zM144.2 260.2h0.85v0.85h-0.85zM162.9 260.7h0.85v0.85h-0.85zM153.3 262.7h0.85v0.85h-0.85zM151.1 260.8h0.85v0.85h-0.85zM161.4 261.5h0.85v0.85h-0.85zM163.0 266.0h0.85v0.85h-0.85zM171.2 263.0h0.85v0.85h-0.85zM181.4 261.5h0.85v0.85h-0.85zM168.8 268.5h0.85v0.85h-0.85zM161.3 265.3h0.85v0.85h-0.85zM154.0 261.0h0.85v0.85h-0.85zM161.4 264.3h0.85v0.85h-0.85zM163.2 264.9h0.85v0.85h-0.85zM162.7 262.5h0.85v0.85h-0.85zM152.6 262.4h0.85v0.85h-0.85zM159.8 262.8h0.85v0.85h-0.85zM147.6 266.8h0.85v0.85h-0.85zM171.2 263.5h0.85v0.85h-0.85zM154.2 266.3h0.85v0.85h-0.85zM156.9 262.1h0.85v0.85h-0.85zM165.8 261.1h0.85v0.85h-0.85zM160.8 261.3h0.85v0.85h-0.85zM166.0 264.2h0.85v0.85h-0.85zM167.2 264.2h0.85v0.85h-0.85zM163.0 264.0h0.85v0.85h-0.85zM168.1 259.9h0.85v0.85h-0.85zM146.9 263.1h0.85v0.85h-0.85zM161.3 262.1h0.85v0.85h-0.85zM175.6 264.3h0.85v0.85h-0.85zM173.0 263.2h0.85v0.85h-0.85zM144.9 258.6h0.85v0.85h-0.85zM171.2 263.0h0.85v0.85h-0.85zM154.4 266.9h0.85v0.85h-0.85zM178.0 264.1h0.85v0.85h-0.85zM173.4 261.9h0.85v0.85h-0.85zM149.5 257.7h0.85v0.85h-0.85zM171.3 258.1h0.85v0.85h-0.85zM155.3 263.1h0.85v0.85h-0.85zM165.8 257.1h0.85v0.85h-0.85zM157.1 260.3h0.85v0.85h-0.85zM175.2 262.3h0.85v0.85h-0.85zM152.6 268.2h0.85v0.85h-0.85zM161.3 265.3h0.85v0.85h-0.85zM163.1 262.4h0.85v0.85h-0.85zM167.6 260.7h0.85v0.85h-0.85zM144.8 260.9h0.85v0.85h-0.85zM166.3 261.7h0.85v0.85h-0.85zM171.0 265.1h0.85v0.85h-0.85zM161.9 266.3h0.85v0.85h-0.85zM163.7 263.9h0.85v0.85h-0.85zM156.7 262.6h0.85v0.85h-0.85zM158.9 266.2h0.85v0.85h-0.85zM176.5 266.3h0.85v0.85h-0.85zM162.3 262.5h0.85v0.85h-0.85zM162.4 261.1h0.85v0.85h-0.85zM159.5 261.9h0.85v0.85h-0.85zM176.4 272.8h0.85v0.85h-0.85zM150.2 267.7h0.85v0.85h-0.85zM179.1 274.3h0.85v0.85h-0.85zM178.2 289.3h0.85v0.85h-0.85zM147.2 281.5h0.85v0.85h-0.85zM164.9 266.1h0.85v0.85h-0.85zM144.1 275.7h0.85v0.85h-0.85zM168.6 265.2h0.85v0.85h-0.85zM177.1 270.3h0.85v0.85h-0.85zM179.8 277.1h0.85v0.85h-0.85zM165.9 263.3h0.85v0.85h-0.85zM177.1 288.2h0.85v0.85h-0.85zM148.7 266.2h0.85v0.85h-0.85zM178.0 265.4h0.85v0.85h-0.85zM178.6 282.5h0.85v0.85h-0.85zM177.4 283.1h0.85v0.85h-0.85zM145.1 277.7h0.85v0.85h-0.85zM177.1 275.3h0.85v0.85h-0.85zM147.8 276.4h0.85v0.85h-0.85zM149.6 266.6h0.85v0.85h-0.85zM176.3 268.2h0.85v0.85h-0.85zM178.6 288.3h0.85v0.85h-0.85zM148.9 270.1h0.85v0.85h-0.85zM178.7 277.9h0.85v0.85h-0.85zM178.0 269.6h0.85v0.85h-0.85zM170.2 265.4h0.85v0.85h-0.85zM171.0 266.0h0.85v0.85h-0.85zM154.2 263.9h0.85v0.85h-0.85zM146.2 279.8h0.85v0.85h-0.85zM146.5 287.3h0.85v0.85h-0.85zM148.4 286.8h0.85v0.85h-0.85zM157.1 266.1h0.85v0.85h-0.85zM178.2 270.3h0.85v0.85h-0.85zM177.9 277.3h0.85v0.85h-0.85zM153.4 266.8h0.85v0.85h-0.85zM145.2 282.4h0.85v0.85h-0.85zM148.1 268.1h0.85v0.85h-0.85zM146.2 283.1h0.85v0.85h-0.85zM148.3 292.1h0.85v0.85h-0.85zM176.9 288.1h0.85v0.85h-0.85zM176.4 273.1h0.85v0.85h-0.85zM148.6 272.8h0.85v0.85h-0.85zM147.4 292.6h0.85v0.85h-0.85zM177.3 272.5h0.85v0.85h-0.85zM148.8 272.3h0.85v0.85h-0.85zM161.3 262.0h0.85v0.85h-0.85zM180.1 282.1h0.85v0.85h-0.85zM144.7 289.1h0.85v0.85h-0.85zM178.9 283.5h0.85v0.85h-0.85zM179.2 272.3h0.85v0.85h-0.85zM146.9 272.4h0.85v0.85h-0.85zM163.4 262.8h0.85v0.85h-0.85zM177.1 270.3h0.85v0.85h-0.85zM171.1 266.0h0.85v0.85h-0.85zM177.1 291.9h0.85v0.85h-0.85zM150.8 263.9h0.85v0.85h-0.85zM145.7 274.9h0.85v0.85h-0.85zM162.8 265.0h0.85v0.85h-0.85zM174.4 265.4h0.85v0.85h-0.85zM176.8 281.8h0.85v0.85h-0.85zM175.0 266.2h0.85v0.85h-0.85zM175.7 267.5h0.85v0.85h-0.85zM148.1 288.3h0.85v0.85h-0.85zM152.0 267.6h0.85v0.85h-0.85zM158.9 266.1h0.85v0.85h-0.85zM147.4 270.5h0.85v0.85h-0.85zM161.5 266.0h0.85v0.85h-0.85zM158.3 266.2h0.85v0.85h-0.85zM173.6 264.1h0.85v0.85h-0.85zM176.9 278.6h0.85v0.85h-0.85zM148.3 290.6h0.85v0.85h-0.85zM178.4 284.7h0.85v0.85h-0.85zM179.6 288.3h0.85v0.85h-0.85zM165.2 264.2h0.85v0.85h-0.85zM147.5 279.5h0.85v0.85h-0.85zM147.3 287.3h0.85v0.85h-0.85zM147.9 270.2h0.85v0.85h-0.85zM148.5 292.0h0.85v0.85h-0.85zM147.7 271.0h0.85v0.85h-0.85zM148.3 289.4h0.85v0.85h-0.85zM177.6 290.2h0.85v0.85h-0.85zM146.5 273.8h0.85v0.85h-0.85zM148.3 273.3h0.85v0.85h-0.85zM148.5 276.1h0.85v0.85h-0.85zM178.1 273.9h0.85v0.85h-0.85zM176.4 280.6h0.85v0.85h-0.85zM177.2 283.9h0.85v0.85h-0.85zM154.1 266.0h0.85v0.85h-0.85zM177.7 275.0h0.85v0.85h-0.85zM146.9 280.4h0.85v0.85h-0.85zM147.9 283.7h0.85v0.85h-0.85zM178.5 285.1h0.85v0.85h-0.85zM177.2 273.5h0.85v0.85h-0.85zM146.8 275.3h0.85v0.85h-0.85zM146.9 271.6h0.85v0.85h-0.85zM147.9 275.8h0.85v0.85h-0.85zM148.4 290.5h0.85v0.85h-0.85zM146.2 282.9h0.85v0.85h-0.85zM147.3 292.9h0.85v0.85h-0.85zM180.5 281.9h0.85v0.85h-0.85zM172.4 265.2h0.85v0.85h-0.85zM177.5 280.9h0.85v0.85h-0.85zM168.0 262.3h0.85v0.85h-0.85zM151.0 266.6h0.85v0.85h-0.85zM177.6 291.3h0.85v0.85h-0.85zM160.7 264.0h0.85v0.85h-0.85zM146.6 271.7h0.85v0.85h-0.85zM166.2 265.4h0.85v0.85h-0.85zM176.8 273.1h0.85v0.85h-0.85zM146.1 282.3h0.85v0.85h-0.85zM178.0 292.0h0.85v0.85h-0.85zM172.9 265.7h0.85v0.85h-0.85zM179.5 270.1h0.85v0.85h-0.85zM162.3 261.6h0.85v0.85h-0.85zM176.8 277.8h0.85v0.85h-0.85zM146.3 277.0h0.85v0.85h-0.85zM157.2 264.5h0.85v0.85h-0.85zM146.4 290.9h0.85v0.85h-0.85zM144.6 285.7h0.85v0.85h-0.85zM147.9 292.8h0.85v0.85h-0.85zM144.9 281.9h0.85v0.85h-0.85zM169.6 261.5h0.85v0.85h-0.85zM147.1 270.5h0.85v0.85h-0.85zM181.5 283.0h0.85v0.85h-0.85zM147.9 283.8h0.85v0.85h-0.85zM163.0 263.5h0.85v0.85h-0.85zM151.2 267.8h0.85v0.85h-0.85zM146.6 281.3h0.85v0.85h-0.85zM147.0 283.7h0.85v0.85h-0.85zM176.6 277.4h0.85v0.85h-0.85zM150.2 267.8h0.85v0.85h-0.85zM172.6 264.1h0.85v0.85h-0.85zM150.1 269.9h0.85v0.85h-0.85zM163.3 264.7h0.85v0.85h-0.85zM147.1 278.9h0.85v0.85h-0.85zM148.4 281.7h0.85v0.85h-0.85zM177.8 277.4h0.85v0.85h-0.85zM147.1 288.5h0.85v0.85h-0.85zM177.4 273.8h0.85v0.85h-0.85zM178.2 268.1h0.85v0.85h-0.85zM152.0 263.5h0.85v0.85h-0.85zM147.5 282.5h0.85v0.85h-0.85zM178.0 286.4h0.85v0.85h-0.85zM173.1 263.8h0.85v0.85h-0.85zM158.9 265.2h0.85v0.85h-0.85zM157.5 265.0h0.85v0.85h-0.85zM161.9 265.2h0.85v0.85h-0.85zM171.5 265.4h0.85v0.85h-0.85zM147.6 285.0h0.85v0.85h-0.85zM169.8 265.7h0.85v0.85h-0.85zM162.5 264.4h0.85v0.85h-0.85zM148.6 273.7h0.85v0.85h-0.85zM173.7 267.4h0.85v0.85h-0.85zM164.9 262.9h0.85v0.85h-0.85zM177.2 280.2h0.85v0.85h-0.85zM158.4 263.7h0.85v0.85h-0.85zM148.1 282.3h0.85v0.85h-0.85zM176.3 269.0h0.85v0.85h-0.85zM147.8 285.5h0.85v0.85h-0.85zM146.6 292.4h0.85v0.85h-0.85zM148.2 292.2h0.85v0.85h-0.85zM178.4 277.5h0.85v0.85h-0.85zM178.5 274.1h0.85v0.85h-0.85zM179.3 274.8h0.85v0.85h-0.85zM147.2 273.7h0.85v0.85h-0.85zM163.8 263.1h0.85v0.85h-0.85zM159.9 263.8h0.85v0.85h-0.85zM168.9 265.2h0.85v0.85h-0.85zM180.2 283.6h0.85v0.85h-0.85zM147.7 282.3h0.85v0.85h-0.85zM172.1 265.4h0.85v0.85h-0.85zM147.7 270.4h0.85v0.85h-0.85zM179.4 278.2h0.85v0.85h-0.85zM154.3 264.6h0.85v0.85h-0.85zM145.7 274.2h0.85v0.85h-0.85zM148.0 286.1h0.85v0.85h-0.85zM176.5 286.6h0.85v0.85h-0.85zM178.5 289.7h0.85v0.85h-0.85zM159.4 265.8h0.85v0.85h-0.85zM147.5 292.7h0.85v0.85h-0.85zM165.6 265.5h0.85v0.85h-0.85zM148.4 285.7h0.85v0.85h-0.85zM176.9 289.3h0.85v0.85h-0.85zM178.3 290.3h0.85v0.85h-0.85zM149.0 269.1h0.85v0.85h-0.85zM146.5 289.0h0.85v0.85h-0.85zM148.6 285.0h0.85v0.85h-0.85zM146.0 281.5h0.85v0.85h-0.85zM176.7 283.4h0.85v0.85h-0.85zM178.8 284.3h0.85v0.85h-0.85zM159.9 263.2h0.85v0.85h-0.85zM145.5 271.0h0.85v0.85h-0.85zM161.2 265.9h0.85v0.85h-0.85zM176.9 285.2h0.85v0.85h-0.85zM147.2 283.9h0.85v0.85h-0.85zM162.4 263.6h0.85v0.85h-0.85zM175.6 268.5h0.85v0.85h-0.85zM176.9 289.9h0.85v0.85h-0.85zM149.4 271.6h0.85v0.85h-0.85zM177.5 289.2h0.85v0.85h-0.85zM155.9 265.1h0.85v0.85h-0.85zM176.9 290.0h0.85v0.85h-0.85zM178.5 285.0h0.85v0.85h-0.85zM177.0 274.1h0.85v0.85h-0.85zM152.4 263.7h0.85v0.85h-0.85zM171.9 265.2h0.85v0.85h-0.85zM161.3 265.2h0.85v0.85h-0.85zM153.2 266.4h0.85v0.85h-0.85zM148.3 281.7h0.85v0.85h-0.85zM150.8 264.0h0.85v0.85h-0.85zM177.3 267.1h0.85v0.85h-0.85zM173.3 267.1h0.85v0.85h-0.85zM148.2 293.4h0.85v0.85h-0.85zM147.0 264.0h0.85v0.85h-0.85zM164.3 264.5h0.85v0.85h-0.85zM170.2 263.4h0.85v0.85h-0.85zM147.2 294.2h0.85v0.85h-0.85zM179.2 279.9h0.85v0.85h-0.85zM158.1 263.0h0.85v0.85h-0.85zM160.5 265.9h0.85v0.85h-0.85zM160.4 264.2h0.85v0.85h-0.85zM167.7 265.7h0.85v0.85h-0.85zM148.3 279.5h0.85v0.85h-0.85zM176.7 273.7h0.85v0.85h-0.85zM156.2 262.5h0.85v0.85h-0.85zM165.7 266.1h0.85v0.85h-0.85zM175.5 268.9h0.85v0.85h-0.85zM178.2 283.8h0.85v0.85h-0.85zM147.4 275.3h0.85v0.85h-0.85zM177.3 282.7h0.85v0.85h-0.85zM177.9 273.5h0.85v0.85h-0.85zM162.0 264.2h0.85v0.85h-0.85zM176.8 265.1h0.85v0.85h-0.85zM166.6 263.8h0.85v0.85h-0.85zM172.1 265.8h0.85v0.85h-0.85zM148.1 291.2h0.85v0.85h-0.85zM148.2 291.6h0.85v0.85h-0.85zM146.1 267.6h0.85v0.85h-0.85zM150.5 268.3h0.85v0.85h-0.85zM147.7 272.8h0.85v0.85h-0.85zM181.2 285.4h0.85v0.85h-0.85zM147.3 282.9h0.85v0.85h-0.85zM148.1 277.4h0.85v0.85h-0.85zM169.1 265.0h0.85v0.85h-0.85zM150.4 268.9h0.85v0.85h-0.85zM146.1 269.9h0.85v0.85h-0.85zM148.6 285.0h0.85v0.85h-0.85zM147.8 268.8h0.85v0.85h-0.85zM176.5 272.9h0.85v0.85h-0.85zM149.5 264.1h0.85v0.85h-0.85zM150.8 265.9h0.85v0.85h-0.85zM147.4 280.4h0.85v0.85h-0.85zM147.1 273.0h0.85v0.85h-0.85zM147.8 288.3h0.85v0.85h-0.85zM177.0 287.1h0.85v0.85h-0.85zM161.9 265.9h0.85v0.85h-0.85zM179.8 292.6h0.85v0.85h-0.85zM174.5 268.1h0.85v0.85h-0.85zM178.2 273.9h0.85v0.85h-0.85zM163.8 262.7h0.85v0.85h-0.85zM169.9 266.5h0.85v0.85h-0.85zM148.2 271.1h0.85v0.85h-0.85zM162.5 266.0h0.85v0.85h-0.85zM178.0 271.2h0.85v0.85h-0.85zM163.0 263.9h0.85v0.85h-0.85zM148.2 277.5h0.85v0.85h-0.85zM178.2 281.0h0.85v0.85h-0.85zM148.6 270.8h0.85v0.85h-0.85zM177.9 270.5h0.85v0.85h-0.85zM152.4 267.4h0.85v0.85h-0.85zM169.9 266.0h0.85v0.85h-0.85zM163.6 265.3h0.85v0.85h-0.85zM172.6 266.5h0.85v0.85h-0.85zM146.4 273.5h0.85v0.85h-0.85zM178.0 277.5h0.85v0.85h-0.85zM150.6 267.8h0.85v0.85h-0.85zM146.5 283.3h0.85v0.85h-0.85zM148.5 287.6h0.85v0.85h-0.85zM176.0 267.7h0.85v0.85h-0.85zM178.6 290.1h0.85v0.85h-0.85zM145.9 281.9h0.85v0.85h-0.85zM177.3 279.2h0.85v0.85h-0.85zM146.3 285.4h0.85v0.85h-0.85zM148.5 279.6h0.85v0.85h-0.85zM148.5 282.0h0.85v0.85h-0.85zM176.5 280.9h0.85v0.85h-0.85zM155.3 266.2h0.85v0.85h-0.85zM176.4 278.2h0.85v0.85h-0.85zM149.2 270.6h0.85v0.85h-0.85zM164.6 263.2h0.85v0.85h-0.85zM171.6 264.2h0.85v0.85h-0.85zM171.5 266.4h0.85v0.85h-0.85zM178.8 291.7h0.85v0.85h-0.85zM148.4 281.3h0.85v0.85h-0.85zM148.3 274.8h0.85v0.85h-0.85zM159.1 264.7h0.85v0.85h-0.85zM154.9 265.1h0.85v0.85h-0.85zM150.2 267.7h0.85v0.85h-0.85zM178.7 283.2h0.85v0.85h-0.85zM154.5 266.0h0.85v0.85h-0.85zM176.8 264.7h0.85v0.85h-0.85zM172.4 262.5h0.85v0.85h-0.85zM176.8 267.0h0.85v0.85h-0.85zM147.1 279.4h0.85v0.85h-0.85zM153.0 266.5h0.85v0.85h-0.85zM171.4 264.4h0.85v0.85h-0.85zM152.7 266.7h0.85v0.85h-0.85zM172.9 264.4h0.85v0.85h-0.85zM146.6 274.9h0.85v0.85h-0.85zM170.9 265.8h0.85v0.85h-0.85zM170.5 265.7h0.85v0.85h-0.85zM148.4 270.5h0.85v0.85h-0.85zM145.7 268.7h0.85v0.85h-0.85zM161.0 265.0h0.85v0.85h-0.85zM171.7 264.8h0.85v0.85h-0.85zM160.9 266.0h0.85v0.85h-0.85zM175.7 265.7h0.85v0.85h-0.85zM156.0 266.4h0.85v0.85h-0.85zM147.9 279.4h0.85v0.85h-0.85zM149.4 268.3h0.85v0.85h-0.85zM160.6 265.9h0.85v0.85h-0.85zM178.2 278.1h0.85v0.85h-0.85zM146.4 274.3h0.85v0.85h-0.85zM177.9 279.6h0.85v0.85h-0.85zM178.7 266.6h0.85v0.85h-0.85zM170.6 262.9h0.85v0.85h-0.85zM177.8 268.3h0.85v0.85h-0.85zM155.2 264.9h0.85v0.85h-0.85zM182.5 277.0h0.85v0.85h-0.85zM177.7 271.1h0.85v0.85h-0.85zM160.7 265.8h0.85v0.85h-0.85zM144.7 279.7h0.85v0.85h-0.85zM176.9 273.6h0.85v0.85h-0.85zM156.3 266.1h0.85v0.85h-0.85zM178.3 273.0h0.85v0.85h-0.85zM177.0 271.2h0.85v0.85h-0.85zM177.8 277.3h0.85v0.85h-0.85zM146.5 291.1h0.85v0.85h-0.85zM178.4 289.1h0.85v0.85h-0.85zM148.6 288.7h0.85v0.85h-0.85zM177.5 282.6h0.85v0.85h-0.85zM165.0 264.8h0.85v0.85h-0.85zM165.8 266.2h0.85v0.85h-0.85zM176.5 287.5h0.85v0.85h-0.85zM177.6 288.0h0.85v0.85h-0.85zM150.8 267.2h0.85v0.85h-0.85zM169.6 264.0h0.85v0.85h-0.85zM169.8 264.7h0.85v0.85h-0.85zM179.9 287.1h0.85v0.85h-0.85zM174.8 266.1h0.85v0.85h-0.85zM178.4 274.7h0.85v0.85h-0.85zM145.8 272.9h0.85v0.85h-0.85zM177.7 282.3h0.85v0.85h-0.85zM174.6 267.5h0.85v0.85h-0.85zM148.4 291.8h0.85v0.85h-0.85zM168.7 264.0h0.85v0.85h-0.85zM176.9 267.5h0.85v0.85h-0.85zM148.6 270.1h0.85v0.85h-0.85zM174.8 265.5h0.85v0.85h-0.85zM150.3 269.5h0.85v0.85h-0.85zM152.2 264.6h0.85v0.85h-0.85zM150.8 266.9h0.85v0.85h-0.85zM147.0 281.5h0.85v0.85h-0.85zM146.6 290.9h0.85v0.85h-0.85zM178.4 272.9h0.85v0.85h-0.85zM150.1 267.4h0.85v0.85h-0.85zM176.0 270.1h0.85v0.85h-0.85zM179.3 289.3h0.85v0.85h-0.85zM158.6 266.1h0.85v0.85h-0.85zM160.0 265.0h0.85v0.85h-0.85zM176.5 274.3h0.85v0.85h-0.85zM177.5 281.7h0.85v0.85h-0.85zM147.4 292.9h0.85v0.85h-0.85zM148.6 271.3h0.85v0.85h-0.85zM146.0 278.9h0.85v0.85h-0.85zM178.0 278.7h0.85v0.85h-0.85zM178.6 290.0h0.85v0.85h-0.85zM162.7 264.7h0.85v0.85h-0.85zM178.6 275.4h0.85v0.85h-0.85zM147.7 276.4h0.85v0.85h-0.85zM146.5 284.8h0.85v0.85h-0.85zM173.9 265.5h0.85v0.85h-0.85zM157.5 263.3h0.85v0.85h-0.85zM145.5 276.1h0.85v0.85h-0.85zM172.4 266.3h0.85v0.85h-0.85zM156.1 263.3h0.85v0.85h-0.85zM156.5 265.6h0.85v0.85h-0.85zM177.8 288.0h0.85v0.85h-0.85zM150.1 269.7h0.85v0.85h-0.85zM147.5 294.1h0.85v0.85h-0.85zM149.2 266.7h0.85v0.85h-0.85zM147.3 282.5h0.85v0.85h-0.85zM176.6 278.5h0.85v0.85h-0.85zM178.2 285.1h0.85v0.85h-0.85zM176.4 263.0h0.85v0.85h-0.85zM179.3 277.0h0.85v0.85h-0.85zM147.3 287.7h0.85v0.85h-0.85zM146.6 289.7h0.85v0.85h-0.85zM175.0 263.2h0.85v0.85h-0.85zM162.4 262.8h0.85v0.85h-0.85zM146.3 280.6h0.85v0.85h-0.85zM149.4 268.2h0.85v0.85h-0.85zM168.8 265.4h0.85v0.85h-0.85zM145.4 279.5h0.85v0.85h-0.85zM148.0 291.6h0.85v0.85h-0.85zM147.7 279.7h0.85v0.85h-0.85zM178.0 274.7h0.85v0.85h-0.85zM179.1 292.1h0.85v0.85h-0.85zM147.9 267.2h0.85v0.85h-0.85zM147.9 272.2h0.85v0.85h-0.85zM172.9 264.8h0.85v0.85h-0.85zM149.8 269.2h0.85v0.85h-0.85zM148.6 266.1h0.85v0.85h-0.85zM174.3 266.1h0.85v0.85h-0.85zM160.8 264.8h0.85v0.85h-0.85zM147.4 290.0h0.85v0.85h-0.85zM157.0 263.6h0.85v0.85h-0.85zM176.5 284.9h0.85v0.85h-0.85zM147.0 293.9h0.85v0.85h-0.85zM151.3 268.0h0.85v0.85h-0.85zM158.4 265.2h0.85v0.85h-0.85zM146.9 284.7h0.85v0.85h-0.85zM178.4 288.2h0.85v0.85h-0.85zM158.4 264.2h0.85v0.85h-0.85zM180.7 285.2h0.85v0.85h-0.85zM149.3 267.4h0.85v0.85h-0.85zM157.3 265.9h0.85v0.85h-0.85zM179.4 288.7h0.85v0.85h-0.85zM147.9 283.4h0.85v0.85h-0.85zM148.0 284.4h0.85v0.85h-0.85zM174.6 267.0h0.85v0.85h-0.85zM174.5 267.3h0.85v0.85h-0.85zM177.0 281.4h0.85v0.85h-0.85zM150.9 265.6h0.85v0.85h-0.85zM147.1 274.9h0.85v0.85h-0.85zM146.1 285.0h0.85v0.85h-0.85zM172.0 264.8h0.85v0.85h-0.85zM156.8 262.9h0.85v0.85h-0.85zM169.6 264.9h0.85v0.85h-0.85zM163.8 265.5h0.85v0.85h-0.85zM179.1 279.2h0.85v0.85h-0.85zM162.1 264.4h0.85v0.85h-0.85zM171.7 266.7h0.85v0.85h-0.85zM147.8 279.3h0.85v0.85h-0.85zM145.1 281.3h0.85v0.85h-0.85zM171.7 265.3h0.85v0.85h-0.85zM146.6 279.0h0.85v0.85h-0.85zM155.5 265.5h0.85v0.85h-0.85zM147.4 284.3h0.85v0.85h-0.85zM163.6 264.8h0.85v0.85h-0.85zM145.5 279.6h0.85v0.85h-0.85zM147.5 292.6h0.85v0.85h-0.85zM161.0 264.1h0.85v0.85h-0.85zM156.6 263.7h0.85v0.85h-0.85zM147.8 289.3h0.85v0.85h-0.85zM182.0 286.2h0.85v0.85h-0.85zM147.0 293.6h0.85v0.85h-0.85zM148.1 282.2h0.85v0.85h-0.85zM177.3 286.0h0.85v0.85h-0.85zM145.7 285.0h0.85v0.85h-0.85zM178.8 281.8h0.85v0.85h-0.85zM179.0 282.2h0.85v0.85h-0.85zM148.6 272.2h0.85v0.85h-0.85zM177.0 274.8h0.85v0.85h-0.85zM165.0 266.0h0.85v0.85h-0.85zM147.5 272.4h0.85v0.85h-0.85zM146.9 286.7h0.85v0.85h-0.85zM148.5 285.3h0.85v0.85h-0.85zM172.2 266.7h0.85v0.85h-0.85zM149.2 271.2h0.85v0.85h-0.85zM147.2 279.2h0.85v0.85h-0.85zM146.7 269.8h0.85v0.85h-0.85zM175.1 268.3h0.85v0.85h-0.85zM176.4 284.8h0.85v0.85h-0.85zM174.2 266.0h0.85v0.85h-0.85zM177.7 281.1h0.85v0.85h-0.85zM147.4 287.4h0.85v0.85h-0.85zM147.9 280.6h0.85v0.85h-0.85zM161.0 266.2h0.85v0.85h-0.85zM147.9 280.2h0.85v0.85h-0.85zM150.0 269.6h0.85v0.85h-0.85zM167.3 264.2h0.85v0.85h-0.85zM177.2 290.7h0.85v0.85h-0.85zM159.4 263.8h0.85v0.85h-0.85zM162.2 266.0h0.85v0.85h-0.85zM177.3 291.3h0.85v0.85h-0.85zM148.3 283.8h0.85v0.85h-0.85zM146.3 292.3h0.85v0.85h-0.85zM147.1 273.0h0.85v0.85h-0.85zM176.7 290.6h0.85v0.85h-0.85zM160.5 265.7h0.85v0.85h-0.85zM168.0 263.4h0.85v0.85h-0.85zM145.5 277.5h0.85v0.85h-0.85zM146.9 290.5h0.85v0.85h-0.85zM177.5 288.7h0.85v0.85h-0.85zM150.8 266.6h0.85v0.85h-0.85zM152.1 267.8h0.85v0.85h-0.85zM146.3 275.8h0.85v0.85h-0.85zM177.9 269.8h0.85v0.85h-0.85zM160.4 264.1h0.85v0.85h-0.85zM156.9 263.4h0.85v0.85h-0.85zM176.6 291.5h0.85v0.85h-0.85zM155.1 265.8h0.85v0.85h-0.85zM179.4 282.4h0.85v0.85h-0.85zM178.2 281.2h0.85v0.85h-0.85zM176.3 270.3h0.85v0.85h-0.85zM147.7 285.9h0.85v0.85h-0.85zM178.9 277.6h0.85v0.85h-0.85zM177.1 276.6h0.85v0.85h-0.85zM146.2 276.5h0.85v0.85h-0.85zM176.0 269.9h0.85v0.85h-0.85zM182.2 276.3h0.85v0.85h-0.85zM180.1 293.0h0.85v0.85h-0.85zM149.3 266.6h0.85v0.85h-0.85zM151.9 267.3h0.85v0.85h-0.85zM149.6 269.6h0.85v0.85h-0.85zM160.7 264.3h0.85v0.85h-0.85zM178.6 287.0h0.85v0.85h-0.85zM177.1 276.1h0.85v0.85h-0.85zM156.1 266.3h0.85v0.85h-0.85zM149.3 265.9h0.85v0.85h-0.85zM147.8 280.8h0.85v0.85h-0.85zM168.8 262.5h0.85v0.85h-0.85zM150.2 266.1h0.85v0.85h-0.85zM178.1 280.9h0.85v0.85h-0.85zM176.6 277.6h0.85v0.85h-0.85zM150.3 267.0h0.85v0.85h-0.85zM148.0 292.3h0.85v0.85h-0.85zM146.5 275.6h0.85v0.85h-0.85zM177.0 289.3h0.85v0.85h-0.85zM179.5 283.2h0.85v0.85h-0.85zM169.1 264.7h0.85v0.85h-0.85zM167.5 264.8h0.85v0.85h-0.85zM148.5 281.7h0.85v0.85h-0.85zM146.0 276.3h0.85v0.85h-0.85zM148.8 273.5h0.85v0.85h-0.85zM145.5 268.5h0.85v0.85h-0.85zM173.8 267.2h0.85v0.85h-0.85zM148.5 282.1h0.85v0.85h-0.85zM148.5 283.8h0.85v0.85h-0.85zM175.7 265.9h0.85v0.85h-0.85zM154.6 264.1h0.85v0.85h-0.85zM146.7 287.7h0.85v0.85h-0.85zM177.7 274.5h0.85v0.85h-0.85zM147.5 282.1h0.85v0.85h-0.85zM148.7 269.9h0.85v0.85h-0.85zM144.1 279.6h0.85v0.85h-0.85zM151.8 264.6h0.85v0.85h-0.85zM149.2 271.2h0.85v0.85h-0.85zM176.4 270.3h0.85v0.85h-0.85zM148.8 273.5h0.85v0.85h-0.85zM176.5 285.1h0.85v0.85h-0.85zM147.4 269.7h0.85v0.85h-0.85zM146.5 286.2h0.85v0.85h-0.85zM154.0 262.3h0.85v0.85h-0.85zM177.4 278.3h0.85v0.85h-0.85zM153.0 267.2h0.85v0.85h-0.85zM178.1 287.9h0.85v0.85h-0.85zM178.8 287.1h0.85v0.85h-0.85zM149.4 271.4h0.85v0.85h-0.85zM162.1 266.1h0.85v0.85h-0.85zM152.9 264.5h0.85v0.85h-0.85zM148.3 289.7h0.85v0.85h-0.85zM177.4 284.2h0.85v0.85h-0.85zM148.1 285.6h0.85v0.85h-0.85zM147.6 289.3h0.85v0.85h-0.85zM147.2 274.8h0.85v0.85h-0.85zM177.2 283.1h0.85v0.85h-0.85zM173.8 264.0h0.85v0.85h-0.85zM148.6 270.6h0.85v0.85h-0.85zM158.2 263.9h0.85v0.85h-0.85zM176.7 284.0h0.85v0.85h-0.85zM177.2 288.3h0.85v0.85h-0.85zM146.8 275.1h0.85v0.85h-0.85zM173.6 267.2h0.85v0.85h-0.85zM143.8 276.7h0.85v0.85h-0.85zM157.1 265.0h0.85v0.85h-0.85zM177.5 276.9h0.85v0.85h-0.85zM176.4 271.9h0.85v0.85h-0.85zM144.3 283.6h0.85v0.85h-0.85zM178.9 272.2h0.85v0.85h-0.85zM176.9 275.1h0.85v0.85h-0.85zM176.7 287.6h0.85v0.85h-0.85zM155.6 266.4h0.85v0.85h-0.85zM148.1 293.1h0.85v0.85h-0.85zM176.7 289.2h0.85v0.85h-0.85zM148.0 265.8h0.85v0.85h-0.85zM160.2 265.3h0.85v0.85h-0.85zM147.3 286.5h0.85v0.85h-0.85zM148.0 269.3h0.85v0.85h-0.85zM177.9 269.9h0.85v0.85h-0.85zM167.6 265.7h0.85v0.85h-0.85zM176.8 276.6h0.85v0.85h-0.85zM176.7 266.0h0.85v0.85h-0.85zM154.3 262.3h0.85v0.85h-0.85zM160.1 265.8h0.85v0.85h-0.85zM145.8 275.9h0.85v0.85h-0.85zM162.6 265.6h0.85v0.85h-0.85zM178.3 281.3h0.85v0.85h-0.85zM147.7 281.5h0.85v0.85h-0.85zM148.6 273.2h0.85v0.85h-0.85zM178.8 283.1h0.85v0.85h-0.85zM159.5 265.1h0.85v0.85h-0.85zM146.2 292.6h0.85v0.85h-0.85zM161.2 263.6h0.85v0.85h-0.85zM145.8 283.6h0.85v0.85h-0.85zM148.9 272.3h0.85v0.85h-0.85zM156.5 262.5h0.85v0.85h-0.85zM149.3 266.0h0.85v0.85h-0.85zM177.6 270.2h0.85v0.85h-0.85zM149.0 271.3h0.85v0.85h-0.85zM146.4 289.0h0.85v0.85h-0.85zM177.1 273.3h0.85v0.85h-0.85zM147.7 281.0h0.85v0.85h-0.85zM159.2 264.9h0.85v0.85h-0.85zM176.8 278.8h0.85v0.85h-0.85zM146.7 283.9h0.85v0.85h-0.85zM158.0 264.6h0.85v0.85h-0.85zM178.1 291.4h0.85v0.85h-0.85zM173.7 265.3h0.85v0.85h-0.85zM163.4 265.6h0.85v0.85h-0.85zM174.3 265.7h0.85v0.85h-0.85zM179.2 284.7h0.85v0.85h-0.85zM145.5 288.1h0.85v0.85h-0.85zM147.7 289.0h0.85v0.85h-0.85zM161.4 264.5h0.85v0.85h-0.85zM168.2 265.9h0.85v0.85h-0.85zM177.2 290.9h0.85v0.85h-0.85zM148.4 287.5h0.85v0.85h-0.85zM178.5 287.8h0.85v0.85h-0.85zM141.4 290.5h0.85v0.85h-0.85zM178.2 280.5h0.85v0.85h-0.85zM177.9 286.3h0.85v0.85h-0.85zM148.1 292.6h0.85v0.85h-0.85zM154.1 265.2h0.85v0.85h-0.85zM147.2 273.5h0.85v0.85h-0.85zM146.4 279.2h0.85v0.85h-0.85zM176.6 276.0h0.85v0.85h-0.85zM177.8 279.2h0.85v0.85h-0.85zM178.1 285.6h0.85v0.85h-0.85zM152.4 266.6h0.85v0.85h-0.85zM176.4 289.6h0.85v0.85h-0.85zM147.9 293.2h0.85v0.85h-0.85zM177.8 282.0h0.85v0.85h-0.85zM146.3 290.9h0.85v0.85h-0.85zM180.8 284.2h0.85v0.85h-0.85zM148.5 287.4h0.85v0.85h-0.85zM177.6 272.4h0.85v0.85h-0.85zM157.2 265.3h0.85v0.85h-0.85zM147.4 292.3h0.85v0.85h-0.85zM175.2 268.9h0.85v0.85h-0.85zM178.3 277.0h0.85v0.85h-0.85zM160.0 265.5h0.85v0.85h-0.85zM172.5 264.4h0.85v0.85h-0.85zM173.6 258.2h0.85v0.85h-0.85zM155.3 265.5h0.85v0.85h-0.85zM145.8 286.7h0.85v0.85h-0.85zM158.3 265.4h0.85v0.85h-0.85zM180.8 287.9h0.85v0.85h-0.85zM148.2 292.1h0.85v0.85h-0.85zM160.5 263.8h0.85v0.85h-0.85zM179.2 271.7h0.85v0.85h-0.85zM148.6 278.3h0.85v0.85h-0.85zM147.0 288.7h0.85v0.85h-0.85zM168.7 264.9h0.85v0.85h-0.85zM176.5 289.6h0.85v0.85h-0.85zM167.8 265.1h0.85v0.85h-0.85zM151.1 268.5h0.85v0.85h-0.85zM147.2 291.0h0.85v0.85h-0.85zM177.5 271.7h0.85v0.85h-0.85zM177.6 275.0h0.85v0.85h-0.85zM178.0 279.8h0.85v0.85h-0.85zM180.6 281.4h0.85v0.85h-0.85zM150.0 270.1h0.85v0.85h-0.85zM145.0 282.7h0.85v0.85h-0.85zM148.5 273.2h0.85v0.85h-0.85zM147.6 287.2h0.85v0.85h-0.85zM149.2 270.9h0.85v0.85h-0.85zM167.2 262.9h0.85v0.85h-0.85zM160.7 265.3h0.85v0.85h-0.85zM146.7 292.7h0.85v0.85h-0.85zM155.7 265.8h0.85v0.85h-0.85zM148.2 285.9h0.85v0.85h-0.85zM155.1 265.4h0.85v0.85h-0.85zM148.2 270.8h0.85v0.85h-0.85zM152.5 266.1h0.85v0.85h-0.85zM148.5 281.5h0.85v0.85h-0.85zM148.7 274.7h0.85v0.85h-0.85zM154.3 262.9h0.85v0.85h-0.85zM178.0 279.8h0.85v0.85h-0.85zM158.8 265.8h0.85v0.85h-0.85zM146.6 287.4h0.85v0.85h-0.85zM176.9 291.6h0.85v0.85h-0.85zM146.6 274.3h0.85v0.85h-0.85zM182.9 272.8h0.85v0.85h-0.85zM176.6 272.9h0.85v0.85h-0.85zM146.0 289.5h0.85v0.85h-0.85zM148.4 273.6h0.85v0.85h-0.85zM177.7 280.8h0.85v0.85h-0.85zM148.6 279.2h0.85v0.85h-0.85zM177.4 284.0h0.85v0.85h-0.85zM147.7 287.3h0.85v0.85h-0.85zM149.0 271.7h0.85v0.85h-0.85zM174.9 267.0h0.85v0.85h-0.85zM178.0 289.6h0.85v0.85h-0.85zM180.0 284.3h0.85v0.85h-0.85zM179.7 276.3h0.85v0.85h-0.85zM177.6 280.7h0.85v0.85h-0.85zM173.0 265.2h0.85v0.85h-0.85zM153.3 265.1h0.85v0.85h-0.85zM179.6 278.9h0.85v0.85h-0.85zM147.7 290.5h0.85v0.85h-0.85zM161.1 264.7h0.85v0.85h-0.85zM148.6 276.2h0.85v0.85h-0.85zM176.9 273.2h0.85v0.85h-0.85zM172.6 262.5h0.85v0.85h-0.85zM142.6 269.2h0.85v0.85h-0.85zM151.2 263.9h0.85v0.85h-0.85zM147.0 265.9h0.85v0.85h-0.85zM155.1 264.4h0.85v0.85h-0.85zM152.2 265.6h0.85v0.85h-0.85zM165.1 263.9h0.85v0.85h-0.85zM162.0 265.6h0.85v0.85h-0.85zM148.8 270.5h0.85v0.85h-0.85zM176.4 282.2h0.85v0.85h-0.85zM176.7 272.9h0.85v0.85h-0.85zM148.1 266.2h0.85v0.85h-0.85zM177.4 286.2h0.85v0.85h-0.85zM174.0 266.1h0.85v0.85h-0.85zM147.5 288.9h0.85v0.85h-0.85zM179.5 275.9h0.85v0.85h-0.85zM158.2 265.8h0.85v0.85h-0.85zM177.9 287.0h0.85v0.85h-0.85zM161.5 265.8h0.85v0.85h-0.85zM174.0 267.8h0.85v0.85h-0.85zM155.1 265.1h0.85v0.85h-0.85zM164.3 265.0h0.85v0.85h-0.85zM148.4 278.0h0.85v0.85h-0.85zM180.8 283.9h0.85v0.85h-0.85zM147.6 271.4h0.85v0.85h-0.85zM177.6 284.0h0.85v0.85h-0.85zM148.3 272.6h0.85v0.85h-0.85zM147.8 273.4h0.85v0.85h-0.85zM176.7 277.5h0.85v0.85h-0.85zM154.8 264.9h0.85v0.85h-0.85zM177.5 273.3h0.85v0.85h-0.85zM163.5 238.4h0.85v0.85h-0.85zM161.2 242.1h0.85v0.85h-0.85zM157.8 228.8h0.85v0.85h-0.85zM156.2 238.5h0.85v0.85h-0.85zM160.5 241.6h0.85v0.85h-0.85zM156.9 231.0h0.85v0.85h-0.85zM163.4 232.1h0.85v0.85h-0.85zM160.3 239.4h0.85v0.85h-0.85zM163.9 237.5h0.85v0.85h-0.85zM157.6 230.6h0.85v0.85h-0.85zM155.2 229.2h0.85v0.85h-0.85zM167.5 237.0h0.85v0.85h-0.85zM150.9 234.6h0.85v0.85h-0.85zM162.6 230.4h0.85v0.85h-0.85zM156.9 229.4h0.85v0.85h-0.85zM166.2 239.0h0.85v0.85h-0.85zM151.8 236.9h0.85v0.85h-0.85zM166.0 233.1h0.85v0.85h-0.85zM163.4 232.7h0.85v0.85h-0.85zM160.7 240.2h0.85v0.85h-0.85zM155.1 233.0h0.85v0.85h-0.85zM163.7 233.4h0.85v0.85h-0.85zM157.6 243.7h0.85v0.85h-0.85zM161.4 238.7h0.85v0.85h-0.85zM158.4 227.5h0.85v0.85h-0.85zM160.3 229.2h0.85v0.85h-0.85zM161.3 230.4h0.85v0.85h-0.85zM165.3 234.5h0.85v0.85h-0.85zM163.9 242.1h0.85v0.85h-0.85zM163.8 230.3h0.85v0.85h-0.85zM157.1 238.6h0.85v0.85h-0.85zM163.0 230.5h0.85v0.85h-0.85zM163.4 229.9h0.85v0.85h-0.85zM160.0 229.7h0.85v0.85h-0.85zM154.4 235.3h0.85v0.85h-0.85zM157.2 230.9h0.85v0.85h-0.85zM160.1 240.2h0.85v0.85h-0.85zM160.0 229.5h0.85v0.85h-0.85zM164.8 235.2h0.85v0.85h-0.85zM153.4 228.3h0.85v0.85h-0.85zM164.9 230.7h0.85v0.85h-0.85zM164.0 233.0h0.85v0.85h-0.85zM162.6 241.2h0.85v0.85h-0.85zM162.1 240.5h0.85v0.85h-0.85zM164.5 229.9h0.85v0.85h-0.85zM159.9 227.2h0.85v0.85h-0.85zM153.7 232.4h0.85v0.85h-0.85zM156.7 228.5h0.85v0.85h-0.85zM163.6 237.3h0.85v0.85h-0.85zM159.1 228.4h0.85v0.85h-0.85zM156.1 239.0h0.85v0.85h-0.85zM160.1 240.9h0.85v0.85h-0.85zM165.5 235.1h0.85v0.85h-0.85zM155.6 232.9h0.85v0.85h-0.85zM155.2 234.3h0.85v0.85h-0.85zM155.2 232.4h0.85v0.85h-0.85zM159.0 227.5h0.85v0.85h-0.85zM165.6 236.7h0.85v0.85h-0.85zM164.8 235.7h0.85v0.85h-0.85zM153.0 231.9h0.85v0.85h-0.85zM155.0 232.6h0.85v0.85h-0.85zM160.2 238.9h0.85v0.85h-0.85zM156.1 242.3h0.85v0.85h-0.85zM163.9 229.8h0.85v0.85h-0.85zM165.6 236.6h0.85v0.85h-0.85zM155.1 230.0h0.85v0.85h-0.85zM153.5 238.0h0.85v0.85h-0.85zM159.7 241.4h0.85v0.85h-0.85zM158.4 239.6h0.85v0.85h-0.85zM163.9 237.7h0.85v0.85h-0.85zM152.7 230.3h0.85v0.85h-0.85zM164.9 233.5h0.85v0.85h-0.85zM153.9 237.5h0.85v0.85h-0.85zM165.5 232.7h0.85v0.85h-0.85zM155.7 229.6h0.85v0.85h-0.85zM153.7 236.7h0.85v0.85h-0.85zM167.8 231.4h0.85v0.85h-0.85zM157.5 238.9h0.85v0.85h-0.85zM162.0 231.1h0.85v0.85h-0.85zM165.0 239.5h0.85v0.85h-0.85zM154.3 237.6h0.85v0.85h-0.85zM155.5 236.7h0.85v0.85h-0.85zM165.6 236.4h0.85v0.85h-0.85zM153.5 230.8h0.85v0.85h-0.85zM157.9 228.2h0.85v0.85h-0.85zM164.0 231.1h0.85v0.85h-0.85zM154.8 232.1h0.85v0.85h-0.85zM162.8 237.6h0.85v0.85h-0.85zM161.5 228.9h0.85v0.85h-0.85zM155.9 238.9h0.85v0.85h-0.85zM164.4 238.2h0.85v0.85h-0.85zM164.9 230.8h0.85v0.85h-0.85zM154.6 237.7h0.85v0.85h-0.85zM159.2 240.1h0.85v0.85h-0.85zM164.6 234.3h0.85v0.85h-0.85zM166.3 239.1h0.85v0.85h-0.85zM157.1 226.2h0.85v0.85h-0.85zM163.8 236.3h0.85v0.85h-0.85zM164.4 235.3h0.85v0.85h-0.85zM163.3 237.4h0.85v0.85h-0.85zM161.3 239.0h0.85v0.85h-0.85zM157.7 229.9h0.85v0.85h-0.85zM157.0 230.4h0.85v0.85h-0.85zM156.5 240.4h0.85v0.85h-0.85zM155.2 230.7h0.85v0.85h-0.85zM168.2 238.6h0.85v0.85h-0.85zM165.0 230.9h0.85v0.85h-0.85zM163.0 228.3h0.85v0.85h-0.85zM164.7 233.8h0.85v0.85h-0.85zM159.6 230.4h0.85v0.85h-0.85zM157.2 239.0h0.85v0.85h-0.85zM159.6 227.2h0.85v0.85h-0.85zM164.4 233.1h0.85v0.85h-0.85zM163.8 233.6h0.85v0.85h-0.85zM159.2 230.2h0.85v0.85h-0.85zM161.3 230.1h0.85v0.85h-0.85zM157.0 226.0h0.85v0.85h-0.85zM164.9 235.4h0.85v0.85h-0.85zM157.0 238.1h0.85v0.85h-0.85zM165.7 232.8h0.85v0.85h-0.85zM160.5 240.9h0.85v0.85h-0.85zM156.0 229.5h0.85v0.85h-0.85zM164.9 234.1h0.85v0.85h-0.85zM163.8 232.1h0.85v0.85h-0.85zM163.7 237.0h0.85v0.85h-0.85zM156.5 238.2h0.85v0.85h-0.85zM163.8 231.7h0.85v0.85h-0.85zM163.7 240.7h0.85v0.85h-0.85zM163.4 232.5h0.85v0.85h-0.85zM152.2 235.6h0.85v0.85h-0.85zM159.4 240.1h0.85v0.85h-0.85zM153.4 236.5h0.85v0.85h-0.85zM162.9 229.0h0.85v0.85h-0.85zM165.5 234.2h0.85v0.85h-0.85zM161.9 238.6h0.85v0.85h-0.85zM163.6 232.5h0.85v0.85h-0.85zM163.8 236.3h0.85v0.85h-0.85zM164.5 235.0h0.85v0.85h-0.85zM159.1 229.1h0.85v0.85h-0.85zM153.2 235.5h0.85v0.85h-0.85zM163.0 240.3h0.85v0.85h-0.85zM157.4 229.8h0.85v0.85h-0.85zM155.3 238.1h0.85v0.85h-0.85zM162.4 239.4h0.85v0.85h-0.85zM152.6 228.6h0.85v0.85h-0.85zM156.9 231.1h0.85v0.85h-0.85zM156.4 231.3h0.85v0.85h-0.85zM154.4 235.6h0.85v0.85h-0.85zM164.5 238.7h0.85v0.85h-0.85zM163.9 235.2h0.85v0.85h-0.85zM160.8 230.0h0.85v0.85h-0.85zM162.2 241.1h0.85v0.85h-0.85zM158.8 228.4h0.85v0.85h-0.85zM155.3 235.1h0.85v0.85h-0.85zM157.5 230.1h0.85v0.85h-0.85zM157.7 239.3h0.85v0.85h-0.85zM164.3 232.2h0.85v0.85h-0.85zM164.6 231.3h0.85v0.85h-0.85zM164.7 232.1h0.85v0.85h-0.85zM164.6 230.9h0.85v0.85h-0.85zM156.3 227.8h0.85v0.85h-0.85zM159.3 241.6h0.85v0.85h-0.85zM164.6 230.3h0.85v0.85h-0.85zM160.3 241.1h0.85v0.85h-0.85zM157.2 240.0h0.85v0.85h-0.85zM155.6 230.6h0.85v0.85h-0.85zM163.5 230.6h0.85v0.85h-0.85zM159.1 240.3h0.85v0.85h-0.85zM155.4 233.9h0.85v0.85h-0.85zM165.4 240.6h0.85v0.85h-0.85zM155.1 233.7h0.85v0.85h-0.85zM154.5 239.6h0.85v0.85h-0.85zM158.1 228.6h0.85v0.85h-0.85zM155.5 236.5h0.85v0.85h-0.85zM155.1 233.0h0.85v0.85h-0.85zM163.1 228.4h0.85v0.85h-0.85zM163.0 228.9h0.85v0.85h-0.85zM161.0 238.8h0.85v0.85h-0.85zM163.7 232.5h0.85v0.85h-0.85zM156.3 238.1h0.85v0.85h-0.85zM154.9 240.7h0.85v0.85h-0.85zM157.0 239.3h0.85v0.85h-0.85zM165.3 232.5h0.85v0.85h-0.85zM164.2 231.9h0.85v0.85h-0.85zM157.0 231.1h0.85v0.85h-0.85zM163.3 237.3h0.85v0.85h-0.85zM159.0 242.7h0.85v0.85h-0.85zM166.9 231.6h0.85v0.85h-0.85zM153.1 232.0h0.85v0.85h-0.85zM167.0 233.4h0.85v0.85h-0.85zM161.6 239.8h0.85v0.85h-0.85zM160.4 229.8h0.85v0.85h-0.85zM163.9 235.3h0.85v0.85h-0.85zM154.8 234.5h0.85v0.85h-0.85zM163.7 237.6h0.85v0.85h-0.85zM153.2 233.8h0.85v0.85h-0.85zM164.5 236.5h0.85v0.85h-0.85zM158.6 239.1h0.85v0.85h-0.85zM158.8 239.7h0.85v0.85h-0.85zM166.2 233.9h0.85v0.85h-0.85zM153.4 232.7h0.85v0.85h-0.85zM159.9 230.1h0.85v0.85h-0.85zM158.2 229.7h0.85v0.85h-0.85zM161.4 228.8h0.85v0.85h-0.85zM163.8 235.2h0.85v0.85h-0.85zM155.6 240.5h0.85v0.85h-0.85zM163.8 236.3h0.85v0.85h-0.85zM151.4 237.5h0.85v0.85h-0.85zM160.8 229.3h0.85v0.85h-0.85zM164.0 230.6h0.85v0.85h-0.85zM156.6 239.8h0.85v0.85h-0.85zM167.2 228.3h0.85v0.85h-0.85zM160.8 230.3h0.85v0.85h-0.85zM162.7 229.4h0.85v0.85h-0.85zM153.9 236.3h0.85v0.85h-0.85zM155.7 230.8h0.85v0.85h-0.85zM162.0 238.2h0.85v0.85h-0.85zM154.2 229.9h0.85v0.85h-0.85zM160.5 229.0h0.85v0.85h-0.85zM162.2 240.3h0.85v0.85h-0.85zM168.2 238.1h0.85v0.85h-0.85zM161.6 229.0h0.85v0.85h-0.85zM155.0 235.1h0.85v0.85h-0.85zM162.5 231.4h0.85v0.85h-0.85zM155.7 230.6h0.85v0.85h-0.85zM154.3 230.0h0.85v0.85h-0.85zM157.3 229.8h0.85v0.85h-0.85zM163.9 237.7h0.85v0.85h-0.85zM155.1 235.9h0.85v0.85h-0.85zM162.0 231.1h0.85v0.85h-0.85zM162.8 231.5h0.85v0.85h-0.85zM154.9 232.6h0.85v0.85h-0.85zM164.4 235.5h0.85v0.85h-0.85zM152.9 235.3h0.85v0.85h-0.85zM164.1 236.2h0.85v0.85h-0.85zM160.0 228.8h0.85v0.85h-0.85zM163.7 240.4h0.85v0.85h-0.85zM158.7 229.2h0.85v0.85h-0.85zM164.5 237.1h0.85v0.85h-0.85zM155.2 243.3h0.85v0.85h-0.85zM155.6 236.8h0.85v0.85h-0.85zM157.0 238.8h0.85v0.85h-0.85zM156.1 241.1h0.85v0.85h-0.85zM163.4 232.4h0.85v0.85h-0.85zM161.6 229.9h0.85v0.85h-0.85zM155.9 237.1h0.85v0.85h-0.85zM154.7 235.9h0.85v0.85h-0.85zM155.0 235.6h0.85v0.85h-0.85zM157.3 230.7h0.85v0.85h-0.85zM148.0 238.1h0.85v0.85h-0.85zM164.1 234.1h0.85v0.85h-0.85zM160.5 229.7h0.85v0.85h-0.85zM153.5 235.2h0.85v0.85h-0.85zM158.2 229.6h0.85v0.85h-0.85zM154.2 238.6h0.85v0.85h-0.85zM157.5 240.7h0.85v0.85h-0.85zM153.2 237.4h0.85v0.85h-0.85zM162.7 238.6h0.85v0.85h-0.85zM155.6 237.3h0.85v0.85h-0.85zM154.4 232.5h0.85v0.85h-0.85zM158.4 241.3h0.85v0.85h-0.85zM155.1 233.7h0.85v0.85h-0.85zM155.5 229.8h0.85v0.85h-0.85zM153.3 232.9h0.85v0.85h-0.85zM154.3 231.1h0.85v0.85h-0.85zM159.4 229.1h0.85v0.85h-0.85zM156.2 241.8h0.85v0.85h-0.85zM165.5 237.6h0.85v0.85h-0.85zM155.0 236.4h0.85v0.85h-0.85zM155.0 236.3h0.85v0.85h-0.85zM165.5 233.1h0.85v0.85h-0.85zM159.2 239.2h0.85v0.85h-0.85zM156.4 239.7h0.85v0.85h-0.85zM154.8 234.3h0.85v0.85h-0.85zM156.1 231.3h0.85v0.85h-0.85zM160.9 242.5h0.85v0.85h-0.85zM165.9 235.8h0.85v0.85h-0.85zM161.9 238.3h0.85v0.85h-0.85zM152.8 235.0h0.85v0.85h-0.85zM156.9 239.2h0.85v0.85h-0.85zM155.7 238.1h0.85v0.85h-0.85zM155.1 234.5h0.85v0.85h-0.85zM162.8 238.9h0.85v0.85h-0.85zM164.1 234.3h0.85v0.85h-0.85zM161.9 228.6h0.85v0.85h-0.85zM154.9 235.5h0.85v0.85h-0.85zM157.3 238.1h0.85v0.85h-0.85zM155.7 239.4h0.85v0.85h-0.85zM161.8 228.1h0.85v0.85h-0.85zM167.4 233.9h0.85v0.85h-0.85zM158.3 240.6h0.85v0.85h-0.85zM162.8 238.0h0.85v0.85h-0.85zM161.9 229.3h0.85v0.85h-0.85zM162.8 231.0h0.85v0.85h-0.85zM167.9 233.0h0.85v0.85h-0.85zM156.2 229.1h0.85v0.85h-0.85zM165.5 229.5h0.85v0.85h-0.85zM159.9 230.1h0.85v0.85h-0.85zM155.2 231.0h0.85v0.85h-0.85zM155.4 235.6h0.85v0.85h-0.85zM163.9 239.6h0.85v0.85h-0.85zM159.4 230.2h0.85v0.85h-0.85zM165.2 231.2h0.85v0.85h-0.85zM161.4 229.0h0.85v0.85h-0.85zM160.4 229.8h0.85v0.85h-0.85zM163.9 232.6h0.85v0.85h-0.85zM162.6 239.6h0.85v0.85h-0.85zM153.7 238.7h0.85v0.85h-0.85zM156.4 229.6h0.85v0.85h-0.85zM161.6 239.7h0.85v0.85h-0.85zM157.9 229.2h0.85v0.85h-0.85zM151.1 229.4h0.85v0.85h-0.85zM163.8 229.6h0.85v0.85h-0.85zM165.9 228.1h0.85v0.85h-0.85zM165.1 232.6h0.85v0.85h-0.85zM153.3 239.2h0.85v0.85h-0.85zM157.0 230.6h0.85v0.85h-0.85zM160.6 240.0h0.85v0.85h-0.85zM164.1 232.7h0.85v0.85h-0.85zM162.7 230.6h0.85v0.85h-0.85zM154.0 233.1h0.85v0.85h-0.85zM164.2 237.7h0.85v0.85h-0.85zM159.9 229.8h0.85v0.85h-0.85zM164.2 233.4h0.85v0.85h-0.85zM155.3 235.8h0.85v0.85h-0.85zM164.1 237.9h0.85v0.85h-0.85zM160.2 230.1h0.85v0.85h-0.85zM166.4 237.4h0.85v0.85h-0.85zM164.0 228.6h0.85v0.85h-0.85zM160.1 228.5h0.85v0.85h-0.85zM161.3 240.9h0.85v0.85h-0.85zM160.2 229.4h0.85v0.85h-0.85zM154.4 229.3h0.85v0.85h-0.85zM163.9 241.6h0.85v0.85h-0.85zM164.4 234.4h0.85v0.85h-0.85zM162.3 238.9h0.85v0.85h-0.85zM159.7 229.5h0.85v0.85h-0.85zM160.4 240.2h0.85v0.85h-0.85zM162.3 231.3h0.85v0.85h-0.85zM159.8 240.5h0.85v0.85h-0.85zM163.7 232.7h0.85v0.85h-0.85zM164.9 235.2h0.85v0.85h-0.85zM158.4 228.4h0.85v0.85h-0.85zM153.2 234.1h0.85v0.85h-0.85zM167.8 233.1h0.85v0.85h-0.85zM162.7 231.3h0.85v0.85h-0.85zM162.5 239.0h0.85v0.85h-0.85zM166.3 233.2h0.85v0.85h-0.85zM165.6 231.2h0.85v0.85h-0.85zM162.0 239.1h0.85v0.85h-0.85zM160.1 241.3h0.85v0.85h-0.85zM165.3 237.9h0.85v0.85h-0.85zM155.0 232.2h0.85v0.85h-0.85zM155.4 238.1h0.85v0.85h-0.85zM168.2 237.5h0.85v0.85h-0.85zM163.6 231.1h0.85v0.85h-0.85zM160.6 239.9h0.85v0.85h-0.85zM155.7 229.9h0.85v0.85h-0.85zM162.7 229.4h0.85v0.85h-0.85zM153.9 238.3h0.85v0.85h-0.85zM160.9 238.9h0.85v0.85h-0.85zM162.4 238.3h0.85v0.85h-0.85zM164.7 242.7h0.85v0.85h-0.85zM155.6 236.2h0.85v0.85h-0.85zM158.1 240.2h0.85v0.85h-0.85zM159.5 244.2h0.85v0.85h-0.85zM154.0 231.3h0.85v0.85h-0.85zM157.9 230.1h0.85v0.85h-0.85zM160.4 230.0h0.85v0.85h-0.85zM164.9 231.1h0.85v0.85h-0.85zM164.6 232.1h0.85v0.85h-0.85zM157.2 240.6h0.85v0.85h-0.85zM164.2 240.5h0.85v0.85h-0.85zM164.4 232.3h0.85v0.85h-0.85zM161.1 239.6h0.85v0.85h-0.85zM156.9 238.6h0.85v0.85h-0.85zM158.2 238.9h0.85v0.85h-0.85zM164.1 231.7h0.85v0.85h-0.85zM154.1 237.0h0.85v0.85h-0.85zM153.9 233.8h0.85v0.85h-0.85zM158.1 240.3h0.85v0.85h-0.85zM162.6 229.1h0.85v0.85h-0.85zM165.3 237.2h0.85v0.85h-0.85zM153.8 239.6h0.85v0.85h-0.85zM155.3 238.6h0.85v0.85h-0.85zM156.2 237.2h0.85v0.85h-0.85zM163.8 235.9h0.85v0.85h-0.85zM162.2 229.2h0.85v0.85h-0.85zM160.1 238.8h0.85v0.85h-0.85zM163.6 239.4h0.85v0.85h-0.85zM158.6 239.3h0.85v0.85h-0.85zM151.2 236.3h0.85v0.85h-0.85zM161.8 238.4h0.85v0.85h-0.85zM164.2 241.6h0.85v0.85h-0.85zM166.1 228.1h0.85v0.85h-0.85zM168.7 234.6h0.85v0.85h-0.85zM153.6 230.7h0.85v0.85h-0.85zM163.5 242.3h0.85v0.85h-0.85zM158.5 228.3h0.85v0.85h-0.85zM158.9 228.2h0.85v0.85h-0.85zM152.2 237.2h0.85v0.85h-0.85zM163.7 231.8h0.85v0.85h-0.85zM166.2 230.8h0.85v0.85h-0.85zM153.8 240.2h0.85v0.85h-0.85zM156.9 239.4h0.85v0.85h-0.85zM165.8 233.0h0.85v0.85h-0.85zM153.6 236.0h0.85v0.85h-0.85zM155.4 238.9h0.85v0.85h-0.85zM158.0 239.8h0.85v0.85h-0.85zM165.6 234.0h0.85v0.85h-0.85zM162.2 230.8h0.85v0.85h-0.85zM163.8 236.6h0.85v0.85h-0.85zM160.1 228.5h0.85v0.85h-0.85zM163.7 232.6h0.85v0.85h-0.85zM159.6 241.7h0.85v0.85h-0.85zM162.0 239.5h0.85v0.85h-0.85zM161.1 241.0h0.85v0.85h-0.85zM160.0 242.6h0.85v0.85h-0.85zM160.7 240.8h0.85v0.85h-0.85zM155.3 235.6h0.85v0.85h-0.85zM163.7 237.2h0.85v0.85h-0.85zM154.9 233.3h0.85v0.85h-0.85zM165.9 229.2h0.85v0.85h-0.85zM152.6 234.3h0.85v0.85h-0.85zM153.2 238.2h0.85v0.85h-0.85zM162.0 228.2h0.85v0.85h-0.85zM153.0 233.1h0.85v0.85h-0.85zM164.3 237.3h0.85v0.85h-0.85zM157.0 238.7h0.85v0.85h-0.85zM153.4 231.2h0.85v0.85h-0.85zM153.4 236.4h0.85v0.85h-0.85zM155.4 236.3h0.85v0.85h-0.85zM155.6 236.7h0.85v0.85h-0.85zM154.5 227.4h0.85v0.85h-0.85zM165.2 231.5h0.85v0.85h-0.85zM154.8 234.9h0.85v0.85h-0.85zM154.8 229.9h0.85v0.85h-0.85zM155.3 238.2h0.85v0.85h-0.85zM165.6 238.2h0.85v0.85h-0.85zM161.6 238.7h0.85v0.85h-0.85zM161.3 240.2h0.85v0.85h-0.85zM156.0 237.7h0.85v0.85h-0.85zM158.6 240.6h0.85v0.85h-0.85zM153.0 231.3h0.85v0.85h-0.85zM155.5 238.5h0.85v0.85h-0.85zM155.7 228.7h0.85v0.85h-0.85zM164.1 230.5h0.85v0.85h-0.85zM153.8 227.0h0.85v0.85h-0.85zM164.6 231.3h0.85v0.85h-0.85zM165.8 232.6h0.85v0.85h-0.85zM155.6 241.2h0.85v0.85h-0.85zM158.2 230.2h0.85v0.85h-0.85zM164.1 232.1h0.85v0.85h-0.85zM165.8 234.4h0.85v0.85h-0.85zM164.0 233.0h0.85v0.85h-0.85zM156.2 231.7h0.85v0.85h-0.85zM157.8 230.3h0.85v0.85h-0.85zM163.5 236.8h0.85v0.85h-0.85zM158.8 229.5h0.85v0.85h-0.85zM162.1 229.1h0.85v0.85h-0.85zM154.8 238.2h0.85v0.85h-0.85zM162.6 238.4h0.85v0.85h-0.85zM155.8 237.0h0.85v0.85h-0.85zM163.2 236.9h0.85v0.85h-0.85zM163.4 238.2h0.85v0.85h-0.85zM162.1 229.5h0.85v0.85h-0.85zM153.5 233.5h0.85v0.85h-0.85zM159.5 229.5h0.85v0.85h-0.85zM158.5 229.1h0.85v0.85h-0.85zM155.3 238.9h0.85v0.85h-0.85zM162.3 238.8h0.85v0.85h-0.85zM163.8 242.1h0.85v0.85h-0.85zM159.8 228.9h0.85v0.85h-0.85zM152.9 236.4h0.85v0.85h-0.85zM164.4 232.9h0.85v0.85h-0.85zM154.7 238.1h0.85v0.85h-0.85zM157.1 238.4h0.85v0.85h-0.85zM157.3 230.1h0.85v0.85h-0.85zM157.6 230.7h0.85v0.85h-0.85zM160.7 227.6h0.85v0.85h-0.85zM162.8 231.8h0.85v0.85h-0.85zM155.8 230.2h0.85v0.85h-0.85zM156.3 239.7h0.85v0.85h-0.85zM157.6 241.5h0.85v0.85h-0.85zM154.9 228.6h0.85v0.85h-0.85zM162.9 238.1h0.85v0.85h-0.85zM160.1 239.0h0.85v0.85h-0.85zM157.6 230.1h0.85v0.85h-0.85zM154.5 238.1h0.85v0.85h-0.85zM167.3 238.8h0.85v0.85h-0.85zM152.9 234.6h0.85v0.85h-0.85zM154.8 236.6h0.85v0.85h-0.85zM159.0 238.8h0.85v0.85h-0.85zM164.4 234.5h0.85v0.85h-0.85zM166.5 230.2h0.85v0.85h-0.85zM158.7 230.2h0.85v0.85h-0.85zM159.2 240.4h0.85v0.85h-0.85zM157.6 228.1h0.85v0.85h-0.85zM162.8 228.9h0.85v0.85h-0.85zM161.1 229.2h0.85v0.85h-0.85zM156.8 228.8h0.85v0.85h-0.85zM155.2 235.2h0.85v0.85h-0.85zM151.5 232.8h0.85v0.85h-0.85zM158.2 241.2h0.85v0.85h-0.85zM157.0 238.5h0.85v0.85h-0.85zM160.2 239.0h0.85v0.85h-0.85zM158.8 228.1h0.85v0.85h-0.85zM162.4 229.1h0.85v0.85h-0.85zM161.3 243.7h0.85v0.85h-0.85zM162.0 240.5h0.85v0.85h-0.85zM156.4 238.4h0.85v0.85h-0.85zM165.0 235.3h0.85v0.85h-0.85zM159.5 225.6h0.85v0.85h-0.85zM160.5 239.3h0.85v0.85h-0.85zM159.6 240.2h0.85v0.85h-0.85zM165.7 231.4h0.85v0.85h-0.85zM155.1 229.5h0.85v0.85h-0.85zM163.2 228.1h0.85v0.85h-0.85zM152.0 235.1h0.85v0.85h-0.85zM156.9 239.6h0.85v0.85h-0.85zM164.4 237.0h0.85v0.85h-0.85zM165.4 237.9h0.85v0.85h-0.85zM163.4 236.4h0.85v0.85h-0.85zM155.2 238.7h0.85v0.85h-0.85zM158.2 227.2h0.85v0.85h-0.85zM165.9 234.6h0.85v0.85h-0.85zM165.4 230.9h0.85v0.85h-0.85zM162.8 238.3h0.85v0.85h-0.85zM161.7 230.4h0.85v0.85h-0.85zM154.7 237.4h0.85v0.85h-0.85zM163.9 233.7h0.85v0.85h-0.85zM156.8 228.5h0.85v0.85h-0.85zM165.7 232.4h0.85v0.85h-0.85zM164.1 230.8h0.85v0.85h-0.85zM165.1 236.5h0.85v0.85h-0.85zM155.4 235.9h0.85v0.85h-0.85zM164.0 228.4h0.85v0.85h-0.85zM160.4 227.1h0.85v0.85h-0.85zM160.7 238.7h0.85v0.85h-0.85zM156.1 239.9h0.85v0.85h-0.85zM152.1 237.1h0.85v0.85h-0.85zM155.6 233.1h0.85v0.85h-0.85zM163.6 236.5h0.85v0.85h-0.85zM156.9 238.2h0.85v0.85h-0.85zM156.7 230.2h0.85v0.85h-0.85zM165.7 236.7h0.85v0.85h-0.85zM156.4 231.0h0.85v0.85h-0.85zM155.8 230.5h0.85v0.85h-0.85zM154.0 238.4h0.85v0.85h-0.85zM164.3 235.6h0.85v0.85h-0.85zM165.1 237.3h0.85v0.85h-0.85zM163.0 239.0h0.85v0.85h-0.85zM154.5 231.7h0.85v0.85h-0.85zM163.4 236.7h0.85v0.85h-0.85zM162.7 231.3h0.85v0.85h-0.85zM159.3 240.2h0.85v0.85h-0.85zM164.5 231.1h0.85v0.85h-0.85zM162.2 241.1h0.85v0.85h-0.85zM155.4 231.3h0.85v0.85h-0.85zM157.2 227.4h0.85v0.85h-0.85zM153.3 234.8h0.85v0.85h-0.85zM162.4 229.6h0.85v0.85h-0.85zM155.8 232.5h0.85v0.85h-0.85zM165.5 234.3h0.85v0.85h-0.85zM155.1 236.5h0.85v0.85h-0.85zM155.2 230.5h0.85v0.85h-0.85zM165.2 240.4h0.85v0.85h-0.85zM157.9 239.3h0.85v0.85h-0.85zM163.7 239.4h0.85v0.85h-0.85zM163.6 239.8h0.85v0.85h-0.85zM164.0 238.5h0.85v0.85h-0.85zM159.7 240.0h0.85v0.85h-0.85zM155.0 234.6h0.85v0.85h-0.85zM168.3 238.8h0.85v0.85h-0.85zM155.7 238.4h0.85v0.85h-0.85zM156.5 231.0h0.85v0.85h-0.85zM162.9 230.9h0.85v0.85h-0.85zM162.8 228.8h0.85v0.85h-0.85zM159.0 240.0h0.85v0.85h-0.85zM153.3 237.0h0.85v0.85h-0.85zM155.8 228.7h0.85v0.85h-0.85zM164.0 232.2h0.85v0.85h-0.85zM155.8 240.2h0.85v0.85h-0.85zM162.6 240.7h0.85v0.85h-0.85zM165.2 228.7h0.85v0.85h-0.85zM155.1 226.4h0.85v0.85h-0.85zM153.9 236.1h0.85v0.85h-0.85zM161.8 229.4h0.85v0.85h-0.85zM162.1 240.3h0.85v0.85h-0.85zM165.0 238.9h0.85v0.85h-0.85zM155.6 236.6h0.85v0.85h-0.85zM157.5 238.5h0.85v0.85h-0.85zM165.4 233.8h0.85v0.85h-0.85zM159.2 239.3h0.85v0.85h-0.85zM154.1 233.0h0.85v0.85h-0.85zM153.4 233.8h0.85v0.85h-0.85zM159.1 227.4h0.85v0.85h-0.85zM161.7 229.5h0.85v0.85h-0.85zM155.1 227.8h0.85v0.85h-0.85zM165.1 232.1h0.85v0.85h-0.85zM164.8 229.9h0.85v0.85h-0.85zM155.0 235.0h0.85v0.85h-0.85zM164.8 240.6h0.85v0.85h-0.85zM161.5 239.7h0.85v0.85h-0.85zM153.5 236.4h0.85v0.85h-0.85zM152.7 231.4h0.85v0.85h-0.85zM158.8 239.4h0.85v0.85h-0.85zM158.1 238.8h0.85v0.85h-0.85zM155.8 237.6h0.85v0.85h-0.85zM165.5 236.6h0.85v0.85h-0.85zM162.2 240.2h0.85v0.85h-0.85zM159.2 241.1h0.85v0.85h-0.85zM157.9 230.2h0.85v0.85h-0.85zM160.9 241.1h0.85v0.85h-0.85zM160.5 240.4h0.85v0.85h-0.85zM166.3 236.5h0.85v0.85h-0.85zM161.1 230.4h0.85v0.85h-0.85zM162.2 238.9h0.85v0.85h-0.85zM156.8 229.4h0.85v0.85h-0.85zM164.4 236.4h0.85v0.85h-0.85zM158.8 228.6h0.85v0.85h-0.85zM166.1 234.3h0.85v0.85h-0.85zM164.2 236.5h0.85v0.85h-0.85zM155.7 231.3h0.85v0.85h-0.85zM163.1 231.4h0.85v0.85h-0.85zM158.4 228.4h0.85v0.85h-0.85zM164.6 236.6h0.85v0.85h-0.85zM157.5 239.5h0.85v0.85h-0.85zM158.8 229.4h0.85v0.85h-0.85zM157.9 238.7h0.85v0.85h-0.85zM153.3 238.4h0.85v0.85h-0.85zM163.4 236.6h0.85v0.85h-0.85zM160.8 227.9h0.85v0.85h-0.85zM159.7 239.2h0.85v0.85h-0.85zM152.9 234.7h0.85v0.85h-0.85zM163.3 242.2h0.85v0.85h-0.85zM161.8 240.4h0.85v0.85h-0.85zM149.6 236.7h0.85v0.85h-0.85zM154.5 231.2h0.85v0.85h-0.85zM163.5 230.6h0.85v0.85h-0.85zM155.9 239.1h0.85v0.85h-0.85zM154.0 235.9h0.85v0.85h-0.85zM158.4 241.2h0.85v0.85h-0.85zM164.6 235.0h0.85v0.85h-0.85zM153.7 231.7h0.85v0.85h-0.85zM156.9 238.1h0.85v0.85h-0.85zM157.9 240.4h0.85v0.85h-0.85zM155.4 230.3h0.85v0.85h-0.85zM163.8 236.6h0.85v0.85h-0.85zM154.0 233.3h0.85v0.85h-0.85zM147.0 237.1h0.85v0.85h-0.85zM164.3 235.9h0.85v0.85h-0.85zM155.4 258.2h0.85v0.85h-0.85zM169.9 247.6h0.85v0.85h-0.85zM144.0 232.7h0.85v0.85h-0.85zM151.2 245.9h0.85v0.85h-0.85zM150.3 247.0h0.85v0.85h-0.85zM151.7 234.5h0.85v0.85h-0.85zM158.8 234.6h0.85v0.85h-0.85zM153.5 235.6h0.85v0.85h-0.85zM158.2 247.2h0.85v0.85h-0.85zM163.3 247.2h0.85v0.85h-0.85zM168.3 227.8h0.85v0.85h-0.85zM162.0 245.2h0.85v0.85h-0.85zM165.6 234.9h0.85v0.85h-0.85zM148.0 241.1h0.85v0.85h-0.85zM152.2 240.8h0.85v0.85h-0.85zM155.4 250.9h0.85v0.85h-0.85zM162.2 233.6h0.85v0.85h-0.85zM154.6 237.8h0.85v0.85h-0.85zM160.3 245.7h0.85v0.85h-0.85zM159.4 230.2h0.85v0.85h-0.85zM156.7 237.9h0.85v0.85h-0.85zM162.3 233.1h0.85v0.85h-0.85zM149.1 242.8h0.85v0.85h-0.85zM152.8 240.4h0.85v0.85h-0.85zM152.2 236.4h0.85v0.85h-0.85zM146.0 246.4h0.85v0.85h-0.85zM162.4 222.6h0.85v0.85h-0.85zM148.9 234.4h0.85v0.85h-0.85zM173.3 241.2h0.85v0.85h-0.85zM161.3 220.2h0.85v0.85h-0.85zM149.6 241.6h0.85v0.85h-0.85zM162.7 234.5h0.85v0.85h-0.85zM162.3 241.8h0.85v0.85h-0.85zM156.8 249.3h0.85v0.85h-0.85zM160.2 236.8h0.85v0.85h-0.85zM158.2 237.0h0.85v0.85h-0.85zM172.3 232.2h0.85v0.85h-0.85zM156.2 244.8h0.85v0.85h-0.85zM144.1 232.1h0.85v0.85h-0.85zM161.5 232.9h0.85v0.85h-0.85zM146.2 245.4h0.85v0.85h-0.85zM155.3 237.9h0.85v0.85h-0.85zM155.0 235.1h0.85v0.85h-0.85zM149.5 237.3h0.85v0.85h-0.85zM154.0 239.6h0.85v0.85h-0.85zM159.7 238.6h0.85v0.85h-0.85zM167.1 235.3h0.85v0.85h-0.85zM154.9 231.7h0.85v0.85h-0.85zM163.7 224.1h0.85v0.85h-0.85zM168.3 249.6h0.85v0.85h-0.85zM159.3 245.2h0.85v0.85h-0.85zM170.3 231.3h0.85v0.85h-0.85zM160.4 245.6h0.85v0.85h-0.85zM163.9 243.0h0.85v0.85h-0.85zM151.8 248.2h0.85v0.85h-0.85zM166.4 234.0h0.85v0.85h-0.85zM162.6 218.2h0.85v0.85h-0.85zM159.0 240.7h0.85v0.85h-0.85zM154.3 244.0h0.85v0.85h-0.85zM171.7 230.9h0.85v0.85h-0.85zM173.1 239.3h0.85v0.85h-0.85zM141.0 240.9h0.85v0.85h-0.85zM157.9 230.1h0.85v0.85h-0.85zM158.8 243.8h0.85v0.85h-0.85zM144.3 241.7h0.85v0.85h-0.85zM150.9 229.9h0.85v0.85h-0.85zM153.2 239.8h0.85v0.85h-0.85zM151.6 243.8h0.85v0.85h-0.85zM158.4 247.4h0.85v0.85h-0.85zM149.6 230.9h0.85v0.85h-0.85zM159.6 239.2h0.85v0.85h-0.85zM162.1 231.3h0.85v0.85h-0.85zM168.3 236.7h0.85v0.85h-0.85zM156.8 235.4h0.85v0.85h-0.85zM164.6 246.2h0.85v0.85h-0.85zM160.7 248.7h0.85v0.85h-0.85zM158.2 239.8h0.85v0.85h-0.85zM156.1 245.0h0.85v0.85h-0.85zM154.5 240.7h0.85v0.85h-0.85zM170.0 243.0h0.85v0.85h-0.85zM161.7 249.9h0.85v0.85h-0.85zM139.8 240.8h0.85v0.85h-0.85zM158.3 228.6h0.85v0.85h-0.85zM160.4 244.7h0.85v0.85h-0.85zM153.9 236.3h0.85v0.85h-0.85zM161.5 238.9h0.85v0.85h-0.85zM150.7 236.7h0.85v0.85h-0.85zM167.1 242.9h0.85v0.85h-0.85zM160.6 228.3h0.85v0.85h-0.85zM148.1 230.9h0.85v0.85h-0.85zM156.9 225.4h0.85v0.85h-0.85zM161.1 241.7h0.85v0.85h-0.85zM164.5 243.8h0.85v0.85h-0.85zM144.8 238.6h0.85v0.85h-0.85zM152.5 247.6h0.85v0.85h-0.85zM163.4 234.4h0.85v0.85h-0.85zM155.6 239.8h0.85v0.85h-0.85zM160.5 239.0h0.85v0.85h-0.85zM157.2 236.2h0.85v0.85h-0.85zM162.7 241.4h0.85v0.85h-0.85zM153.2 232.3h0.85v0.85h-0.85zM159.4 242.1h0.85v0.85h-0.85zM156.9 249.4h0.85v0.85h-0.85zM152.6 234.1h0.85v0.85h-0.85zM149.0 230.8h0.85v0.85h-0.85zM152.1 229.8h0.85v0.85h-0.85zM166.8 250.5h0.85v0.85h-0.85zM143.4 239.2h0.85v0.85h-0.85zM145.5 285.0h0.85v0.85h-0.85zM149.1 291.1h0.85v0.85h-0.85zM145.7 282.3h0.85v0.85h-0.85zM147.8 289.2h0.85v0.85h-0.85zM146.6 281.1h0.85v0.85h-0.85zM149.7 284.1h0.85v0.85h-0.85zM150.0 278.8h0.85v0.85h-0.85zM149.0 285.9h0.85v0.85h-0.85zM147.9 285.3h0.85v0.85h-0.85zM147.7 276.8h0.85v0.85h-0.85zM145.4 281.7h0.85v0.85h-0.85zM146.4 285.6h0.85v0.85h-0.85zM148.6 292.9h0.85v0.85h-0.85zM146.9 280.2h0.85v0.85h-0.85zM146.7 278.5h0.85v0.85h-0.85zM147.1 277.7h0.85v0.85h-0.85zM145.3 280.6h0.85v0.85h-0.85zM147.6 282.6h0.85v0.85h-0.85zM147.4 274.4h0.85v0.85h-0.85zM144.0 287.1h0.85v0.85h-0.85zM150.3 278.5h0.85v0.85h-0.85zM145.7 281.0h0.85v0.85h-0.85zM147.6 288.5h0.85v0.85h-0.85zM145.7 293.1h0.85v0.85h-0.85zM145.0 283.5h0.85v0.85h-0.85zM148.2 281.6h0.85v0.85h-0.85zM144.7 283.0h0.85v0.85h-0.85zM146.6 290.9h0.85v0.85h-0.85zM147.6 278.0h0.85v0.85h-0.85zM146.1 280.4h0.85v0.85h-0.85zM146.6 276.5h0.85v0.85h-0.85zM146.5 287.8h0.85v0.85h-0.85zM147.7 285.6h0.85v0.85h-0.85zM143.7 280.8h0.85v0.85h-0.85zM142.3 276.3h0.85v0.85h-0.85zM146.9 280.0h0.85v0.85h-0.85zM148.2 280.5h0.85v0.85h-0.85zM150.1 291.9h0.85v0.85h-0.85zM143.7 287.3h0.85v0.85h-0.85zM146.9 289.7h0.85v0.85h-0.85zM145.2 289.0h0.85v0.85h-0.85zM148.4 283.8h0.85v0.85h-0.85zM146.3 275.4h0.85v0.85h-0.85zM143.6 290.1h0.85v0.85h-0.85zM146.7 285.6h0.85v0.85h-0.85zM145.6 282.9h0.85v0.85h-0.85zM147.6 278.6h0.85v0.85h-0.85zM146.1 287.6h0.85v0.85h-0.85zM148.7 294.5h0.85v0.85h-0.85zM147.4 277.0h0.85v0.85h-0.85zM148.8 289.5h0.85v0.85h-0.85zM147.1 288.4h0.85v0.85h-0.85zM146.8 291.2h0.85v0.85h-0.85zM146.2 288.1h0.85v0.85h-0.85zM145.6 266.4h0.85v0.85h-0.85zM146.6 286.4h0.85v0.85h-0.85zM147.2 285.9h0.85v0.85h-0.85zM148.7 284.3h0.85v0.85h-0.85zM145.4 271.0h0.85v0.85h-0.85zM146.5 291.8h0.85v0.85h-0.85zM149.1 279.2h0.85v0.85h-0.85zM144.5 274.7h0.85v0.85h-0.85zM146.0 283.3h0.85v0.85h-0.85zM144.9 276.3h0.85v0.85h-0.85zM145.5 275.5h0.85v0.85h-0.85zM146.0 279.2h0.85v0.85h-0.85zM148.5 289.3h0.85v0.85h-0.85zM146.0 276.0h0.85v0.85h-0.85zM147.4 273.9h0.85v0.85h-0.85zM144.6 278.0h0.85v0.85h-0.85zM145.2 282.4h0.85v0.85h-0.85zM147.3 273.7h0.85v0.85h-0.85zM149.4 282.7h0.85v0.85h-0.85zM144.5 274.7h0.85v0.85h-0.85zM148.4 290.6h0.85v0.85h-0.85zM147.4 288.9h0.85v0.85h-0.85zM144.9 284.8h0.85v0.85h-0.85zM145.4 289.3h0.85v0.85h-0.85zM146.0 285.4h0.85v0.85h-0.85zM147.8 286.5h0.85v0.85h-0.85zM145.6 289.7h0.85v0.85h-0.85zM146.4 289.8h0.85v0.85h-0.85zM147.5 278.7h0.85v0.85h-0.85zM147.8 289.5h0.85v0.85h-0.85zM147.2 281.7h0.85v0.85h-0.85zM144.8 286.3h0.85v0.85h-0.85zM147.9 289.5h0.85v0.85h-0.85zM147.8 276.7h0.85v0.85h-0.85zM144.5 288.8h0.85v0.85h-0.85zM146.1 283.8h0.85v0.85h-0.85zM147.5 279.6h0.85v0.85h-0.85zM147.4 286.2h0.85v0.85h-0.85zM145.8 285.1h0.85v0.85h-0.85zM147.9 285.1h0.85v0.85h-0.85zM148.8 285.4h0.85v0.85h-0.85zM147.9 280.2h0.85v0.85h-0.85zM149.9 286.6h0.85v0.85h-0.85zM148.4 285.0h0.85v0.85h-0.85zM148.6 287.3h0.85v0.85h-0.85zM145.4 286.9h0.85v0.85h-0.85zM147.9 273.5h0.85v0.85h-0.85zM145.9 287.1h0.85v0.85h-0.85zM143.5 284.3h0.85v0.85h-0.85zM147.0 289.8h0.85v0.85h-0.85zM146.9 285.8h0.85v0.85h-0.85zM144.9 283.6h0.85v0.85h-0.85zM149.8 278.5h0.85v0.85h-0.85zM144.6 274.1h0.85v0.85h-0.85zM146.2 285.0h0.85v0.85h-0.85zM147.4 279.5h0.85v0.85h-0.85zM146.0 285.8h0.85v0.85h-0.85zM147.1 279.3h0.85v0.85h-0.85zM150.1 271.1h0.85v0.85h-0.85zM186.5 256.4h0.85v0.85h-0.85zM182.9 257.8h0.85v0.85h-0.85zM185.8 254.8h0.85v0.85h-0.85zM183.3 257.9h0.85v0.85h-0.85zM168.6 265.8h0.85v0.85h-0.85zM174.8 264.7h0.85v0.85h-0.85zM180.9 258.5h0.85v0.85h-0.85zM177.4 258.8h0.85v0.85h-0.85zM178.7 263.4h0.85v0.85h-0.85zM187.6 250.7h0.85v0.85h-0.85zM185.9 260.8h0.85v0.85h-0.85zM179.1 265.9h0.85v0.85h-0.85zM187.8 258.5h0.85v0.85h-0.85zM179.9 259.1h0.85v0.85h-0.85zM184.4 257.6h0.85v0.85h-0.85zM181.9 260.5h0.85v0.85h-0.85zM169.4 265.3h0.85v0.85h-0.85zM176.2 260.7h0.85v0.85h-0.85zM180.1 262.0h0.85v0.85h-0.85zM174.2 260.8h0.85v0.85h-0.85zM179.7 256.5h0.85v0.85h-0.85zM191.1 254.1h0.85v0.85h-0.85zM185.4 260.2h0.85v0.85h-0.85zM181.5 259.1h0.85v0.85h-0.85zM176.3 258.9h0.85v0.85h-0.85zM181.7 261.2h0.85v0.85h-0.85zM179.2 263.1h0.85v0.85h-0.85zM183.0 256.1h0.85v0.85h-0.85zM179.0 252.5h0.85v0.85h-0.85zM182.3 257.4h0.85v0.85h-0.85zM184.7 250.5h0.85v0.85h-0.85zM185.2 257.6h0.85v0.85h-0.85zM185.6 258.5h0.85v0.85h-0.85zM177.4 262.7h0.85v0.85h-0.85zM178.5 262.0h0.85v0.85h-0.85zM174.1 261.9h0.85v0.85h-0.85zM186.6 258.5h0.85v0.85h-0.85zM190.9 254.0h0.85v0.85h-0.85zM178.6 262.1h0.85v0.85h-0.85zM185.1 259.5h0.85v0.85h-0.85zM184.3 259.1h0.85v0.85h-0.85zM184.8 258.5h0.85v0.85h-0.85zM182.3 262.0h0.85v0.85h-0.85zM179.5 259.4h0.85v0.85h-0.85zM183.8 256.2h0.85v0.85h-0.85zM180.3 260.8h0.85v0.85h-0.85zM180.4 263.3h0.85v0.85h-0.85zM180.3 264.4h0.85v0.85h-0.85zM175.0 262.7h0.85v0.85h-0.85zM187.2 255.5h0.85v0.85h-0.85zM186.3 260.0h0.85v0.85h-0.85zM179.7 266.0h0.85v0.85h-0.85zM180.8 266.0h0.85v0.85h-0.85zM185.0 261.8h0.85v0.85h-0.85zM187.4 255.3h0.85v0.85h-0.85zM177.2 268.7h0.85v0.85h-0.85zM180.9 257.8h0.85v0.85h-0.85zM177.1 258.2h0.85v0.85h-0.85zM181.7 259.3h0.85v0.85h-0.85zM178.3 266.6h0.85v0.85h-0.85zM183.8 260.9h0.85v0.85h-0.85zM186.4 258.1h0.85v0.85h-0.85zM175.6 261.4h0.85v0.85h-0.85zM184.3 256.2h0.85v0.85h-0.85zM183.4 258.2h0.85v0.85h-0.85zM181.7 262.8h0.85v0.85h-0.85zM176.9 257.9h0.85v0.85h-0.85zM177.0 270.8h0.85v0.85h-0.85zM176.1 260.3h0.85v0.85h-0.85zM182.7 256.6h0.85v0.85h-0.85zM190.3 253.4h0.85v0.85h-0.85zM178.1 257.7h0.85v0.85h-0.85zM184.2 259.9h0.85v0.85h-0.85zM184.7 264.2h0.85v0.85h-0.85zM184.0 258.1h0.85v0.85h-0.85zM183.7 256.3h0.85v0.85h-0.85zM187.4 261.0h0.85v0.85h-0.85zM182.6 258.8h0.85v0.85h-0.85zM186.7 256.2h0.85v0.85h-0.85zM181.0 257.9h0.85v0.85h-0.85zM185.8 256.5h0.85v0.85h-0.85zM187.2 252.0h0.85v0.85h-0.85zM186.3 256.9h0.85v0.85h-0.85zM187.2 254.3h0.85v0.85h-0.85zM182.3 258.5h0.85v0.85h-0.85zM180.2 261.5h0.85v0.85h-0.85zM183.4 257.6h0.85v0.85h-0.85zM185.6 257.8h0.85v0.85h-0.85zM180.9 254.7h0.85v0.85h-0.85zM186.9 257.9h0.85v0.85h-0.85zM182.8 256.9h0.85v0.85h-0.85zM176.6 266.1h0.85v0.85h-0.85zM187.2 262.8h0.85v0.85h-0.85zM178.7 258.4h0.85v0.85h-0.85zM179.0 260.4h0.85v0.85h-0.85zM174.0 260.5h0.85v0.85h-0.85zM184.3 256.7h0.85v0.85h-0.85zM190.3 259.8h0.85v0.85h-0.85zM175.8 260.1h0.85v0.85h-0.85zM186.1 256.2h0.85v0.85h-0.85zM179.6 262.7h0.85v0.85h-0.85zM182.4 258.7h0.85v0.85h-0.85zM174.4 268.9h0.85v0.85h-0.85zM191.9 248.8h0.85v0.85h-0.85zM180.7 259.1h0.85v0.85h-0.85zM176.8 262.3h0.85v0.85h-0.85zM177.4 259.9h0.85v0.85h-0.85zM187.8 253.2h0.85v0.85h-0.85zM177.2 261.2h0.85v0.85h-0.85zM173.6 266.1h0.85v0.85h-0.85zM179.5 266.1h0.85v0.85h-0.85zM179.5 269.8h0.85v0.85h-0.85zM179.8 255.5h0.85v0.85h-0.85zM177.2 260.4h0.85v0.85h-0.85zM177.5 261.0h0.85v0.85h-0.85zM187.7 261.7h0.85v0.85h-0.85zM184.8 258.0h0.85v0.85h-0.85zM175.2 261.4h0.85v0.85h-0.85zM180.8 266.8h0.85v0.85h-0.85zM178.3 263.6h0.85v0.85h-0.85zM185.2 262.1h0.85v0.85h-0.85zM182.4 260.5h0.85v0.85h-0.85zM181.1 258.4h0.85v0.85h-0.85zM182.5 259.7h0.85v0.85h-0.85zM185.7 252.6h0.85v0.85h-0.85zM178.5 265.1h0.85v0.85h-0.85zM179.6 259.5h0.85v0.85h-0.85zM185.2 256.7h0.85v0.85h-0.85zM188.4 257.4h0.85v0.85h-0.85zM185.3 257.4h0.85v0.85h-0.85zM184.0 258.3h0.85v0.85h-0.85zM178.7 257.4h0.85v0.85h-0.85zM176.6 259.6h0.85v0.85h-0.85zM179.1 259.9h0.85v0.85h-0.85zM174.8 267.0h0.85v0.85h-0.85zM178.0 264.4h0.85v0.85h-0.85zM183.7 258.8h0.85v0.85h-0.85zM180.5 261.4h0.85v0.85h-0.85zM173.2 264.5h0.85v0.85h-0.85zM186.3 260.1h0.85v0.85h-0.85zM187.7 255.1h0.85v0.85h-0.85zM193.7 248.8h0.85v0.85h-0.85zM187.3 253.0h0.85v0.85h-0.85zM187.1 254.7h0.85v0.85h-0.85zM185.8 257.9h0.85v0.85h-0.85zM192.3 254.4h0.85v0.85h-0.85zM189.0 249.6h0.85v0.85h-0.85zM193.0 249.9h0.85v0.85h-0.85zM186.1 251.6h0.85v0.85h-0.85zM189.2 252.4h0.85v0.85h-0.85zM190.7 255.0h0.85v0.85h-0.85zM186.6 253.8h0.85v0.85h-0.85zM194.7 246.7h0.85v0.85h-0.85zM192.1 251.6h0.85v0.85h-0.85zM196.2 251.6h0.85v0.85h-0.85zM187.0 254.3h0.85v0.85h-0.85zM193.6 253.0h0.85v0.85h-0.85zM188.5 253.5h0.85v0.85h-0.85zM192.4 251.5h0.85v0.85h-0.85zM189.5 251.4h0.85v0.85h-0.85zM194.5 246.8h0.85v0.85h-0.85zM189.7 255.9h0.85v0.85h-0.85zM190.6 260.6h0.85v0.85h-0.85zM188.1 254.8h0.85v0.85h-0.85zM192.8 251.9h0.85v0.85h-0.85zM186.6 254.7h0.85v0.85h-0.85zM186.8 251.7h0.85v0.85h-0.85zM188.3 254.1h0.85v0.85h-0.85zM190.6 252.5h0.85v0.85h-0.85zM187.2 254.6h0.85v0.85h-0.85zM187.0 252.3h0.85v0.85h-0.85zM191.7 251.6h0.85v0.85h-0.85zM187.9 253.8h0.85v0.85h-0.85zM192.4 249.3h0.85v0.85h-0.85zM192.3 248.2h0.85v0.85h-0.85zM188.8 255.7h0.85v0.85h-0.85zM187.6 251.8h0.85v0.85h-0.85zM191.0 251.2h0.85v0.85h-0.85zM194.8 251.2h0.85v0.85h-0.85zM188.9 253.6h0.85v0.85h-0.85zM190.0 255.1h0.85v0.85h-0.85zM189.8 248.3h0.85v0.85h-0.85zM187.1 252.7h0.85v0.85h-0.85zM192.8 250.9h0.85v0.85h-0.85zM190.0 253.7h0.85v0.85h-0.85zM192.5 251.2h0.85v0.85h-0.85zM192.3 249.6h0.85v0.85h-0.85zM192.9 254.4h0.85v0.85h-0.85zM187.2 255.1h0.85v0.85h-0.85zM189.0 254.4h0.85v0.85h-0.85zM177.0 251.3h0.85v0.85h-0.85zM169.9 251.3h0.85v0.85h-0.85zM170.0 248.9h0.85v0.85h-0.85zM178.0 250.1h0.85v0.85h-0.85zM168.6 246.5h0.85v0.85h-0.85zM167.2 244.9h0.85v0.85h-0.85zM170.6 240.8h0.85v0.85h-0.85zM173.8 247.9h0.85v0.85h-0.85zM163.7 248.4h0.85v0.85h-0.85zM172.7 248.3h0.85v0.85h-0.85zM171.7 246.5h0.85v0.85h-0.85zM170.3 256.7h0.85v0.85h-0.85zM175.4 246.6h0.85v0.85h-0.85zM174.8 246.6h0.85v0.85h-0.85zM174.6 248.0h0.85v0.85h-0.85zM168.4 253.8h0.85v0.85h-0.85zM173.8 250.2h0.85v0.85h-0.85zM177.2 248.4h0.85v0.85h-0.85zM177.4 253.1h0.85v0.85h-0.85zM171.6 250.5h0.85v0.85h-0.85zM172.8 252.2h0.85v0.85h-0.85zM164.4 257.0h0.85v0.85h-0.85zM177.1 254.4h0.85v0.85h-0.85zM170.0 250.7h0.85v0.85h-0.85zM177.8 244.8h0.85v0.85h-0.85zM166.4 250.1h0.85v0.85h-0.85zM172.4 249.7h0.85v0.85h-0.85zM172.4 248.1h0.85v0.85h-0.85zM171.3 251.2h0.85v0.85h-0.85zM169.4 250.8h0.85v0.85h-0.85zM173.5 250.8h0.85v0.85h-0.85zM166.3 248.9h0.85v0.85h-0.85zM176.1 247.8h0.85v0.85h-0.85zM171.5 251.2h0.85v0.85h-0.85zM174.8 250.6h0.85v0.85h-0.85zM165.2 247.1h0.85v0.85h-0.85zM173.2 249.5h0.85v0.85h-0.85zM169.5 245.6h0.85v0.85h-0.85zM171.3 246.2h0.85v0.85h-0.85zM173.7 248.1h0.85v0.85h-0.85zM178.3 248.5h0.85v0.85h-0.85zM174.1 254.5h0.85v0.85h-0.85zM178.0 242.1h0.85v0.85h-0.85zM176.2 258.1h0.85v0.85h-0.85zM174.3 254.3h0.85v0.85h-0.85zM171.3 253.4h0.85v0.85h-0.85zM169.6 255.2h0.85v0.85h-0.85zM167.4 248.0h0.85v0.85h-0.85zM173.3 250.3h0.85v0.85h-0.85zM163.3 253.7h0.85v0.85h-0.85zM178.5 249.3h0.85v0.85h-0.85zM174.5 254.8h0.85v0.85h-0.85zM172.0 246.4h0.85v0.85h-0.85zM180.9 246.3h0.85v0.85h-0.85zM176.8 246.5h0.85v0.85h-0.85zM171.7 248.2h0.85v0.85h-0.85zM170.4 256.7h0.85v0.85h-0.85zM178.2 249.4h0.85v0.85h-0.85zM175.8 252.6h0.85v0.85h-0.85zM169.5 249.7h0.85v0.85h-0.85z" fill="#000" fill-opacity="0.72"/>
<path d="M149.4 292.5 L149.4 278 C149.4 271 152.5 267.1 159 267.1 L168 267.1 C173 267.1 175.6 269.5 175.6 274" fill="none" stroke="#000" stroke-width="4.2" stroke-opacity="0.85" filter="url(#b1)"/>
<path d="M175.6 274 L175.6 291 L174 292.5" fill="none" stroke="#000" stroke-width="3.6" stroke-opacity="0.75" filter="url(#b1)"/>
<circle cx="159.6" cy="234.6" r="4.6" fill="none" stroke="#000" stroke-width="2.8" stroke-opacity="0.8" filter="url(#b1)"/>
<path d="M149.4 292.5 L149.4 278 C149.4 271 152.5 267.1 159 267.1 L168 267.1 C173 267.1 175.6 269.5 175.6 274 L175.6 291 L174 292.5 Z" fill="url(#g2)" stroke="#fff" stroke-width="1.1"/>
<path d="M152.5 292 L152.5 279.5 C152.5 274 155 270.5 160 270.5 L167 270.5 C171 270.5 172.6 272.5 172.6 276 L172.6 292" fill="none" stroke="#aaa" stroke-width="0.5"/>
<rect x="160.5" y="278" width="3.2" height="13.5" fill="#9a9a9a" opacity="0.6"/>
<circle cx="159.6" cy="234.6" r="3.5" fill="#fff"/>
<rect x="146" y="292.8" width="31" height="1.8" fill="#222" opacity="0.8" filter="url(#b1)"/>
<rect x="134.60" y="212.20" width="85.70" height="83.30" fill="none" stroke="#777" stroke-width="0.9"/>
<line x1="180.80" y1="212.20" x2="180.80" y2="257.20" stroke="#555" stroke-width="0.9"/>
<line x1="134.60" y1="257.20" x2="180.80" y2="257.20" stroke="#555" stroke-width="0.9"/>
<text x="187.70" y="225.30" font-size="9.9" text-anchor="start" font-weight="bold" fill="#111" stroke="#111" stroke-width="0.18" >3%</text>
<text x="131.00" y="296.80" font-size="3.8" text-anchor="end" font-weight="bold" fill="#444">10<tspan font-size="2.36" dy="-1.60">0</tspan></text>
<text x="134.30" y="301.90" font-size="3.8" text-anchor="middle" font-weight="bold" fill="#444">10<tspan font-size="2.36" dy="-1.60">0</tspan></text>
<text x="131.00" y="275.98" font-size="3.8" text-anchor="end" font-weight="bold" fill="#444">10<tspan font-size="2.36" dy="-1.60">1</tspan></text>
<text x="155.72" y="301.90" font-size="3.8" text-anchor="middle" font-weight="bold" fill="#444">10<tspan font-size="2.36" dy="-1.60">1</tspan></text>
<text x="131.00" y="255.15" font-size="3.8" text-anchor="end" font-weight="bold" fill="#444">10<tspan font-size="2.36" dy="-1.60">2</tspan></text>
<text x="177.15" y="301.90" font-size="3.8" text-anchor="middle" font-weight="bold" fill="#444">10<tspan font-size="2.36" dy="-1.60">2</tspan></text>
<text x="131.00" y="234.32" font-size="3.8" text-anchor="end" font-weight="bold" fill="#444">10<tspan font-size="2.36" dy="-1.60">3</tspan></text>
<text x="198.57" y="301.90" font-size="3.8" text-anchor="middle" font-weight="bold" fill="#444">10<tspan font-size="2.36" dy="-1.60">3</tspan></text>
<text x="131.00" y="213.50" font-size="3.8" text-anchor="end" font-weight="bold" fill="#444">10<tspan font-size="2.36" dy="-1.60">4</tspan></text>
<text x="220.00" y="301.90" font-size="3.8" text-anchor="middle" font-weight="bold" fill="#444">10<tspan font-size="2.36" dy="-1.60">4</tspan></text>
<path d="M134.6 289.2h1.2M141.0 295.5v-1.2M134.6 285.6h1.2M144.8 295.5v-1.2M134.6 283.0h1.2M147.5 295.5v-1.2M134.6 280.9h1.2M149.6 295.5v-1.2M134.6 279.3h1.2M151.3 295.5v-1.2M134.6 277.9h1.2M152.7 295.5v-1.2M134.6 276.7h1.2M153.9 295.5v-1.2M134.6 275.6h1.2M155.0 295.5v-1.2M134.6 268.4h1.2M162.5 295.5v-1.2M134.6 264.7h1.2M166.2 295.5v-1.2M134.6 262.1h1.2M168.9 295.5v-1.2M134.6 260.1h1.2M171.0 295.5v-1.2M134.6 258.5h1.2M172.7 295.5v-1.2M134.6 257.1h1.2M174.1 295.5v-1.2M134.6 255.9h1.2M175.4 295.5v-1.2M134.6 254.8h1.2M176.5 295.5v-1.2M134.6 247.6h1.2M183.9 295.5v-1.2M134.6 243.9h1.2M187.7 295.5v-1.2M134.6 241.3h1.2M190.3 295.5v-1.2M134.6 239.3h1.2M192.4 295.5v-1.2M134.6 237.6h1.2M194.1 295.5v-1.2M134.6 236.3h1.2M195.6 295.5v-1.2M134.6 235.0h1.2M196.8 295.5v-1.2M134.6 234.0h1.2M197.9 295.5v-1.2M134.6 226.8h1.2M205.3 295.5v-1.2M134.6 223.1h1.2M209.1 295.5v-1.2M134.6 220.5h1.2M211.8 295.5v-1.2M134.6 218.5h1.2M213.9 295.5v-1.2M134.6 216.8h1.2M215.5 295.5v-1.2M134.6 215.4h1.2M217.0 295.5v-1.2M134.6 214.2h1.2M218.2 295.5v-1.2M134.6 213.2h1.2M219.3 295.5v-1.2" stroke="#999" stroke-width="0.5" fill="none"/>
<line x1="295.40" y1="185.00" x2="295.40" y2="304.90" stroke="#444" stroke-width="1"/>
<line x1="295.40" y1="304.90" x2="465.70" y2="304.90" stroke="#444" stroke-width="1"/>
<line x1="380.50" y1="304.90" x2="380.50" y2="306.90" stroke="#333" stroke-width="0.8"/>
<line x1="292.60" y1="304.90" x2="295.40" y2="304.90" stroke="#333" stroke-width="0.9"/>
<text x="287.50" y="307.40" font-size="5.9" text-anchor="end" font-weight="bold" fill="#111" stroke="#111" stroke-width="0.18" >10</text>
<text x="287.80" y="304.00" font-size="4.5" text-anchor="start" font-weight="bold" fill="#111" stroke="#111" stroke-width="0.18" >-3</text>
<line x1="292.60" y1="275.00" x2="295.40" y2="275.00" stroke="#333" stroke-width="0.9"/>
<text x="287.50" y="277.50" font-size="5.9" text-anchor="end" font-weight="bold" fill="#111" stroke="#111" stroke-width="0.18" >10</text>
<text x="287.80" y="274.10" font-size="4.5" text-anchor="start" font-weight="bold" fill="#111" stroke="#111" stroke-width="0.18" >-2</text>
<line x1="292.60" y1="245.10" x2="295.40" y2="245.10" stroke="#333" stroke-width="0.9"/>
<text x="287.50" y="247.60" font-size="5.9" text-anchor="end" font-weight="bold" fill="#111" stroke="#111" stroke-width="0.18" >10</text>
<text x="287.80" y="244.20" font-size="4.5" text-anchor="start" font-weight="bold" fill="#111" stroke="#111" stroke-width="0.18" >-1</text>
<line x1="292.60" y1="215.20" x2="295.40" y2="215.20" stroke="#333" stroke-width="0.9"/>
<text x="287.50" y="217.70" font-size="5.9" text-anchor="end" font-weight="bold" fill="#111" stroke="#111" stroke-width="0.18" >10</text>
<text x="287.80" y="214.30" font-size="4.5" text-anchor="start" font-weight="bold" fill="#111" stroke="#111" stroke-width="0.18" >0</text>
<line x1="292.60" y1="185.30" x2="295.40" y2="185.30" stroke="#333" stroke-width="0.9"/>
<text x="287.50" y="190.80" font-size="5.9" text-anchor="end" font-weight="bold" fill="#111" stroke="#111" stroke-width="0.18" >10</text>
<text x="287.80" y="187.40" font-size="4.5" text-anchor="start" font-weight="bold" fill="#111" stroke="#111" stroke-width="0.18" >1</text>
<text x="337.00" y="315.00" font-size="6.4" text-anchor="middle" font-weight="bold" fill="#111" stroke="#111" stroke-width="0.18" >untreated</text>
<text x="422.60" y="315.00" font-size="6.4" text-anchor="middle" font-weight="bold" fill="#111" stroke="#111" stroke-width="0.18" >treated</text>
<line x1="338.00" y1="188.00" x2="338.00" y2="200.00" stroke="#999" stroke-width="1"/>
<line x1="336.80" y1="188.00" x2="339.20" y2="188.00" stroke="#999" stroke-width="0.8"/>
<line x1="338.00" y1="214.80" x2="338.00" y2="222.70" stroke="#999" stroke-width="1"/>
<line x1="336.80" y1="214.80" x2="339.20" y2="214.80" stroke="#999" stroke-width="0.8"/>
<line x1="337.60" y1="257.10" x2="337.60" y2="269.00" stroke="#999" stroke-width="1"/>
<line x1="336.40" y1="257.10" x2="338.80" y2="257.10" stroke="#999" stroke-width="0.8"/>
<circle cx="338" cy="200.1" r="2.1" fill="#000"/>
<circle cx="338" cy="222.7" r="2.1" fill="#888"/>
<circle cx="337.6" cy="269" r="2" fill="#fff" stroke="#aaa" stroke-width="0.9"/>
<line x1="422.80" y1="205.10" x2="422.80" y2="229.00" stroke="#aaa" stroke-width="0.9"/>
<line x1="421.80" y1="205.10" x2="423.80" y2="205.10" stroke="#aaa" stroke-width="0.8"/>
<path d="M422.8 214.1 L425.2 218.2 L420.4 218.2 Z" fill="#000"/>
<path d="M422.8 228.3 L425.3 232.7 L420.3 232.7 Z" fill="#7a7a7a"/>
<path d="M422.8 300.4 L425.1 304.5 L420.5 304.5 Z" fill="#fff" stroke="#999" stroke-width="0.8"/>
<text x="0.00" y="0.00" font-size="6.85" text-anchor="middle" font-weight="bold" fill="#111" stroke="#111" stroke-width="0.18" transform="translate(256.0,261.8) rotate(-90)">Human CD45+ cells</text>
<text x="0.00" y="0.00" font-size="6.5" text-anchor="middle" font-weight="bold" fill="#111" stroke="#111" stroke-width="0.18" transform="translate(266.6,261.2) rotate(-90)" xml:space="preserve">in murine BM  [%]</text>
</svg></body></html>
